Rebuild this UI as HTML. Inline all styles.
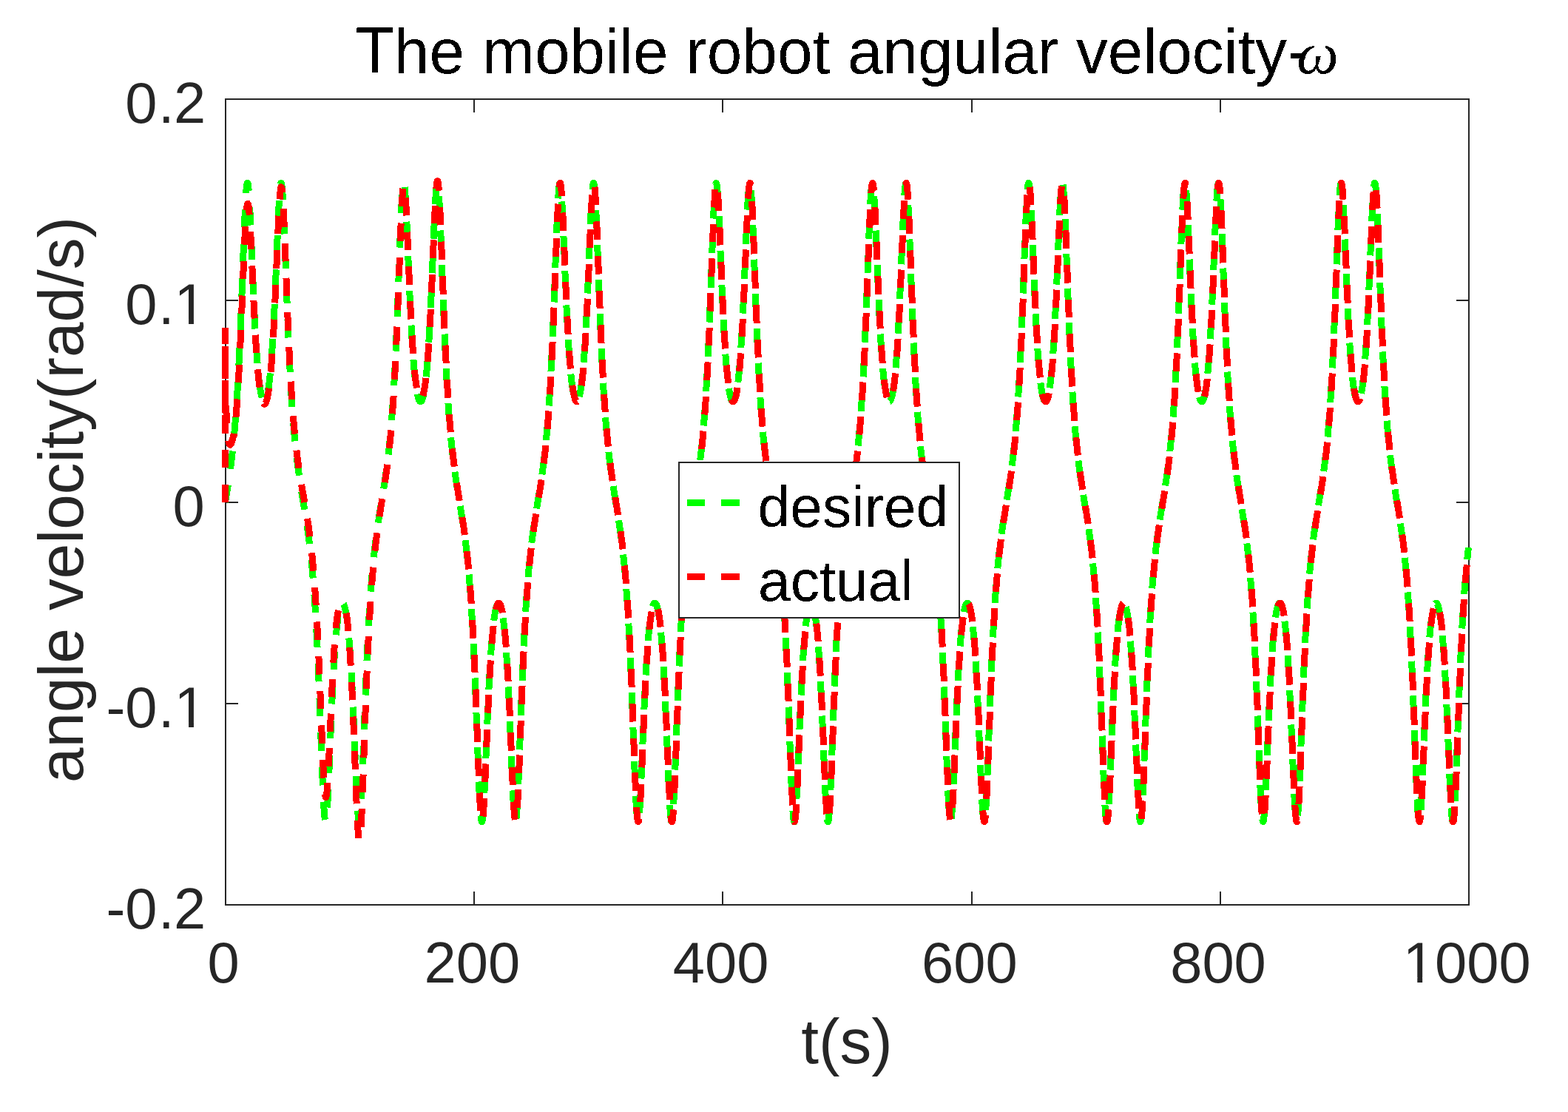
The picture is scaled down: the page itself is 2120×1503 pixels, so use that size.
<!DOCTYPE html>
<html lang="en"><head><meta charset="utf-8"><title>The mobile robot angular velocity</title>
<style>html,body{margin:0;padding:0;background:#fff;overflow:hidden}svg{display:block}text{font-family:'Liberation Sans', Arial, Helvetica, sans-serif}</style></head><body>
<svg width="2120" height="1503" viewBox="0 0 2120 1503">
<rect x="0" y="0" width="2120" height="1503" fill="#fff"/>
<g stroke="#262626" stroke-width="2" fill="none" shape-rendering="crispEdges">
<rect x="305" y="134" width="1681" height="1089"/>
<path d="M641,1223 v-18 M641,134 v18 M977,1223 v-18 M977,134 v18 M1314,1223 v-18 M1314,134 v18 M1650,1223 v-18 M1650,134 v18 M305,951 h17 M1986,951 h-17 M305,679 h17 M1986,679 h-17 M305,406 h17 M1986,406 h-17"/>
</g>
<g fill="#262626" font-size="77.7">
<text x="302.2" y="1328.3" text-anchor="middle">0</text>
<text x="638.4" y="1328.3" text-anchor="middle">200</text>
<text x="974.6" y="1328.3" text-anchor="middle">400</text>
<text x="1310.8" y="1328.3" text-anchor="middle">600</text>
<text x="1647.0" y="1328.3" text-anchor="middle">800</text>
<text x="1983.2" y="1328.3" text-anchor="middle">1000</text>
<text x="169.3 214 234.9" y="166.0">0.2</text>
<text x="169.3 214 235.6" y="438.2">0.1</text>
<text x="233.5" y="710.5">0</text>
<text x="143.5 169.3 214 235.6" y="982.8">-0.1</text>
<text x="143.5 169.3 214 234.9" y="1255.0">-0.2</text>
</g>
<g fill="#fff">
<rect x="239" y="431" width="16.07" height="8"/><rect x="261.96" y="431" width="15.04" height="8"/>
<rect x="239" y="976" width="16.07" height="8"/><rect x="261.96" y="976" width="15.04" height="8"/>
<rect x="1900" y="1321" width="16.28" height="8"/><rect x="1923.16" y="1321" width="14.84" height="8"/>
</g>
<text x="1145" y="1437" font-size="85.5" fill="#262626" text-anchor="middle">t(s)</text>
<text transform="translate(112,675.5) rotate(-90)" font-size="85.5" fill="#262626" text-anchor="middle">angle velocity(rad/s)</text>
<defs><filter id="bin" x="-5%" y="-20%" width="110%" height="140%" color-interpolation-filters="sRGB"><feComponentTransfer><feFuncA type="discrete" tableValues="0 1"/></feComponentTransfer></filter></defs>
<g font-size="85.5" fill="#000" filter="url(#bin)"><text transform="translate(480.6,99) scale(1,1.05)">T</text><text x="532.83" y="99">he mobile robot angular velocity<tspan dx="0.8" dy="-1.4">-</tspan><tspan x="1753.3" y="99.4" font-family="'Liberation Serif', 'DejaVu Serif', serif" font-style="italic" font-size="80">ω</tspan></text></g>
<g fill="none" stroke-width="9" stroke-linejoin="round" shape-rendering="crispEdges">
<path stroke="#00ff00" stroke-dasharray="24.500 22.210" stroke-dashoffset="1.000" d="M304.50,679.00 L304.84,676.96 L305.17,674.91 L305.51,672.87 L305.84,670.81 L306.18,668.75 L306.52,666.67 L306.85,664.59 L307.19,662.49 L307.53,660.37 L307.86,658.24 L308.20,656.08 L308.53,653.90 L308.87,651.70 L309.21,649.46 L309.54,647.20 L309.88,644.90 L310.22,642.57 L310.55,640.20 L310.89,637.78 L311.22,635.33 L311.56,632.83 L311.90,630.27 L312.23,627.67 L312.57,625.01 L312.90,622.29 L313.24,619.51 L313.58,616.66 L313.91,613.75 L314.25,610.76 L314.59,607.69 L314.92,604.54 L315.26,601.31 L315.59,597.99 L315.93,594.57 L316.27,591.05 L316.60,587.43 L316.94,583.71 L317.28,579.86 L317.61,575.90 L317.95,571.82 L318.28,567.61 L318.62,563.26 L318.96,558.77 L319.29,554.13 L319.63,549.34 L319.97,544.40 L320.30,539.29 L320.64,534.00 L320.97,528.55 L321.31,522.91 L321.65,517.08 L321.98,511.06 L322.32,504.84 L322.65,498.42 L322.99,491.80 L323.33,484.96 L323.66,477.92 L324.00,470.66 L324.34,463.20 L324.67,455.52 L325.01,447.63 L325.34,439.54 L325.68,431.26 L326.02,422.79 L326.35,414.15 L326.69,405.35 L327.03,396.42 L327.36,387.36 L327.70,378.22 L328.03,369.01 L328.37,359.78 L328.71,350.56 L329.04,341.40 L329.38,332.34 L329.71,323.43 L330.05,314.73 L330.39,306.30 L330.72,298.20 L331.06,290.48 L331.40,283.22 L331.73,276.47 L332.07,270.30 L332.40,264.77 L332.74,259.92 L333.08,255.81 L333.41,252.47 L333.75,249.95 L334.09,248.26 L334.42,247.42 L334.76,247.43 L335.09,248.30 L335.43,250.00 L335.77,252.50 L336.10,255.78 L336.44,259.79 L336.78,264.48 L337.11,269.80 L337.45,275.69 L337.78,282.09 L338.12,288.93 L338.46,296.15 L338.79,303.69 L339.13,311.49 L339.46,319.49 L339.80,327.63 L340.14,335.86 L340.47,344.14 L340.81,352.42 L341.15,360.66 L341.48,368.83 L341.82,376.90 L342.15,384.84 L342.49,392.63 L342.83,400.25 L343.16,407.69 L343.50,414.92 L343.84,421.94 L344.17,428.75 L344.51,435.34 L344.84,441.70 L345.18,447.83 L345.52,453.73 L345.85,459.40 L346.19,464.85 L346.52,470.07 L346.86,475.07 L347.20,479.86 L347.53,484.42 L347.87,488.78 L348.21,492.93 L348.54,496.88 L348.88,500.64 L349.21,504.21 L349.55,507.58 L349.89,510.78 L350.22,513.80 L350.56,516.65 L350.90,519.33 L351.23,521.85 L351.57,524.21 L351.90,526.41 L352.24,528.46 L352.58,530.36 L352.91,532.12 L353.25,533.74 L353.59,535.21 L353.92,536.55 L354.26,537.76 L354.59,538.84 L354.93,539.78 L355.27,540.60 L355.60,541.29 L355.94,541.85 L356.27,542.29 L356.61,542.61 L356.95,542.80 L357.28,542.87 L357.62,542.82 L357.96,542.65 L358.29,542.35 L358.63,541.93 L358.96,541.39 L359.30,540.72 L359.64,539.92 L359.97,539.00 L360.31,537.94 L360.65,536.76 L360.98,535.44 L361.32,533.98 L361.65,532.39 L361.99,530.65 L362.33,528.77 L362.66,526.75 L363.00,524.57 L363.33,522.23 L363.67,519.74 L364.01,517.09 L364.34,514.27 L364.68,511.27 L365.02,508.11 L365.35,504.76 L365.69,501.22 L366.02,497.50 L366.36,493.58 L366.70,489.46 L367.03,485.13 L367.37,480.60 L367.71,475.85 L368.04,470.88 L368.38,465.70 L368.71,460.29 L369.05,454.65 L369.39,448.78 L369.72,442.69 L370.06,436.37 L370.40,429.82 L370.73,423.04 L371.07,416.05 L371.40,408.85 L371.74,401.45 L372.08,393.86 L372.41,386.10 L372.75,378.18 L373.08,370.13 L373.42,361.97 L373.76,353.74 L374.09,345.46 L374.43,337.18 L374.77,328.94 L375.10,320.78 L375.44,312.75 L375.77,304.92 L376.11,297.33 L376.45,290.06 L376.78,283.15 L377.12,276.68 L377.46,270.71 L377.79,265.29 L378.13,260.49 L378.46,256.37 L378.80,252.97 L379.14,250.34 L379.47,248.51 L379.81,247.52 L380.14,247.36 L380.48,248.07 L380.82,249.62 L381.15,252.01 L381.49,255.22 L381.83,259.21 L382.16,263.95 L382.50,269.38 L382.83,275.45 L383.17,282.11 L383.51,289.29 L383.84,296.94 L384.18,304.99 L384.52,313.37 L384.85,322.03 L385.19,330.91 L385.52,339.95 L385.86,349.10 L386.20,358.31 L386.53,367.54 L386.87,376.75 L387.21,385.91 L387.54,394.98 L387.88,403.94 L388.21,412.76 L388.55,421.43 L388.89,429.92 L389.22,438.24 L389.56,446.36 L389.89,454.28 L390.23,461.99 L390.57,469.49 L390.90,476.78 L391.24,483.86 L391.58,490.72 L391.91,497.38 L392.25,503.83 L392.58,510.08 L392.92,516.13 L393.26,521.99 L393.59,527.66 L393.93,533.15 L394.27,538.46 L394.60,543.59 L394.94,548.57 L395.27,553.38 L395.61,558.04 L395.95,562.55 L396.28,566.92 L396.62,571.16 L396.95,575.26 L397.29,579.24 L397.63,583.10 L397.96,586.85 L398.30,590.48 L398.64,594.02 L398.97,597.45 L399.31,600.79 L399.64,604.03 L399.98,607.19 L400.32,610.27 L400.65,613.28 L400.99,616.20 L401.33,619.06 L401.66,621.85 L402.00,624.58 L402.33,627.25 L402.67,629.86 L403.01,632.42 L403.34,634.93 L403.68,637.40 L404.02,639.81 L404.35,642.19 L404.69,644.53 L405.02,646.83 L405.36,649.10 L405.70,651.34 L406.03,653.55 L406.37,655.74 L406.70,657.90 L407.04,660.03 L407.38,662.15 L407.71,664.26 L408.05,666.34 L408.39,668.42 L408.72,670.48 L409.06,672.54 L409.39,674.59 L409.73,676.63 L410.07,678.67 L410.40,680.72 L410.74,682.76 L411.08,684.81 L411.41,686.86 L411.75,688.92 L412.08,690.99 L412.42,693.08 L412.76,695.17 L413.09,697.29 L413.43,699.42 L413.76,701.57 L414.10,703.75 L414.44,705.95 L414.77,708.18 L415.11,710.44 L415.45,712.73 L415.78,715.06 L416.12,717.42 L416.45,719.83 L416.79,722.28 L417.13,724.77 L417.46,727.32 L417.80,729.91 L418.14,732.56 L418.47,735.27 L418.81,738.04 L419.14,740.88 L419.48,743.78 L419.82,746.76 L420.15,749.82 L420.49,752.95 L420.83,756.17 L421.16,759.48 L421.50,762.88 L421.83,766.38 L422.17,769.98 L422.51,773.69 L422.84,777.52 L423.18,781.46 L423.51,785.52 L423.85,789.71 L424.19,794.04 L424.52,798.51 L424.86,803.12 L425.20,807.88 L425.53,812.80 L425.87,817.89 L426.20,823.14 L426.54,828.57 L426.88,834.18 L427.21,839.98 L427.55,845.97 L427.89,852.16 L428.22,858.54 L428.56,865.13 L428.89,871.93 L429.23,878.94 L429.57,886.17 L429.90,893.60 L430.24,901.25 L430.57,909.10 L430.91,917.15 L431.25,925.41 L431.58,933.85 L431.92,942.46 L432.26,951.24 L432.59,960.15 L432.93,969.19 L433.26,978.32 L433.60,987.52 L433.94,996.75 L434.27,1005.97 L434.61,1015.15 L434.95,1024.23 L435.28,1033.16 L435.62,1041.90 L435.95,1050.38 L436.29,1058.54 L436.63,1066.32 L436.96,1073.66 L437.30,1080.49 L437.64,1086.76 L437.97,1092.40 L438.31,1097.36 L438.64,1101.59 L438.98,1105.05 L439.32,1107.71 L439.65,1109.53 L439.99,1110.50 L440.32,1110.62 L440.66,1109.89 L441.00,1108.33 L441.33,1105.95 L441.67,1102.79 L442.01,1098.89 L442.34,1094.31 L442.68,1089.08 L443.01,1083.28 L443.35,1076.96 L443.69,1070.19 L444.02,1063.02 L444.36,1055.53 L444.70,1047.76 L445.03,1039.80 L445.37,1031.67 L445.70,1023.45 L446.04,1015.18 L446.38,1006.90 L446.71,998.64 L447.05,990.46 L447.38,982.37 L447.72,974.41 L448.06,966.60 L448.39,958.95 L448.73,951.49 L449.07,944.22 L449.40,937.16 L449.74,930.32 L450.07,923.70 L450.41,917.30 L450.75,911.13 L451.08,905.19 L451.42,899.48 L451.76,894.00 L452.09,888.74 L452.43,883.71 L452.76,878.89 L453.10,874.29 L453.44,869.90 L453.77,865.71 L454.11,861.73 L454.45,857.94 L454.78,854.35 L455.12,850.94 L455.45,847.72 L455.79,844.67 L456.13,841.79 L456.46,839.08 L456.80,836.54 L457.13,834.16 L457.47,831.93 L457.81,829.86 L458.14,827.93 L458.48,826.15 L458.82,824.51 L459.15,823.01 L459.49,821.65 L459.82,820.42 L460.16,819.33 L460.50,818.36 L460.83,817.52 L461.17,816.81 L461.51,816.23 L461.84,815.77 L462.18,815.43 L462.51,815.22 L462.85,815.13 L463.19,815.16 L463.52,815.32 L463.86,815.59 L464.19,815.99 L464.53,816.52 L464.87,817.17 L465.20,817.94 L465.54,818.85 L465.88,819.88 L466.21,821.05 L466.55,822.34 L466.88,823.78 L467.22,825.35 L467.56,827.06 L467.89,828.92 L468.23,830.92 L468.57,833.08 L468.90,835.38 L469.24,837.85 L469.57,840.48 L469.91,843.27 L470.25,846.24 L470.58,849.38 L470.92,852.70 L471.26,856.20 L471.59,859.90 L471.93,863.79 L472.26,867.87 L472.60,872.17 L472.94,876.67 L473.27,881.38 L473.61,886.31 L473.94,891.46 L474.28,896.84 L474.62,902.44 L474.95,908.27 L475.29,914.32 L475.63,920.61 L475.96,927.13 L476.30,933.86 L476.63,940.82 L476.97,947.99 L477.31,955.36 L477.64,962.92 L477.98,970.66 L478.32,978.55 L478.65,986.58 L478.99,994.72 L479.32,1002.95 L479.66,1011.22 L480.00,1019.50 L480.33,1027.76 L480.67,1035.93 L481.00,1043.98 L481.34,1051.85 L481.68,1059.48 L482.01,1066.81 L482.35,1073.78 L482.69,1080.32 L483.02,1086.38 L483.36,1091.89 L483.69,1096.79 L484.03,1101.02 L484.37,1104.54 L484.70,1107.29 L485.04,1109.25 L485.38,1110.38 L485.71,1110.67 L486.05,1110.10 L486.38,1108.68 L486.72,1106.42 L487.06,1103.34 L487.39,1099.47 L487.73,1094.85 L488.07,1089.53 L488.40,1083.56 L488.74,1076.99 L489.07,1069.88 L489.41,1062.31 L489.75,1054.32 L490.08,1045.98 L490.42,1037.37 L490.75,1028.52 L491.09,1019.50 L491.43,1010.37 L491.76,1001.16 L492.10,991.93 L492.44,982.71 L492.77,973.54 L493.11,964.46 L493.44,955.48 L493.78,946.63 L494.12,937.94 L494.45,929.42 L494.79,921.07 L495.13,912.92 L495.46,904.97 L495.80,897.23 L496.13,889.69 L496.47,882.37 L496.81,875.26 L497.14,868.36 L497.48,861.67 L497.81,855.18 L498.15,848.90 L498.49,842.82 L498.82,836.93 L499.16,831.23 L499.50,825.72 L499.83,820.38 L500.17,815.21 L500.50,810.21 L500.84,805.38 L501.18,800.69 L501.51,796.16 L501.85,791.76 L502.19,787.51 L502.52,783.38 L502.86,779.38 L503.19,775.51 L503.53,771.74 L503.87,768.09 L504.20,764.54 L504.54,761.09 L504.88,757.74 L505.21,754.48 L505.55,751.30 L505.88,748.21 L506.22,745.20 L506.56,742.26 L506.89,739.39 L507.23,736.59 L507.56,733.85 L507.90,731.17 L508.24,728.55 L508.57,725.98 L508.91,723.46 L509.25,720.99 L509.58,718.57 L509.92,716.18 L510.25,713.84 L510.59,711.53 L510.93,709.26 L511.26,707.01 L511.60,704.80 L511.94,702.61 L512.27,700.45 L512.61,698.31 L512.94,696.18 L513.28,694.08 L513.62,691.99 L513.95,689.91 L514.29,687.85 L514.62,685.79 L514.96,683.74 L515.30,681.69 L515.63,679.65 L515.97,677.61 L516.31,675.57 L516.64,673.52 L516.98,671.47 L517.31,669.41 L517.65,667.34 L517.99,665.26 L518.32,663.16 L518.66,661.05 L519.00,658.92 L519.33,656.77 L519.67,654.60 L520.00,652.40 L520.34,650.18 L520.68,647.92 L521.01,645.64 L521.35,643.31 L521.69,640.96 L522.02,638.56 L522.36,636.12 L522.69,633.63 L523.03,631.09 L523.37,628.51 L523.70,625.86 L524.04,623.16 L524.37,620.40 L524.71,617.58 L525.05,614.68 L525.38,611.72 L525.72,608.68 L526.06,605.55 L526.39,602.35 L526.73,599.05 L527.06,595.67 L527.40,592.18 L527.74,588.60 L528.07,584.90 L528.41,581.10 L528.75,577.18 L529.08,573.13 L529.42,568.96 L529.75,564.66 L530.09,560.21 L530.43,555.63 L530.76,550.89 L531.10,545.99 L531.43,540.93 L531.77,535.70 L532.11,530.30 L532.44,524.72 L532.78,518.95 L533.12,513.00 L533.45,506.84 L533.79,500.49 L534.12,493.93 L534.46,487.16 L534.80,480.19 L535.13,473.00 L535.47,465.60 L535.81,457.99 L536.14,450.17 L536.48,442.14 L536.81,433.92 L537.15,425.51 L537.49,416.92 L537.82,408.17 L538.16,399.28 L538.50,390.26 L538.83,381.14 L539.17,371.95 L539.50,362.72 L539.84,353.49 L540.18,344.31 L540.51,335.21 L540.85,326.25 L541.18,317.48 L541.52,308.95 L541.86,300.74 L542.19,292.89 L542.53,285.48 L542.87,278.56 L543.20,272.20 L543.54,266.46 L543.87,261.38 L544.21,257.03 L544.55,253.45 L544.88,250.66 L545.22,248.70 L545.56,247.59 L545.89,247.34 L546.23,247.93 L546.56,249.37 L546.90,251.62 L547.24,254.65 L547.57,258.44 L547.91,262.92 L548.25,268.04 L548.58,273.76 L548.92,280.00 L549.25,286.71 L549.59,293.82 L549.93,301.26 L550.26,308.98 L550.60,316.92 L550.93,325.02 L551.27,333.23 L551.61,341.50 L551.94,349.79 L552.28,358.04 L552.62,366.24 L552.95,374.35 L553.29,382.33 L553.62,390.17 L553.96,397.85 L554.30,405.34 L554.63,412.64 L554.97,419.73 L555.31,426.61 L555.64,433.26 L555.98,439.70 L556.31,445.90 L556.65,451.88 L556.99,457.62 L557.32,463.14 L557.66,468.43 L557.99,473.50 L558.33,478.36 L558.67,482.99 L559.00,487.42 L559.34,491.63 L559.68,495.65 L560.01,499.47 L560.35,503.09 L560.68,506.53 L561.02,509.78 L561.36,512.86 L561.69,515.76 L562.03,518.49 L562.37,521.06 L562.70,523.47 L563.04,525.72 L563.37,527.82 L563.71,529.77 L564.05,531.58 L564.38,533.24 L564.72,534.76 L565.06,536.14 L565.39,537.39 L565.73,538.51 L566.06,539.49 L566.40,540.35 L566.74,541.08 L567.07,541.69 L567.41,542.17 L567.74,542.52 L568.08,542.76 L568.42,542.87 L568.75,542.85 L569.09,542.72 L569.43,542.46 L569.76,542.08 L570.10,541.57 L570.43,540.94 L570.77,540.19 L571.11,539.30 L571.44,538.29 L571.78,537.15 L572.12,535.87 L572.45,534.46 L572.79,532.91 L573.12,531.22 L573.46,529.39 L573.80,527.41 L574.13,525.28 L574.47,522.99 L574.80,520.55 L575.14,517.95 L575.48,515.18 L575.81,512.25 L576.15,509.13 L576.49,505.84 L576.82,502.37 L577.16,498.70 L577.49,494.85 L577.83,490.79 L578.17,486.53 L578.50,482.06 L578.84,477.39 L579.18,472.49 L579.51,467.37 L579.85,462.04 L580.18,456.47 L580.52,450.68 L580.86,444.66 L581.19,438.40 L581.53,431.93 L581.87,425.22 L582.20,418.30 L582.54,411.17 L582.87,403.83 L583.21,396.30 L583.55,388.59 L583.88,380.72 L584.22,372.70 L584.55,364.58 L584.89,356.37 L585.23,348.10 L585.56,339.82 L585.90,331.56 L586.24,323.36 L586.57,315.29 L586.91,307.39 L587.24,299.72 L587.58,292.34 L587.92,285.31 L588.25,278.69 L588.59,272.55 L588.93,266.95 L589.26,261.95 L589.60,257.61 L589.93,253.97 L590.27,251.09 L590.61,249.01 L590.94,247.74 L591.28,247.32 L591.61,247.75 L591.95,249.03 L592.29,251.16 L592.62,254.11 L592.96,257.86 L593.30,262.36 L593.63,267.58 L593.97,273.45 L594.30,279.93 L594.64,286.95 L594.98,294.46 L595.31,302.38 L595.65,310.67 L595.99,319.25 L596.32,328.06 L596.66,337.05 L596.99,346.17 L597.33,355.37 L597.67,364.60 L598.00,373.82 L598.34,383.00 L598.67,392.10 L599.01,401.10 L599.35,409.97 L599.68,418.68 L600.02,427.24 L600.36,435.61 L600.69,443.79 L601.03,451.78 L601.36,459.55 L601.70,467.12 L602.04,474.48 L602.37,481.62 L602.71,488.56 L603.05,495.28 L603.38,501.80 L603.72,508.11 L604.05,514.23 L604.39,520.14 L604.73,525.87 L605.06,531.42 L605.40,536.78 L605.74,541.98 L606.07,547.00 L606.41,551.86 L606.74,556.57 L607.08,561.13 L607.42,565.55 L607.75,569.82 L608.09,573.97 L608.42,577.99 L608.76,581.88 L609.10,585.67 L609.43,589.34 L609.77,592.90 L610.11,596.36 L610.44,599.73 L610.78,603.01 L611.11,606.20 L611.45,609.30 L611.79,612.33 L612.12,615.28 L612.46,618.16 L612.80,620.97 L613.13,623.72 L613.47,626.41 L613.80,629.04 L614.14,631.61 L614.48,634.14 L614.81,636.62 L615.15,639.05 L615.49,641.44 L615.82,643.79 L616.16,646.10 L616.49,648.38 L616.83,650.63 L617.17,652.85 L617.50,655.04 L617.84,657.21 L618.17,659.36 L618.51,661.48 L618.85,663.59 L619.18,665.68 L619.52,667.76 L619.86,669.83 L620.19,671.88 L620.53,673.94 L620.86,675.98 L621.20,678.02 L621.54,680.07 L621.87,682.11 L622.21,684.16 L622.55,686.21 L622.88,688.27 L623.22,690.33 L623.55,692.41 L623.89,694.51 L624.23,696.61 L624.56,698.74 L624.90,700.89 L625.23,703.05 L625.57,705.25 L625.91,707.47 L626.24,709.72 L626.58,712.00 L626.92,714.31 L627.25,716.67 L627.59,719.06 L627.92,721.49 L628.26,723.97 L628.60,726.50 L628.93,729.08 L629.27,731.71 L629.61,734.40 L629.94,737.15 L630.28,739.97 L630.61,742.85 L630.95,745.80 L631.29,748.83 L631.62,751.94 L631.96,755.14 L632.30,758.42 L632.63,761.79 L632.97,765.25 L633.30,768.82 L633.64,772.50 L633.98,776.29 L634.31,780.19 L634.65,784.21 L634.98,788.36 L635.32,792.65 L635.66,797.07 L635.99,801.63 L636.33,806.35 L636.67,811.22 L637.00,816.25 L637.34,821.45 L637.67,826.82 L638.01,832.38 L638.35,838.11 L638.68,844.04 L639.02,850.16 L639.36,856.49 L639.69,863.01 L640.03,869.74 L640.36,876.69 L640.70,883.84 L641.04,891.21 L641.37,898.79 L641.71,906.57 L642.04,914.57 L642.38,922.76 L642.72,931.14 L643.05,939.70 L643.39,948.42 L643.73,957.30 L644.06,966.30 L644.40,975.40 L644.73,984.58 L645.07,993.81 L645.41,1003.04 L645.74,1012.23 L646.08,1021.35 L646.42,1030.34 L646.75,1039.14 L647.09,1047.71 L647.42,1055.98 L647.76,1063.88 L648.10,1071.37 L648.43,1078.37 L648.77,1084.82 L649.11,1090.67 L649.44,1095.85 L649.78,1100.32 L650.11,1104.04 L650.45,1106.95 L650.79,1109.04 L651.12,1110.29 L651.46,1110.68 L651.79,1110.22 L652.13,1108.92 L652.47,1106.79 L652.80,1103.88 L653.14,1100.21 L653.48,1095.84 L653.81,1090.81 L654.15,1085.19 L654.48,1079.03 L654.82,1072.39 L655.16,1065.34 L655.49,1057.94 L655.83,1050.26 L656.17,1042.35 L656.50,1034.27 L656.84,1026.08 L657.17,1017.82 L657.51,1009.53 L657.85,1001.27 L658.18,993.06 L658.52,984.94 L658.85,976.93 L659.19,969.07 L659.53,961.37 L659.86,953.84 L660.20,946.51 L660.54,939.39 L660.87,932.47 L661.21,925.78 L661.54,919.31 L661.88,913.07 L662.22,907.06 L662.55,901.28 L662.89,895.72 L663.23,890.39 L663.56,885.29 L663.90,880.40 L664.23,875.73 L664.57,871.28 L664.91,867.03 L665.24,862.98 L665.58,859.13 L665.91,855.47 L666.25,852.01 L666.59,848.72 L666.92,845.62 L667.26,842.69 L667.60,839.93 L667.93,837.33 L668.27,834.90 L668.60,832.62 L668.94,830.50 L669.28,828.53 L669.61,826.70 L669.95,825.02 L670.29,823.47 L670.62,822.07 L670.96,820.80 L671.29,819.66 L671.63,818.65 L671.97,817.78 L672.30,817.03 L672.64,816.40 L672.98,815.90 L673.31,815.53 L673.65,815.27 L673.98,815.14 L674.32,815.14 L674.66,815.25 L674.99,815.49 L675.33,815.85 L675.66,816.34 L676.00,816.95 L676.34,817.68 L676.67,818.55 L677.01,819.54 L677.35,820.66 L677.68,821.92 L678.02,823.31 L678.35,824.83 L678.69,826.50 L679.03,828.31 L679.36,830.27 L679.70,832.37 L680.04,834.63 L680.37,837.05 L680.71,839.62 L681.04,842.36 L681.38,845.27 L681.72,848.36 L682.05,851.62 L682.39,855.07 L682.73,858.70 L683.06,862.53 L683.40,866.55 L683.73,870.78 L684.07,875.21 L684.41,879.86 L684.74,884.72 L685.08,889.80 L685.41,895.10 L685.75,900.63 L686.09,906.38 L686.42,912.37 L686.76,918.58 L687.10,925.03 L687.43,931.69 L687.77,938.58 L688.10,945.68 L688.44,952.99 L688.78,960.49 L689.11,968.17 L689.45,976.02 L689.79,984.01 L690.12,992.12 L690.46,1000.32 L690.79,1008.58 L691.13,1016.87 L691.47,1025.13 L691.80,1033.34 L692.14,1041.43 L692.47,1049.36 L692.81,1057.08 L693.15,1064.51 L693.48,1071.60 L693.82,1078.29 L694.16,1084.51 L694.49,1090.20 L694.83,1095.30 L695.16,1099.75 L695.50,1103.50 L695.84,1106.50 L696.17,1108.71 L696.51,1110.11 L696.85,1110.67 L697.18,1110.38 L697.52,1109.23 L697.85,1107.23 L698.19,1104.41 L698.53,1100.79 L698.86,1096.40 L699.20,1091.30 L699.54,1085.53 L699.87,1079.14 L700.21,1072.20 L700.54,1064.77 L700.88,1056.90 L701.22,1048.67 L701.55,1040.14 L701.89,1031.36 L702.22,1022.39 L702.56,1013.29 L702.90,1004.10 L703.23,994.87 L703.57,985.64 L703.91,976.46 L704.24,967.34 L704.58,958.33 L704.91,949.44 L705.25,940.69 L705.59,932.11 L705.92,923.71 L706.26,915.50 L706.60,907.48 L706.93,899.67 L707.27,892.07 L707.60,884.68 L707.94,877.50 L708.28,870.53 L708.61,863.77 L708.95,857.22 L709.28,850.88 L709.62,844.73 L709.96,838.79 L710.29,833.03 L710.63,827.45 L710.97,822.06 L711.30,816.84 L711.64,811.79 L711.97,806.90 L712.31,802.17 L712.65,797.59 L712.98,793.15 L713.32,788.85 L713.66,784.68 L713.99,780.64 L714.33,776.73 L714.66,772.93 L715.00,769.24 L715.34,765.66 L715.67,762.18 L716.01,758.80 L716.35,755.51 L716.68,752.31 L717.02,749.19 L717.35,746.15 L717.69,743.19 L718.03,740.30 L718.36,737.47 L718.70,734.71 L719.03,732.02 L719.37,729.38 L719.71,726.79 L720.04,724.26 L720.38,721.78 L720.72,719.34 L721.05,716.94 L721.39,714.58 L721.72,712.26 L722.06,709.98 L722.40,707.72 L722.73,705.50 L723.07,703.31 L723.41,701.13 L723.74,698.99 L724.08,696.86 L724.41,694.75 L724.75,692.65 L725.09,690.57 L725.42,688.50 L725.76,686.44 L726.09,684.39 L726.43,682.34 L726.77,680.30 L727.10,678.26 L727.44,676.22 L727.78,674.17 L728.11,672.12 L728.45,670.06 L728.78,668.00 L729.12,665.92 L729.46,663.83 L729.79,661.72 L730.13,659.60 L730.47,657.46 L730.80,655.29 L731.14,653.10 L731.47,650.89 L731.81,648.64 L732.15,646.37 L732.48,644.06 L732.82,641.71 L733.15,639.33 L733.49,636.90 L733.83,634.43 L734.16,631.91 L734.50,629.34 L734.84,626.71 L735.17,624.03 L735.51,621.29 L735.84,618.49 L736.18,615.61 L736.52,612.67 L736.85,609.65 L737.19,606.56 L737.53,603.38 L737.86,600.11 L738.20,596.76 L738.53,593.30 L738.87,589.75 L739.21,586.09 L739.54,582.32 L739.88,578.44 L740.22,574.44 L740.55,570.31 L740.89,566.04 L741.22,561.65 L741.56,557.10 L741.90,552.41 L742.23,547.57 L742.57,542.56 L742.90,537.39 L743.24,532.04 L743.58,526.52 L743.91,520.81 L744.25,514.92 L744.59,508.82 L744.92,502.53 L745.26,496.04 L745.59,489.34 L745.93,482.43 L746.27,475.31 L746.60,467.98 L746.94,460.43 L747.28,452.68 L747.61,444.72 L747.95,436.56 L748.28,428.21 L748.62,419.68 L748.96,410.98 L749.29,402.12 L749.63,393.14 L749.96,384.05 L750.30,374.88 L750.64,365.66 L750.97,356.43 L751.31,347.23 L751.65,338.10 L751.98,329.08 L752.32,320.25 L752.65,311.64 L752.99,303.32 L753.33,295.35 L753.66,287.79 L754.00,280.71 L754.34,274.16 L754.67,268.22 L755.01,262.92 L755.34,258.34 L755.68,254.50 L756.02,251.46 L756.35,249.24 L756.69,247.85 L757.03,247.33 L757.36,247.65 L757.70,248.82 L758.03,250.81 L758.37,253.60 L758.71,257.15 L759.04,261.42 L759.38,266.34 L759.71,271.88 L760.05,277.96 L760.39,284.52 L760.72,291.51 L761.06,298.86 L761.40,306.50 L761.73,314.37 L762.07,322.43 L762.40,330.61 L762.74,338.86 L763.08,347.15 L763.41,355.42 L763.75,363.64 L764.09,371.78 L764.42,379.80 L764.76,387.69 L765.09,395.42 L765.43,402.97 L765.77,410.33 L766.10,417.49 L766.44,424.44 L766.77,431.17 L767.11,437.67 L767.45,443.95 L767.78,450.00 L768.12,455.82 L768.46,461.41 L768.79,466.77 L769.13,471.91 L769.46,476.83 L769.80,481.54 L770.14,486.03 L770.47,490.31 L770.81,494.39 L771.15,498.27 L771.48,501.96 L771.82,505.45 L772.15,508.77 L772.49,511.90 L772.83,514.86 L773.16,517.64 L773.50,520.26 L773.84,522.72 L774.17,525.02 L774.51,527.17 L774.84,529.17 L775.18,531.02 L775.52,532.72 L775.85,534.29 L776.19,535.72 L776.52,537.01 L776.86,538.17 L777.20,539.19 L777.53,540.09 L777.87,540.86 L778.21,541.51 L778.54,542.03 L778.88,542.42 L779.21,542.69 L779.55,542.84 L779.89,542.87 L780.22,542.77 L780.56,542.56 L780.90,542.21 L781.23,541.75 L781.57,541.16 L781.90,540.44 L782.24,539.60 L782.58,538.63 L782.91,537.53 L783.25,536.29 L783.59,534.92 L783.92,533.42 L784.26,531.77 L784.59,529.99 L784.93,528.05 L785.27,525.97 L785.60,523.74 L785.94,521.35 L786.27,518.80 L786.61,516.08 L786.95,513.20 L787.28,510.14 L787.62,506.91 L787.96,503.49 L788.29,499.89 L788.63,496.10 L788.96,492.10 L789.30,487.91 L789.64,483.51 L789.97,478.90 L790.31,474.07 L790.65,469.03 L790.98,463.76 L791.32,458.27 L791.65,452.55 L791.99,446.60 L792.33,440.42 L792.66,434.01 L793.00,427.38 L793.33,420.53 L793.67,413.46 L794.01,406.19 L794.34,398.72 L794.68,391.06 L795.02,383.24 L795.35,375.27 L795.69,367.18 L796.02,358.99 L796.36,350.74 L796.70,342.45 L797.03,334.18 L797.37,325.96 L797.71,317.85 L798.04,309.89 L798.38,302.14 L798.71,294.65 L799.05,287.50 L799.39,280.75 L799.72,274.45 L800.06,268.67 L800.39,263.47 L800.73,258.92 L801.07,255.05 L801.40,251.93 L801.74,249.58 L802.08,248.05 L802.41,247.36 L802.75,247.52 L803.08,248.53 L803.42,250.39 L803.76,253.09 L804.09,256.58 L804.43,260.85 L804.77,265.84 L805.10,271.51 L805.44,277.80 L805.77,284.66 L806.11,292.02 L806.45,299.82 L806.78,307.99 L807.12,316.48 L807.46,325.23 L807.79,334.17 L808.13,343.26 L808.46,352.44 L808.80,361.66 L809.14,370.89 L809.47,380.09 L809.81,389.21 L810.14,398.25 L810.48,407.16 L810.82,415.93 L811.15,424.53 L811.49,432.96 L811.83,441.21 L812.16,449.25 L812.50,457.10 L812.83,464.73 L813.17,472.16 L813.51,479.37 L813.84,486.37 L814.18,493.16 L814.52,499.75 L814.85,506.12 L815.19,512.30 L815.52,518.28 L815.86,524.07 L816.20,529.67 L816.53,535.09 L816.87,540.34 L817.21,545.42 L817.54,550.33 L817.88,555.09 L818.21,559.69 L818.55,564.16 L818.89,568.48 L819.22,572.66 L819.56,576.72 L819.89,580.66 L820.23,584.47 L820.57,588.18 L820.90,591.78 L821.24,595.27 L821.58,598.67 L821.91,601.97 L822.25,605.19 L822.58,608.32 L822.92,611.37 L823.26,614.35 L823.59,617.25 L823.93,620.08 L824.27,622.85 L824.60,625.56 L824.94,628.21 L825.27,630.80 L825.61,633.34 L825.95,635.83 L826.28,638.28 L826.62,640.68 L826.95,643.05 L827.29,645.37 L827.63,647.66 L827.96,649.92 L828.30,652.15 L828.64,654.35 L828.97,656.52 L829.31,658.67 L829.64,660.81 L829.98,662.92 L830.32,665.02 L830.65,667.10 L830.99,669.17 L831.33,671.23 L831.66,673.28 L832.00,675.33 L832.33,677.37 L832.67,679.42 L833.01,681.46 L833.34,683.50 L833.68,685.55 L834.01,687.61 L834.35,689.67 L834.69,691.75 L835.02,693.84 L835.36,695.94 L835.70,698.06 L836.03,700.20 L836.37,702.36 L836.70,704.55 L837.04,706.76 L837.38,709.00 L837.71,711.27 L838.05,713.57 L838.39,715.91 L838.72,718.29 L839.06,720.71 L839.39,723.18 L839.73,725.69 L840.07,728.25 L840.40,730.87 L840.74,733.54 L841.08,736.27 L841.41,739.06 L841.75,741.92 L842.08,744.86 L842.42,747.86 L842.76,750.94 L843.09,754.11 L843.43,757.36 L843.76,760.70 L844.10,764.14 L844.44,767.68 L844.77,771.32 L845.11,775.07 L845.45,778.93 L845.78,782.92 L846.12,787.03 L846.45,791.27 L846.79,795.64 L847.13,800.16 L847.46,804.83 L847.80,809.65 L848.14,814.63 L848.47,819.78 L848.81,825.09 L849.14,830.59 L849.48,836.27 L849.82,842.13 L850.15,848.19 L850.49,854.45 L850.83,860.91 L851.16,867.58 L851.50,874.45 L851.83,881.54 L852.17,888.84 L852.51,896.35 L852.84,904.07 L853.18,912.00 L853.51,920.13 L853.85,928.45 L854.19,936.95 L854.52,945.63 L854.86,954.46 L855.20,963.42 L855.53,972.49 L855.87,981.65 L856.20,990.87 L856.54,1000.10 L856.88,1009.31 L857.21,1018.46 L857.55,1027.49 L857.89,1036.36 L858.22,1045.01 L858.56,1053.38 L858.89,1061.41 L859.23,1069.04 L859.57,1076.20 L859.90,1082.83 L860.24,1088.88 L860.57,1094.28 L860.91,1098.98 L861.25,1102.94 L861.58,1106.11 L861.92,1108.47 L862.26,1109.98 L862.59,1110.65 L862.93,1110.46 L863.26,1109.42 L863.60,1107.56 L863.94,1104.89 L864.27,1101.46 L864.61,1097.31 L864.95,1092.48 L865.28,1087.04 L865.62,1081.04 L865.95,1074.55 L866.29,1067.63 L866.63,1060.33 L866.96,1052.74 L867.30,1044.89 L867.63,1036.86 L867.97,1028.70 L868.31,1020.45 L868.64,1012.17 L868.98,1003.90 L869.32,995.66 L869.65,987.51 L869.99,979.47 L870.32,971.56 L870.66,963.80 L871.00,956.22 L871.33,948.82 L871.67,941.63 L872.01,934.65 L872.34,927.89 L872.68,921.35 L873.01,915.04 L873.35,908.95 L873.69,903.09 L874.02,897.47 L874.36,892.07 L874.70,886.89 L875.03,881.94 L875.37,877.20 L875.70,872.67 L876.04,868.36 L876.38,864.25 L876.71,860.33 L877.05,856.62 L877.38,853.09 L877.72,849.75 L878.06,846.59 L878.39,843.60 L878.73,840.79 L879.07,838.14 L879.40,835.66 L879.74,833.33 L880.07,831.16 L880.41,829.14 L880.75,827.27 L881.08,825.54 L881.42,823.95 L881.76,822.50 L882.09,821.19 L882.43,820.01 L882.76,818.96 L883.10,818.04 L883.44,817.25 L883.77,816.59 L884.11,816.05 L884.45,815.63 L884.78,815.34 L885.12,815.17 L885.45,815.13 L885.79,815.20 L886.13,815.40 L886.46,815.72 L886.80,816.17 L887.13,816.74 L887.47,817.44 L887.81,818.26 L888.14,819.21 L888.48,820.29 L888.82,821.50 L889.15,822.85 L889.49,824.33 L889.82,825.95 L890.16,827.72 L890.50,829.63 L890.83,831.69 L891.17,833.89 L891.51,836.26 L891.84,838.78 L892.18,841.47 L892.51,844.33 L892.85,847.36 L893.19,850.56 L893.52,853.95 L893.86,857.52 L894.19,861.29 L894.53,865.25 L894.87,869.41 L895.20,873.78 L895.54,878.35 L895.88,883.14 L896.21,888.15 L896.55,893.39 L896.88,898.84 L897.22,904.53 L897.56,910.44 L897.89,916.58 L898.23,922.95 L898.57,929.55 L898.90,936.36 L899.24,943.40 L899.57,950.64 L899.91,958.08 L900.25,965.71 L900.58,973.51 L900.92,981.45 L901.25,989.53 L901.59,997.70 L901.93,1005.95 L902.26,1014.23 L902.60,1022.50 L902.94,1030.73 L903.27,1038.87 L903.61,1046.86 L903.94,1054.65 L904.28,1062.17 L904.62,1069.38 L904.95,1076.20 L905.29,1082.58 L905.63,1088.45 L905.96,1093.74 L906.30,1098.40 L906.63,1102.38 L906.97,1105.63 L907.31,1108.10 L907.64,1109.76 L907.98,1110.58 L908.32,1110.56 L908.65,1109.68 L908.99,1107.96 L909.32,1105.40 L909.66,1102.03 L910.00,1097.88 L910.33,1093.00 L910.67,1087.44 L911.00,1081.24 L911.34,1074.47 L911.68,1067.18 L912.01,1059.45 L912.35,1051.33 L912.69,1042.89 L913.02,1034.18 L913.36,1025.26 L913.69,1016.20 L914.03,1007.03 L914.37,997.81 L914.70,988.58 L915.04,979.38 L915.38,970.23 L915.71,961.18 L916.05,952.25 L916.38,943.46 L916.72,934.83 L917.06,926.37 L917.39,918.09 L917.73,910.01 L918.07,902.14 L918.40,894.47 L918.74,887.01 L919.07,879.76 L919.41,872.73 L919.75,865.90 L920.08,859.29 L920.42,852.88 L920.75,846.67 L921.09,840.66 L921.43,834.84 L921.76,829.21 L922.10,823.76 L922.44,818.48 L922.77,813.38 L923.11,808.44 L923.44,803.66 L923.78,799.03 L924.12,794.55 L924.45,790.20 L924.79,786.00 L925.13,781.92 L925.46,777.96 L925.80,774.13 L926.13,770.40 L926.47,766.79 L926.81,763.28 L927.14,759.86 L927.48,756.55 L927.81,753.32 L928.15,750.17 L928.49,747.11 L928.82,744.12 L929.16,741.21 L929.50,738.36 L929.83,735.59 L930.17,732.87 L930.50,730.21 L930.84,727.61 L931.18,725.06 L931.51,722.56 L931.85,720.11 L932.19,717.70 L932.52,715.33 L932.86,713.00 L933.19,710.70 L933.53,708.44 L933.87,706.21 L934.20,704.00 L934.54,701.82 L934.88,699.67 L935.21,697.53 L935.55,695.42 L935.88,693.32 L936.22,691.23 L936.56,689.16 L936.89,687.10 L937.23,685.04 L937.56,683.00 L937.90,680.95 L938.24,678.91 L938.57,676.87 L938.91,674.82 L939.25,672.77 L939.58,670.72 L939.92,668.66 L940.25,666.58 L940.59,664.50 L940.93,662.40 L941.26,660.28 L941.60,658.14 L941.94,655.98 L942.27,653.80 L942.61,651.60 L942.94,649.36 L943.28,647.10 L943.62,644.80 L943.95,642.46 L944.29,640.09 L944.62,637.68 L944.96,635.22 L945.30,632.71 L945.63,630.16 L945.97,627.55 L946.31,624.89 L946.64,622.17 L946.98,619.39 L947.31,616.54 L947.65,613.62 L947.99,610.62 L948.32,607.55 L948.66,604.40 L949.00,601.16 L949.33,597.84 L949.67,594.41 L950.00,590.89 L950.34,587.27 L950.68,583.54 L951.01,579.69 L951.35,575.73 L951.68,571.64 L952.02,567.42 L952.36,563.06 L952.69,558.57 L953.03,553.92 L953.37,549.13 L953.70,544.17 L954.04,539.05 L954.37,533.76 L954.71,528.30 L955.05,522.65 L955.38,516.81 L955.72,510.79 L956.06,504.56 L956.39,498.13 L956.73,491.50 L957.06,484.66 L957.40,477.60 L957.74,470.34 L958.07,462.86 L958.41,455.17 L958.75,447.28 L959.08,439.18 L959.42,430.89 L959.75,422.41 L960.09,413.76 L960.43,404.96 L960.76,396.02 L961.10,386.96 L961.43,377.81 L961.77,368.60 L962.11,359.37 L962.44,350.15 L962.78,340.99 L963.12,331.94 L963.45,323.04 L963.79,314.35 L964.12,305.93 L964.46,297.85 L964.80,290.15 L965.13,282.91 L965.47,276.19 L965.81,270.04 L966.14,264.54 L966.48,259.72 L966.81,255.64 L967.15,252.34 L967.49,249.85 L967.82,248.20 L968.16,247.40 L968.50,247.46 L968.83,248.36 L969.17,250.09 L969.50,252.63 L969.84,255.94 L970.18,259.99 L970.51,264.71 L970.85,270.05 L971.18,275.97 L971.52,282.38 L971.86,289.24 L972.19,296.48 L972.53,304.04 L972.87,311.84 L973.20,319.85 L973.54,327.99 L973.87,336.23 L974.21,344.51 L974.55,352.79 L974.88,361.03 L975.22,369.20 L975.56,377.26 L975.89,385.19 L976.23,392.98 L976.56,400.59 L976.90,408.01 L977.24,415.24 L977.57,422.25 L977.91,429.05 L978.24,435.63 L978.58,441.97 L978.92,448.10 L979.25,453.99 L979.59,459.65 L979.93,465.09 L980.26,470.30 L980.60,475.29 L980.93,480.06 L981.27,484.62 L981.61,488.97 L981.94,493.11 L982.28,497.06 L982.62,500.80 L982.95,504.36 L983.29,507.73 L983.62,510.92 L983.96,513.93 L984.30,516.77 L984.63,519.45 L984.97,521.96 L985.30,524.31 L985.64,526.50 L985.98,528.55 L986.31,530.44 L986.65,532.20 L986.99,533.81 L987.32,535.28 L987.66,536.61 L987.99,537.81 L988.33,538.88 L988.67,539.82 L989.00,540.63 L989.34,541.32 L989.68,541.88 L990.01,542.31 L990.35,542.62 L990.68,542.81 L991.02,542.87 L991.36,542.82 L991.69,542.64 L992.03,542.34 L992.37,541.91 L992.70,541.36 L993.04,540.68 L993.37,539.88 L993.71,538.95 L994.05,537.89 L994.38,536.70 L994.72,535.37 L995.05,533.91 L995.39,532.31 L995.73,530.57 L996.06,528.69 L996.40,526.65 L996.74,524.47 L997.07,522.13 L997.41,519.63 L997.74,516.97 L998.08,514.14 L998.42,511.14 L998.75,507.96 L999.09,504.60 L999.43,501.06 L999.76,497.33 L1000.10,493.40 L1000.43,489.27 L1000.77,484.93 L1001.11,480.39 L1001.44,475.63 L1001.78,470.66 L1002.12,465.46 L1002.45,460.04 L1002.79,454.39 L1003.12,448.52 L1003.46,442.41 L1003.80,436.08 L1004.13,429.52 L1004.47,422.74 L1004.80,415.74 L1005.14,408.53 L1005.48,401.12 L1005.81,393.52 L1006.15,385.75 L1006.49,377.82 L1006.82,369.77 L1007.16,361.61 L1007.49,353.37 L1007.83,345.09 L1008.17,336.81 L1008.50,328.57 L1008.84,320.42 L1009.18,312.40 L1009.51,304.58 L1009.85,297.00 L1010.18,289.74 L1010.52,282.85 L1010.86,276.40 L1011.19,270.45 L1011.53,265.06 L1011.86,260.30 L1012.20,256.20 L1012.54,252.84 L1012.87,250.24 L1013.21,248.45 L1013.55,247.49 L1013.88,247.38 L1014.22,248.12 L1014.55,249.71 L1014.89,252.14 L1015.23,255.38 L1015.56,259.41 L1015.90,264.17 L1016.24,269.63 L1016.57,275.73 L1016.91,282.42 L1017.24,289.62 L1017.58,297.29 L1017.92,305.35 L1018.25,313.75 L1018.59,322.42 L1018.92,331.31 L1019.26,340.35 L1019.60,349.51 L1019.93,358.72 L1020.27,367.95 L1020.61,377.16 L1020.94,386.32 L1021.28,395.38 L1021.61,404.33 L1021.95,413.15 L1022.29,421.81 L1022.62,430.30 L1022.96,438.60 L1023.30,446.71 L1023.63,454.62 L1023.97,462.32 L1024.30,469.82 L1024.64,477.10 L1024.98,484.17 L1025.31,491.02 L1025.65,497.67 L1025.99,504.11 L1026.32,510.35 L1026.66,516.40 L1026.99,522.25 L1027.33,527.91 L1027.67,533.39 L1028.00,538.69 L1028.34,543.82 L1028.67,548.78 L1029.01,553.59 L1029.35,558.24 L1029.68,562.75 L1030.02,567.11 L1030.36,571.34 L1030.69,575.44 L1031.03,579.42 L1031.36,583.27 L1031.70,587.01 L1032.04,590.64 L1032.37,594.17 L1032.71,597.60 L1033.05,600.93 L1033.38,604.18 L1033.72,607.33 L1034.05,610.41 L1034.39,613.41 L1034.73,616.33 L1035.06,619.19 L1035.40,621.98 L1035.74,624.70 L1036.07,627.37 L1036.41,629.98 L1036.74,632.54 L1037.08,635.04 L1037.42,637.50 L1037.75,639.92 L1038.09,642.30 L1038.42,644.63 L1038.76,646.93 L1039.10,649.20 L1039.43,651.44 L1039.77,653.65 L1040.11,655.83 L1040.44,657.99 L1040.78,660.13 L1041.11,662.25 L1041.45,664.35 L1041.79,666.44 L1042.12,668.51 L1042.46,670.57 L1042.80,672.63 L1043.13,674.68 L1043.47,676.72 L1043.80,678.77 L1044.14,680.81 L1044.48,682.85 L1044.81,684.90 L1045.15,686.95 L1045.48,689.01 L1045.82,691.09 L1046.16,693.17 L1046.49,695.27 L1046.83,697.38 L1047.17,699.52 L1047.50,701.67 L1047.84,703.85 L1048.17,706.05 L1048.51,708.28 L1048.85,710.54 L1049.18,712.83 L1049.52,715.16 L1049.86,717.53 L1050.19,719.94 L1050.53,722.39 L1050.86,724.88 L1051.20,727.43 L1051.54,730.03 L1051.87,732.68 L1052.21,735.39 L1052.55,738.17 L1052.88,741.01 L1053.22,743.91 L1053.55,746.90 L1053.89,749.95 L1054.23,753.09 L1054.56,756.32 L1054.90,759.63 L1055.23,763.03 L1055.57,766.54 L1055.91,770.15 L1056.24,773.86 L1056.58,777.69 L1056.92,781.63 L1057.25,785.70 L1057.59,789.90 L1057.92,794.24 L1058.26,798.71 L1058.60,803.33 L1058.93,808.10 L1059.27,813.03 L1059.61,818.12 L1059.94,823.38 L1060.28,828.82 L1060.61,834.44 L1060.95,840.24 L1061.29,846.24 L1061.62,852.43 L1061.96,858.83 L1062.29,865.43 L1062.63,872.24 L1062.97,879.26 L1063.30,886.49 L1063.64,893.94 L1063.98,901.59 L1064.31,909.45 L1064.65,917.52 L1064.98,925.78 L1065.32,934.23 L1065.66,942.85 L1065.99,951.63 L1066.33,960.55 L1066.67,969.59 L1067.00,978.73 L1067.34,987.93 L1067.67,997.16 L1068.01,1006.38 L1068.35,1015.55 L1068.68,1024.63 L1069.02,1033.56 L1069.36,1042.28 L1069.69,1050.75 L1070.03,1058.89 L1070.36,1066.65 L1070.70,1073.97 L1071.04,1080.78 L1071.37,1087.02 L1071.71,1092.63 L1072.04,1097.56 L1072.38,1101.76 L1072.72,1105.19 L1073.05,1107.81 L1073.39,1109.59 L1073.73,1110.53 L1074.06,1110.61 L1074.40,1109.84 L1074.73,1108.24 L1075.07,1105.83 L1075.41,1102.63 L1075.74,1098.71 L1076.08,1094.09 L1076.42,1088.84 L1076.75,1083.01 L1077.09,1076.67 L1077.42,1069.88 L1077.76,1062.69 L1078.10,1055.19 L1078.43,1047.41 L1078.77,1039.44 L1079.10,1031.31 L1079.44,1023.09 L1079.78,1014.81 L1080.11,1006.53 L1080.45,998.28 L1080.79,990.10 L1081.12,982.02 L1081.46,974.06 L1081.79,966.25 L1082.13,958.61 L1082.47,951.16 L1082.80,943.90 L1083.14,936.85 L1083.48,930.02 L1083.81,923.41 L1084.15,917.02 L1084.48,910.86 L1084.82,904.94 L1085.16,899.24 L1085.49,893.76 L1085.83,888.52 L1086.16,883.49 L1086.50,878.68 L1086.84,874.09 L1087.17,869.71 L1087.51,865.53 L1087.85,861.56 L1088.18,857.78 L1088.52,854.19 L1088.85,850.79 L1089.19,847.58 L1089.53,844.54 L1089.86,841.67 L1090.20,838.97 L1090.54,836.43 L1090.87,834.06 L1091.21,831.84 L1091.54,829.77 L1091.88,827.85 L1092.22,826.07 L1092.55,824.44 L1092.89,822.95 L1093.23,821.59 L1093.56,820.37 L1093.90,819.28 L1094.23,818.32 L1094.57,817.49 L1094.91,816.78 L1095.24,816.21 L1095.58,815.75 L1095.91,815.42 L1096.25,815.21 L1096.59,815.13 L1096.92,815.16 L1097.26,815.32 L1097.60,815.61 L1097.93,816.01 L1098.27,816.54 L1098.60,817.20 L1098.94,817.98 L1099.28,818.89 L1099.61,819.93 L1099.95,821.10 L1100.29,822.41 L1100.62,823.84 L1100.96,825.42 L1101.29,827.14 L1101.63,829.00 L1101.97,831.01 L1102.30,833.17 L1102.64,835.49 L1102.97,837.96 L1103.31,840.60 L1103.65,843.40 L1103.98,846.37 L1104.32,849.52 L1104.66,852.85 L1104.99,856.36 L1105.33,860.07 L1105.66,863.96 L1106.00,868.06 L1106.34,872.36 L1106.67,876.87 L1107.01,881.59 L1107.35,886.53 L1107.68,891.69 L1108.02,897.08 L1108.35,902.69 L1108.69,908.53 L1109.03,914.60 L1109.36,920.90 L1109.70,927.42 L1110.04,934.17 L1110.37,941.13 L1110.71,948.31 L1111.04,955.69 L1111.38,963.26 L1111.72,971.00 L1112.05,978.91 L1112.39,986.94 L1112.72,995.09 L1113.06,1003.31 L1113.40,1011.59 L1113.73,1019.87 L1114.07,1028.12 L1114.41,1036.29 L1114.74,1044.33 L1115.08,1052.19 L1115.41,1059.81 L1115.75,1067.12 L1116.09,1074.08 L1116.42,1080.60 L1116.76,1086.64 L1117.10,1092.12 L1117.43,1096.99 L1117.77,1101.19 L1118.10,1104.67 L1118.44,1107.40 L1118.78,1109.32 L1119.11,1110.41 L1119.45,1110.66 L1119.78,1110.06 L1120.12,1108.60 L1120.46,1106.30 L1120.79,1103.19 L1121.13,1099.28 L1121.47,1094.63 L1121.80,1089.28 L1122.14,1083.28 L1122.47,1076.68 L1122.81,1069.56 L1123.15,1061.96 L1123.48,1053.96 L1123.82,1045.61 L1124.16,1036.98 L1124.49,1028.12 L1124.83,1019.10 L1125.16,1009.96 L1125.50,1000.75 L1125.84,991.52 L1126.17,982.30 L1126.51,973.14 L1126.85,964.06 L1127.18,955.08 L1127.52,946.25 L1127.85,937.56 L1128.19,929.04 L1128.53,920.71 L1128.86,912.57 L1129.20,904.62 L1129.53,896.89 L1129.87,889.36 L1130.21,882.05 L1130.54,874.95 L1130.88,868.05 L1131.22,861.37 L1131.55,854.90 L1131.89,848.63 L1132.22,842.55 L1132.56,836.67 L1132.90,830.98 L1133.23,825.48 L1133.57,820.15 L1133.91,814.99 L1134.24,810.00 L1134.58,805.16 L1134.91,800.49 L1135.25,795.96 L1135.59,791.57 L1135.92,787.32 L1136.26,783.20 L1136.60,779.21 L1136.93,775.34 L1137.27,771.58 L1137.60,767.93 L1137.94,764.39 L1138.28,760.94 L1138.61,757.59 L1138.95,754.34 L1139.28,751.16 L1139.62,748.08 L1139.96,745.07 L1140.29,742.13 L1140.63,739.26 L1140.97,736.46 L1141.30,733.73 L1141.64,731.05 L1141.97,728.43 L1142.31,725.87 L1142.65,723.35 L1142.98,720.88 L1143.32,718.46 L1143.66,716.08 L1143.99,713.74 L1144.33,711.43 L1144.66,709.16 L1145.00,706.91 L1145.34,704.70 L1145.67,702.51 L1146.01,700.35 L1146.34,698.21 L1146.68,696.09 L1147.02,693.98 L1147.35,691.90 L1147.69,689.82 L1148.03,687.75 L1148.36,685.70 L1148.70,683.65 L1149.03,681.60 L1149.37,679.56 L1149.71,677.52 L1150.04,675.47 L1150.38,673.43 L1150.72,671.37 L1151.05,669.31 L1151.39,667.24 L1151.72,665.16 L1152.06,663.07 L1152.40,660.96 L1152.73,658.82 L1153.07,656.67 L1153.40,654.50 L1153.74,652.30 L1154.08,650.08 L1154.41,647.82 L1154.75,645.53 L1155.09,643.21 L1155.42,640.85 L1155.76,638.45 L1156.09,636.01 L1156.43,633.52 L1156.77,630.98 L1157.10,628.39 L1157.44,625.75 L1157.78,623.04 L1158.11,620.28 L1158.45,617.45 L1158.78,614.55 L1159.12,611.58 L1159.46,608.54 L1159.79,605.41 L1160.13,602.20 L1160.47,598.91 L1160.80,595.51 L1161.14,592.03 L1161.47,588.44 L1161.81,584.74 L1162.15,580.93 L1162.48,577.00 L1162.82,572.95 L1163.15,568.78 L1163.49,564.46 L1163.83,560.01 L1164.16,555.42 L1164.50,550.67 L1164.84,545.77 L1165.17,540.70 L1165.51,535.47 L1165.84,530.06 L1166.18,524.47 L1166.52,518.69 L1166.85,512.73 L1167.19,506.57 L1167.53,500.20 L1167.86,493.63 L1168.20,486.86 L1168.53,479.87 L1168.87,472.67 L1169.21,465.26 L1169.54,457.64 L1169.88,449.81 L1170.22,441.78 L1170.55,433.55 L1170.89,425.13 L1171.22,416.54 L1171.56,407.78 L1171.90,398.88 L1172.23,389.85 L1172.57,380.73 L1172.90,371.54 L1173.24,362.31 L1173.58,353.09 L1173.91,343.90 L1174.25,334.81 L1174.59,325.85 L1174.92,317.09 L1175.26,308.58 L1175.59,300.38 L1175.93,292.56 L1176.27,285.16 L1176.60,278.27 L1176.94,271.93 L1177.28,266.22 L1177.61,261.18 L1177.95,256.86 L1178.28,253.31 L1178.62,250.56 L1178.96,248.64 L1179.29,247.56 L1179.63,247.35 L1179.96,247.98 L1180.30,249.45 L1180.64,251.74 L1180.97,254.81 L1181.31,258.62 L1181.65,263.13 L1181.98,268.29 L1182.32,274.03 L1182.65,280.29 L1182.99,287.02 L1183.33,294.14 L1183.66,301.60 L1184.00,309.33 L1184.34,317.28 L1184.67,325.39 L1185.01,333.60 L1185.34,341.87 L1185.68,350.15 L1186.02,358.41 L1186.35,366.60 L1186.69,374.70 L1187.03,382.68 L1187.36,390.51 L1187.70,398.18 L1188.03,405.67 L1188.37,412.96 L1188.71,420.04 L1189.04,426.91 L1189.38,433.56 L1189.71,439.98 L1190.05,446.17 L1190.39,452.14 L1190.72,457.87 L1191.06,463.38 L1191.40,468.66 L1191.73,473.72 L1192.07,478.57 L1192.40,483.19 L1192.74,487.61 L1193.08,491.81 L1193.41,495.82 L1193.75,499.63 L1194.09,503.25 L1194.42,506.68 L1194.76,509.92 L1195.09,512.99 L1195.43,515.89 L1195.77,518.61 L1196.10,521.17 L1196.44,523.58 L1196.77,525.82 L1197.11,527.91 L1197.45,529.86 L1197.78,531.65 L1198.12,533.31 L1198.46,534.82 L1198.79,536.20 L1199.13,537.44 L1199.46,538.55 L1199.80,539.54 L1200.14,540.39 L1200.47,541.11 L1200.81,541.71 L1201.15,542.18 L1201.48,542.54 L1201.82,542.76 L1202.15,542.87 L1202.49,542.85 L1202.83,542.71 L1203.16,542.45 L1203.50,542.06 L1203.84,541.55 L1204.17,540.91 L1204.51,540.15 L1204.84,539.26 L1205.18,538.24 L1205.52,537.09 L1205.85,535.81 L1206.19,534.39 L1206.52,532.84 L1206.86,531.14 L1207.20,529.30 L1207.53,527.32 L1207.87,525.18 L1208.21,522.89 L1208.54,520.44 L1208.88,517.83 L1209.21,515.06 L1209.55,512.11 L1209.89,508.99 L1210.22,505.69 L1210.56,502.21 L1210.90,498.54 L1211.23,494.67 L1211.57,490.61 L1211.90,486.34 L1212.24,481.86 L1212.58,477.17 L1212.91,472.27 L1213.25,467.14 L1213.58,461.79 L1213.92,456.22 L1214.26,450.41 L1214.59,444.38 L1214.93,438.12 L1215.27,431.63 L1215.60,424.92 L1215.94,417.99 L1216.27,410.85 L1216.61,403.50 L1216.95,395.96 L1217.28,388.24 L1217.62,380.36 L1217.96,372.35 L1218.29,364.22 L1218.63,356.00 L1218.96,347.73 L1219.30,339.45 L1219.64,331.19 L1219.97,323.00 L1220.31,314.94 L1220.64,307.05 L1220.98,299.39 L1221.32,292.02 L1221.65,285.00 L1221.99,278.41 L1222.33,272.29 L1222.66,266.72 L1223.00,261.74 L1223.33,257.43 L1223.67,253.83 L1224.01,250.98 L1224.34,248.93 L1224.68,247.71 L1225.02,247.32 L1225.35,247.79 L1225.69,249.11 L1226.02,251.28 L1226.36,254.26 L1226.70,258.04 L1227.03,262.58 L1227.37,267.82 L1227.71,273.73 L1228.04,280.23 L1228.38,287.28 L1228.71,294.80 L1229.05,302.75 L1229.39,311.04 L1229.72,319.63 L1230.06,328.46 L1230.39,337.46 L1230.73,346.58 L1231.07,355.78 L1231.40,365.01 L1231.74,374.23 L1232.08,383.41 L1232.41,392.50 L1232.75,401.50 L1233.08,410.36 L1233.42,419.07 L1233.76,427.61 L1234.09,435.98 L1234.43,444.15 L1234.77,452.13 L1235.10,459.89 L1235.44,467.45 L1235.77,474.80 L1236.11,481.94 L1236.45,488.86 L1236.78,495.58 L1237.12,502.08 L1237.45,508.39 L1237.79,514.49 L1238.13,520.40 L1238.46,526.12 L1238.80,531.66 L1239.14,537.02 L1239.47,542.20 L1239.81,547.22 L1240.14,552.08 L1240.48,556.78 L1240.82,561.33 L1241.15,565.74 L1241.49,570.01 L1241.83,574.15 L1242.16,578.16 L1242.50,582.05 L1242.83,585.83 L1243.17,589.50 L1243.51,593.06 L1243.84,596.52 L1244.18,599.88 L1244.52,603.15 L1244.85,606.34 L1245.19,609.44 L1245.52,612.46 L1245.86,615.41 L1246.20,618.29 L1246.53,621.09 L1246.87,623.84 L1247.20,626.52 L1247.54,629.15 L1247.88,631.73 L1248.21,634.25 L1248.55,636.73 L1248.89,639.16 L1249.22,641.54 L1249.56,643.89 L1249.89,646.21 L1250.23,648.48 L1250.57,650.73 L1250.90,652.95 L1251.24,655.14 L1251.58,657.31 L1251.91,659.45 L1252.25,661.57 L1252.58,663.68 L1252.92,665.77 L1253.26,667.85 L1253.59,669.92 L1253.93,671.98 L1254.26,674.03 L1254.60,676.07 L1254.94,678.12 L1255.27,680.16 L1255.61,682.20 L1255.95,684.25 L1256.28,686.30 L1256.62,688.36 L1256.95,690.43 L1257.29,692.50 L1257.63,694.60 L1257.96,696.71 L1258.30,698.83 L1258.64,700.98 L1258.97,703.15 L1259.31,705.35 L1259.64,707.57 L1259.98,709.82 L1260.32,712.10 L1260.65,714.42 L1260.99,716.77 L1261.33,719.17 L1261.66,721.60 L1262.00,724.08 L1262.33,726.61 L1262.67,729.19 L1263.01,731.83 L1263.34,734.52 L1263.68,737.28 L1264.01,740.09 L1264.35,742.98 L1264.69,745.94 L1265.02,748.97 L1265.36,752.08 L1265.70,755.28 L1266.03,758.56 L1266.37,761.94 L1266.70,765.41 L1267.04,768.99 L1267.38,772.67 L1267.71,776.46 L1268.05,780.36 L1268.39,784.39 L1268.72,788.55 L1269.06,792.84 L1269.39,797.27 L1269.73,801.84 L1270.07,806.56 L1270.40,811.44 L1270.74,816.48 L1271.08,821.69 L1271.41,827.07 L1271.75,832.63 L1272.08,838.37 L1272.42,844.31 L1272.76,850.44 L1273.09,856.77 L1273.43,863.31 L1273.76,870.05 L1274.10,877.00 L1274.44,884.17 L1274.77,891.54 L1275.11,899.13 L1275.45,906.93 L1275.78,914.93 L1276.12,923.13 L1276.45,931.52 L1276.79,940.08 L1277.13,948.82 L1277.46,957.70 L1277.80,966.70 L1278.14,975.81 L1278.47,984.99 L1278.81,994.22 L1279.14,1003.45 L1279.48,1012.64 L1279.82,1021.75 L1280.15,1030.73 L1280.49,1039.53 L1280.82,1048.08 L1281.16,1056.33 L1281.50,1064.23 L1281.83,1071.69 L1282.17,1078.67 L1282.51,1085.10 L1282.84,1090.92 L1283.18,1096.07 L1283.51,1100.51 L1283.85,1104.18 L1284.19,1107.06 L1284.52,1109.11 L1284.86,1110.32 L1285.20,1110.68 L1285.53,1110.18 L1285.87,1108.84 L1286.20,1106.68 L1286.54,1103.73 L1286.88,1100.03 L1287.21,1095.63 L1287.55,1090.58 L1287.88,1084.93 L1288.22,1078.74 L1288.56,1072.08 L1288.89,1065.02 L1289.23,1057.61 L1289.57,1049.92 L1289.90,1042.00 L1290.24,1033.91 L1290.57,1025.71 L1290.91,1017.45 L1291.25,1009.16 L1291.58,1000.90 L1291.92,992.70 L1292.26,984.58 L1292.59,976.58 L1292.93,968.72 L1293.26,961.03 L1293.60,953.51 L1293.94,946.19 L1294.27,939.07 L1294.61,932.17 L1294.95,925.49 L1295.28,919.03 L1295.62,912.80 L1295.95,906.80 L1296.29,901.03 L1296.63,895.48 L1296.96,890.16 L1297.30,885.07 L1297.63,880.19 L1297.97,875.53 L1298.31,871.08 L1298.64,866.84 L1298.98,862.80 L1299.32,858.96 L1299.65,855.32 L1299.99,851.86 L1300.32,848.58 L1300.66,845.49 L1301.00,842.56 L1301.33,839.81 L1301.67,837.22 L1302.01,834.80 L1302.34,832.53 L1302.68,830.41 L1303.01,828.44 L1303.35,826.62 L1303.69,824.95 L1304.02,823.41 L1304.36,822.01 L1304.70,820.75 L1305.03,819.61 L1305.37,818.61 L1305.70,817.74 L1306.04,817.00 L1306.38,816.38 L1306.71,815.88 L1307.05,815.51 L1307.38,815.27 L1307.72,815.14 L1308.06,815.14 L1308.39,815.26 L1308.73,815.50 L1309.07,815.87 L1309.40,816.36 L1309.74,816.98 L1310.07,817.72 L1310.41,818.59 L1310.75,819.59 L1311.08,820.71 L1311.42,821.98 L1311.76,823.37 L1312.09,824.90 L1312.43,826.58 L1312.76,828.39 L1313.10,830.36 L1313.44,832.47 L1313.77,834.74 L1314.11,837.16 L1314.44,839.74 L1314.78,842.49 L1315.12,845.41 L1315.45,848.50 L1315.79,851.77 L1316.13,855.22 L1316.46,858.87 L1316.80,862.70 L1317.13,866.73 L1317.47,870.97 L1317.81,875.41 L1318.14,880.07 L1318.48,884.94 L1318.82,890.03 L1319.15,895.34 L1319.49,900.88 L1319.82,906.65 L1320.16,912.64 L1320.50,918.87 L1320.83,925.32 L1321.17,931.99 L1321.51,938.89 L1321.84,946.00 L1322.18,953.32 L1322.51,960.83 L1322.85,968.52 L1323.19,976.37 L1323.52,984.37 L1323.86,992.48 L1324.19,1000.69 L1324.53,1008.95 L1324.87,1017.23 L1325.20,1025.50 L1325.54,1033.70 L1325.88,1041.79 L1326.21,1049.71 L1326.55,1057.41 L1326.88,1064.83 L1327.22,1071.91 L1327.56,1078.57 L1327.89,1084.77 L1328.23,1090.44 L1328.57,1095.51 L1328.90,1099.93 L1329.24,1103.65 L1329.57,1106.61 L1329.91,1108.79 L1330.25,1110.15 L1330.58,1110.67 L1330.92,1110.34 L1331.25,1109.16 L1331.59,1107.12 L1331.93,1104.27 L1332.26,1100.61 L1332.60,1096.19 L1332.94,1091.06 L1333.27,1085.26 L1333.61,1078.84 L1333.94,1071.88 L1334.28,1064.43 L1334.62,1056.55 L1334.95,1048.30 L1335.29,1039.75 L1335.63,1030.96 L1335.96,1021.99 L1336.30,1012.88 L1336.63,1003.69 L1336.97,994.46 L1337.31,985.23 L1337.64,976.05 L1337.98,966.94 L1338.32,957.93 L1338.65,949.04 L1338.99,940.31 L1339.32,931.74 L1339.66,923.34 L1340.00,915.14 L1340.33,907.13 L1340.67,899.33 L1341.00,891.74 L1341.34,884.35 L1341.68,877.18 L1342.01,870.23 L1342.35,863.48 L1342.69,856.94 L1343.02,850.60 L1343.36,844.47 L1343.69,838.53 L1344.03,832.77 L1344.37,827.21 L1344.70,821.82 L1345.04,816.61 L1345.38,811.57 L1345.71,806.69 L1346.05,801.96 L1346.38,797.39 L1346.72,792.95 L1347.06,788.66 L1347.39,784.50 L1347.73,780.47 L1348.06,776.56 L1348.40,772.76 L1348.74,769.08 L1349.07,765.50 L1349.41,762.03 L1349.75,758.65 L1350.08,755.36 L1350.42,752.17 L1350.75,749.05 L1351.09,746.02 L1351.43,743.06 L1351.76,740.17 L1352.10,737.35 L1352.44,734.59 L1352.77,731.90 L1353.11,729.26 L1353.44,726.68 L1353.78,724.15 L1354.12,721.67 L1354.45,719.23 L1354.79,716.83 L1355.12,714.48 L1355.46,712.16 L1355.80,709.88 L1356.13,707.63 L1356.47,705.40 L1356.81,703.21 L1357.14,701.04 L1357.48,698.89 L1357.81,696.76 L1358.15,694.65 L1358.49,692.56 L1358.82,690.48 L1359.16,688.41 L1359.50,686.35 L1359.83,684.30 L1360.17,682.25 L1360.50,680.21 L1360.84,678.17 L1361.18,676.13 L1361.51,674.08 L1361.85,672.03 L1362.19,669.97 L1362.52,667.90 L1362.86,665.83 L1363.19,663.74 L1363.53,661.63 L1363.87,659.51 L1364.20,657.36 L1364.54,655.20 L1364.87,653.01 L1365.21,650.79 L1365.55,648.54 L1365.88,646.27 L1366.22,643.95 L1366.56,641.61 L1366.89,639.22 L1367.23,636.79 L1367.56,634.32 L1367.90,631.79 L1368.24,629.22 L1368.57,626.59 L1368.91,623.91 L1369.25,621.17 L1369.58,618.36 L1369.92,615.48 L1370.25,612.54 L1370.59,609.52 L1370.93,606.42 L1371.26,603.24 L1371.60,599.97 L1371.93,596.61 L1372.27,593.15 L1372.61,589.59 L1372.94,585.93 L1373.28,582.15 L1373.62,578.27 L1373.95,574.26 L1374.29,570.12 L1374.62,565.85 L1374.96,561.45 L1375.30,556.90 L1375.63,552.20 L1375.97,547.35 L1376.31,542.33 L1376.64,537.15 L1376.98,531.80 L1377.31,526.27 L1377.65,520.55 L1377.99,514.65 L1378.32,508.55 L1378.66,502.25 L1379.00,495.75 L1379.33,489.04 L1379.67,482.12 L1380.00,474.99 L1380.34,467.65 L1380.68,460.09 L1381.01,452.33 L1381.35,444.36 L1381.68,436.19 L1382.02,427.83 L1382.36,419.29 L1382.69,410.59 L1383.03,401.73 L1383.37,392.74 L1383.70,383.65 L1384.04,374.47 L1384.37,365.25 L1384.71,356.02 L1385.05,346.82 L1385.38,337.69 L1385.72,328.69 L1386.06,319.86 L1386.39,311.26 L1386.73,302.96 L1387.06,295.00 L1387.40,287.47 L1387.74,280.41 L1388.07,273.89 L1388.41,267.97 L1388.74,262.71 L1389.08,258.15 L1389.42,254.35 L1389.75,251.34 L1390.09,249.16 L1390.43,247.81 L1390.76,247.32 L1391.10,247.69 L1391.43,248.89 L1391.77,250.92 L1392.11,253.75 L1392.44,257.33 L1392.78,261.62 L1393.12,266.58 L1393.45,272.14 L1393.79,278.24 L1394.12,284.83 L1394.46,291.83 L1394.80,299.19 L1395.13,306.84 L1395.47,314.73 L1395.81,322.79 L1396.14,330.98 L1396.48,339.23 L1396.81,347.52 L1397.15,355.79 L1397.49,364.00 L1397.82,372.14 L1398.16,380.16 L1398.49,388.04 L1398.83,395.76 L1399.17,403.30 L1399.50,410.66 L1399.84,417.81 L1400.18,424.74 L1400.51,431.46 L1400.85,437.96 L1401.18,444.22 L1401.52,450.26 L1401.86,456.07 L1402.19,461.65 L1402.53,467.01 L1402.87,472.14 L1403.20,477.05 L1403.54,481.74 L1403.87,486.22 L1404.21,490.50 L1404.55,494.57 L1404.88,498.44 L1405.22,502.12 L1405.56,505.60 L1405.89,508.91 L1406.23,512.03 L1406.56,514.98 L1406.90,517.76 L1407.24,520.38 L1407.57,522.83 L1407.91,525.12 L1408.24,527.26 L1408.58,529.25 L1408.92,531.10 L1409.25,532.80 L1409.59,534.36 L1409.93,535.78 L1410.26,537.06 L1410.60,538.21 L1410.93,539.24 L1411.27,540.13 L1411.61,540.89 L1411.94,541.53 L1412.28,542.05 L1412.62,542.44 L1412.95,542.70 L1413.29,542.85 L1413.62,542.87 L1413.96,542.77 L1414.30,542.54 L1414.63,542.20 L1414.97,541.72 L1415.30,541.13 L1415.64,540.41 L1415.98,539.56 L1416.31,538.58 L1416.65,537.47 L1416.99,536.23 L1417.32,534.86 L1417.66,533.35 L1417.99,531.70 L1418.33,529.90 L1418.67,527.97 L1419.00,525.88 L1419.34,523.64 L1419.68,521.24 L1420.01,518.68 L1420.35,515.96 L1420.68,513.07 L1421.02,510.00 L1421.36,506.76 L1421.69,503.34 L1422.03,499.73 L1422.37,495.92 L1422.70,491.92 L1423.04,487.72 L1423.37,483.31 L1423.71,478.69 L1424.05,473.85 L1424.38,468.80 L1424.72,463.52 L1425.05,458.02 L1425.39,452.29 L1425.73,446.33 L1426.06,440.14 L1426.40,433.73 L1426.74,427.08 L1427.07,420.22 L1427.41,413.14 L1427.74,405.86 L1428.08,398.38 L1428.42,390.72 L1428.75,382.89 L1429.09,374.91 L1429.43,366.82 L1429.76,358.62 L1430.10,350.37 L1430.43,342.09 L1430.77,333.81 L1431.11,325.60 L1431.44,317.49 L1431.78,309.54 L1432.11,301.80 L1432.45,294.33 L1432.79,287.20 L1433.12,280.46 L1433.46,274.18 L1433.80,268.43 L1434.13,263.26 L1434.47,258.73 L1434.80,254.90 L1435.14,251.81 L1435.48,249.50 L1435.81,248.01 L1436.15,247.35 L1436.49,247.55 L1436.82,248.60 L1437.16,250.50 L1437.49,253.22 L1437.83,256.75 L1438.17,261.05 L1438.50,266.08 L1438.84,271.78 L1439.17,278.10 L1439.51,284.98 L1439.85,292.36 L1440.18,300.17 L1440.52,308.36 L1440.86,316.87 L1441.19,325.62 L1441.53,334.57 L1441.86,343.66 L1442.20,352.85 L1442.54,362.07 L1442.87,371.30 L1443.21,380.49 L1443.55,389.62 L1443.88,398.64 L1444.22,407.55 L1444.55,416.31 L1444.89,424.91 L1445.23,433.33 L1445.56,441.57 L1445.90,449.61 L1446.24,457.44 L1446.57,465.07 L1446.91,472.48 L1447.24,479.69 L1447.58,486.68 L1447.92,493.46 L1448.25,500.03 L1448.59,506.40 L1448.92,512.57 L1449.26,518.54 L1449.60,524.32 L1449.93,529.92 L1450.27,535.33 L1450.61,540.57 L1450.94,545.64 L1451.28,550.55 L1451.61,555.30 L1451.95,559.90 L1452.29,564.35 L1452.62,568.66 L1452.96,572.85 L1453.30,576.90 L1453.63,580.83 L1453.97,584.64 L1454.30,588.34 L1454.64,591.93 L1454.98,595.43 L1455.31,598.82 L1455.65,602.12 L1455.98,605.33 L1456.32,608.46 L1456.66,611.51 L1456.99,614.48 L1457.33,617.38 L1457.67,620.21 L1458.00,622.97 L1458.34,625.68 L1458.67,628.32 L1459.01,630.91 L1459.35,633.45 L1459.68,635.94 L1460.02,638.39 L1460.36,640.79 L1460.69,643.15 L1461.03,645.47 L1461.36,647.76 L1461.70,650.02 L1462.04,652.24 L1462.37,654.44 L1462.71,656.62 L1463.05,658.77 L1463.38,660.90 L1463.72,663.01 L1464.05,665.11 L1464.39,667.19 L1464.73,669.26 L1465.06,671.32 L1465.40,673.37 L1465.73,675.42 L1466.07,677.46 L1466.41,679.51 L1466.74,681.55 L1467.08,683.59 L1467.42,685.64 L1467.75,687.70 L1468.09,689.77 L1468.42,691.84 L1468.76,693.93 L1469.10,696.03 L1469.43,698.15 L1469.77,700.30 L1470.11,702.46 L1470.44,704.64 L1470.78,706.86 L1471.11,709.10 L1471.45,711.37 L1471.79,713.68 L1472.12,716.02 L1472.46,718.40 L1472.80,720.82 L1473.13,723.29 L1473.47,725.80 L1473.80,728.37 L1474.14,730.98 L1474.48,733.66 L1474.81,736.39 L1475.15,739.19 L1475.48,742.05 L1475.82,744.99 L1476.16,748.00 L1476.49,751.08 L1476.83,754.25 L1477.17,757.51 L1477.50,760.85 L1477.84,764.29 L1478.17,767.84 L1478.51,771.48 L1478.85,775.24 L1479.18,779.11 L1479.52,783.10 L1479.86,787.21 L1480.19,791.46 L1480.53,795.84 L1480.86,800.37 L1481.20,805.04 L1481.54,809.87 L1481.87,814.86 L1482.21,820.01 L1482.54,825.33 L1482.88,830.84 L1483.22,836.52 L1483.55,842.40 L1483.89,848.47 L1484.23,854.73 L1484.56,861.20 L1484.90,867.88 L1485.23,874.76 L1485.57,881.86 L1485.91,889.17 L1486.24,896.69 L1486.58,904.42 L1486.92,912.36 L1487.25,920.49 L1487.59,928.82 L1487.92,937.34 L1488.26,946.02 L1488.60,954.85 L1488.93,963.82 L1489.27,972.90 L1489.61,982.06 L1489.94,991.28 L1490.28,1000.51 L1490.61,1009.72 L1490.95,1018.86 L1491.29,1027.89 L1491.62,1036.75 L1491.96,1045.39 L1492.29,1053.74 L1492.63,1061.76 L1492.97,1069.36 L1493.30,1076.50 L1493.64,1083.11 L1493.98,1089.13 L1494.31,1094.50 L1494.65,1099.17 L1494.98,1103.10 L1495.32,1106.23 L1495.66,1108.55 L1495.99,1110.03 L1496.33,1110.66 L1496.67,1110.43 L1497.00,1109.36 L1497.34,1107.46 L1497.67,1104.76 L1498.01,1101.29 L1498.35,1097.11 L1498.68,1092.25 L1499.02,1086.79 L1499.35,1080.76 L1499.69,1074.25 L1500.03,1067.31 L1500.36,1060.00 L1500.70,1052.39 L1501.04,1044.54 L1501.37,1036.50 L1501.71,1028.33 L1502.04,1020.09 L1502.38,1011.80 L1502.72,1003.53 L1503.05,995.30 L1503.39,987.15 L1503.73,979.11 L1504.06,971.21 L1504.40,963.46 L1504.73,955.89 L1505.07,948.50 L1505.41,941.32 L1505.74,934.35 L1506.08,927.59 L1506.41,921.06 L1506.75,914.76 L1507.09,908.69 L1507.42,902.84 L1507.76,897.22 L1508.10,891.83 L1508.43,886.67 L1508.77,881.72 L1509.10,876.99 L1509.44,872.48 L1509.78,868.17 L1510.11,864.07 L1510.45,860.17 L1510.79,856.46 L1511.12,852.94 L1511.46,849.61 L1511.79,846.45 L1512.13,843.48 L1512.47,840.67 L1512.80,838.03 L1513.14,835.55 L1513.48,833.23 L1513.81,831.07 L1514.15,829.05 L1514.48,827.19 L1514.82,825.47 L1515.16,823.88 L1515.49,822.44 L1515.83,821.13 L1516.16,819.96 L1516.50,818.92 L1516.84,818.00 L1517.17,817.22 L1517.51,816.56 L1517.85,816.03 L1518.18,815.62 L1518.52,815.33 L1518.85,815.17 L1519.19,815.13 L1519.53,815.21 L1519.86,815.41 L1520.20,815.74 L1520.54,816.19 L1520.87,816.77 L1521.21,817.47 L1521.54,818.30 L1521.88,819.25 L1522.22,820.34 L1522.55,821.56 L1522.89,822.91 L1523.22,824.40 L1523.56,826.03 L1523.90,827.80 L1524.23,829.72 L1524.57,831.78 L1524.91,834.00 L1525.24,836.37 L1525.58,838.90 L1525.91,841.60 L1526.25,844.46 L1526.59,847.50 L1526.92,850.71 L1527.26,854.10 L1527.60,857.69 L1527.93,861.46 L1528.27,865.43 L1528.60,869.60 L1528.94,873.97 L1529.28,878.56 L1529.61,883.36 L1529.95,888.38 L1530.29,893.62 L1530.62,899.09 L1530.96,904.78 L1531.29,910.71 L1531.63,916.86 L1531.97,923.24 L1532.30,929.84 L1532.64,936.67 L1532.97,943.71 L1533.31,950.97 L1533.65,958.42 L1533.98,966.05 L1534.32,973.86 L1534.66,981.81 L1534.99,989.89 L1535.33,998.07 L1535.66,1006.31 L1536.00,1014.59 L1536.34,1022.87 L1536.67,1031.10 L1537.01,1039.23 L1537.35,1047.21 L1537.68,1054.99 L1538.02,1062.50 L1538.35,1069.69 L1538.69,1076.50 L1539.03,1082.85 L1539.36,1088.69 L1539.70,1093.96 L1540.04,1098.59 L1540.37,1102.54 L1540.71,1105.75 L1541.04,1108.19 L1541.38,1109.81 L1541.72,1110.60 L1542.05,1110.54 L1542.39,1109.63 L1542.72,1107.86 L1543.06,1105.27 L1543.40,1101.86 L1543.73,1097.68 L1544.07,1092.77 L1544.41,1087.17 L1544.74,1080.95 L1545.08,1074.15 L1545.41,1066.85 L1545.75,1059.10 L1546.09,1050.96 L1546.42,1042.50 L1546.76,1033.79 L1547.10,1024.86 L1547.43,1015.79 L1547.77,1006.62 L1548.10,997.40 L1548.44,988.17 L1548.78,978.97 L1549.11,969.83 L1549.45,960.79 L1549.78,951.86 L1550.12,943.07 L1550.46,934.45 L1550.79,926.00 L1551.13,917.73 L1551.47,909.66 L1551.80,901.79 L1552.14,894.13 L1552.47,886.68 L1552.81,879.45 L1553.15,872.42 L1553.48,865.61 L1553.82,859.00 L1554.16,852.60 L1554.49,846.40 L1554.83,840.40 L1555.16,834.59 L1555.50,828.96 L1555.84,823.52 L1556.17,818.25 L1556.51,813.16 L1556.85,808.22 L1557.18,803.45 L1557.52,798.83 L1557.85,794.35 L1558.19,790.01 L1558.53,785.81 L1558.86,781.74 L1559.20,777.79 L1559.53,773.96 L1559.87,770.24 L1560.21,766.63 L1560.54,763.12 L1560.88,759.72 L1561.22,756.40 L1561.55,753.17 L1561.89,750.03 L1562.22,746.97 L1562.56,743.99 L1562.90,741.08 L1563.23,738.24 L1563.57,735.46 L1563.91,732.75 L1564.24,730.10 L1564.58,727.50 L1564.91,724.95 L1565.25,722.45 L1565.59,720.00 L1565.92,717.59 L1566.26,715.22 L1566.59,712.89 L1566.93,710.60 L1567.27,708.34 L1567.60,706.11 L1567.94,703.90 L1568.28,701.73 L1568.61,699.57 L1568.95,697.44 L1569.28,695.32 L1569.62,693.22 L1569.96,691.14 L1570.29,689.07 L1570.63,687.01 L1570.97,684.95 L1571.30,682.90 L1571.64,680.86 L1571.97,678.82 L1572.31,676.78 L1572.65,674.73 L1572.98,672.68 L1573.32,670.63 L1573.65,668.56 L1573.99,666.49 L1574.33,664.40 L1574.66,662.30 L1575.00,660.18 L1575.34,658.05 L1575.67,655.89 L1576.01,653.71 L1576.34,651.50 L1576.68,649.26 L1577.02,646.99 L1577.35,644.69 L1577.69,642.36 L1578.03,639.98 L1578.36,637.57 L1578.70,635.11 L1579.03,632.60 L1579.37,630.05 L1579.71,627.44 L1580.04,624.77 L1580.38,622.05 L1580.72,619.26 L1581.05,616.41 L1581.39,613.48 L1581.72,610.49 L1582.06,607.41 L1582.40,604.26 L1582.73,601.02 L1583.07,597.69 L1583.40,594.26 L1583.74,590.74 L1584.08,587.11 L1584.41,583.37 L1584.75,579.52 L1585.09,575.55 L1585.42,571.45 L1585.76,567.23 L1586.09,562.87 L1586.43,558.36 L1586.77,553.71 L1587.10,548.91 L1587.44,543.95 L1587.78,538.82 L1588.11,533.53 L1588.45,528.05 L1588.78,522.40 L1589.12,516.55 L1589.46,510.51 L1589.79,504.28 L1590.13,497.84 L1590.46,491.20 L1590.80,484.35 L1591.14,477.28 L1591.47,470.01 L1591.81,462.52 L1592.15,454.83 L1592.48,446.92 L1592.82,438.82 L1593.15,430.52 L1593.49,422.03 L1593.83,413.38 L1594.16,404.56 L1594.50,395.62 L1594.84,386.55 L1595.17,377.40 L1595.51,368.19 L1595.84,358.96 L1596.18,349.74 L1596.52,340.59 L1596.85,331.54 L1597.19,322.65 L1597.53,313.97 L1597.86,305.57 L1598.20,297.50 L1598.53,289.82 L1598.87,282.60 L1599.21,275.90 L1599.54,269.78 L1599.88,264.31 L1600.21,259.52 L1600.55,255.48 L1600.89,252.21 L1601.22,249.76 L1601.56,248.15 L1601.90,247.39 L1602.23,247.48 L1602.57,248.42 L1602.90,250.19 L1603.24,252.76 L1603.58,256.11 L1603.91,260.18 L1604.25,264.93 L1604.59,270.30 L1604.92,276.24 L1605.26,282.68 L1605.59,289.56 L1605.93,296.81 L1606.27,304.38 L1606.60,312.20 L1606.94,320.21 L1607.28,328.36 L1607.61,336.60 L1607.95,344.88 L1608.28,353.16 L1608.62,361.39 L1608.96,369.56 L1609.29,377.61 L1609.63,385.54 L1609.96,393.32 L1610.30,400.92 L1610.64,408.34 L1610.97,415.55 L1611.31,422.56 L1611.65,429.35 L1611.98,435.91 L1612.32,442.25 L1612.65,448.36 L1612.99,454.24 L1613.33,459.90 L1613.66,465.32 L1614.00,470.53 L1614.34,475.51 L1614.67,480.27 L1615.01,484.82 L1615.34,489.16 L1615.68,493.29 L1616.02,497.23 L1616.35,500.96 L1616.69,504.51 L1617.02,507.88 L1617.36,511.06 L1617.70,514.06 L1618.03,516.90 L1618.37,519.56 L1618.71,522.06 L1619.04,524.41 L1619.38,526.60 L1619.71,528.64 L1620.05,530.52 L1620.39,532.27 L1620.72,533.87 L1621.06,535.34 L1621.40,536.67 L1621.73,537.86 L1622.07,538.93 L1622.40,539.86 L1622.74,540.66 L1623.08,541.34 L1623.41,541.90 L1623.75,542.33 L1624.09,542.63 L1624.42,542.81 L1624.76,542.87 L1625.09,542.81 L1625.43,542.63 L1625.77,542.32 L1626.10,541.89 L1626.44,541.33 L1626.77,540.65 L1627.11,539.84 L1627.45,538.91 L1627.78,537.84 L1628.12,536.64 L1628.46,535.31 L1628.79,533.85 L1629.13,532.24 L1629.46,530.49 L1629.80,528.60 L1630.14,526.56 L1630.47,524.37 L1630.81,522.02 L1631.15,519.51 L1631.48,516.84 L1631.82,514.01 L1632.15,511.00 L1632.49,507.82 L1632.83,504.45 L1633.16,500.90 L1633.50,497.16 L1633.83,493.22 L1634.17,489.08 L1634.51,484.74 L1634.84,480.18 L1635.18,475.42 L1635.52,470.43 L1635.85,465.23 L1636.19,459.80 L1636.52,454.14 L1636.86,448.25 L1637.20,442.14 L1637.53,435.79 L1637.87,429.22 L1638.21,422.43 L1638.54,415.42 L1638.88,408.20 L1639.21,400.78 L1639.55,393.18 L1639.89,385.40 L1640.22,377.47 L1640.56,369.41 L1640.89,361.24 L1641.23,353.00 L1641.57,344.72 L1641.90,336.45 L1642.24,328.21 L1642.58,320.06 L1642.91,312.05 L1643.25,304.24 L1643.58,296.68 L1643.92,289.43 L1644.26,282.56 L1644.59,276.13 L1644.93,270.20 L1645.27,264.84 L1645.60,260.10 L1645.94,256.04 L1646.27,252.71 L1646.61,250.15 L1646.95,248.39 L1647.28,247.47 L1647.62,247.39 L1647.96,248.17 L1648.29,249.80 L1648.63,252.27 L1648.96,255.54 L1649.30,259.60 L1649.64,264.40 L1649.97,269.89 L1650.31,276.02 L1650.64,282.73 L1650.98,289.96 L1651.32,297.64 L1651.65,305.72 L1651.99,314.13 L1652.33,322.81 L1652.66,331.70 L1653.00,340.76 L1653.33,349.91 L1653.67,359.13 L1654.01,368.36 L1654.34,377.57 L1654.68,386.72 L1655.02,395.78 L1655.35,404.73 L1655.69,413.54 L1656.02,422.19 L1656.36,430.67 L1656.70,438.97 L1657.03,447.07 L1657.37,454.97 L1657.70,462.66 L1658.04,470.14 L1658.38,477.42 L1658.71,484.47 L1659.05,491.32 L1659.39,497.96 L1659.72,504.40 L1660.06,510.63 L1660.39,516.66 L1660.73,522.50 L1661.07,528.15 L1661.40,533.62 L1661.74,538.92 L1662.08,544.04 L1662.41,549.00 L1662.75,553.80 L1663.08,558.45 L1663.42,562.95 L1663.76,567.30 L1664.09,571.53 L1664.43,575.62 L1664.77,579.59 L1665.10,583.44 L1665.44,587.17 L1665.77,590.80 L1666.11,594.32 L1666.45,597.75 L1666.78,601.08 L1667.12,604.32 L1667.45,607.47 L1667.79,610.54 L1668.13,613.54 L1668.46,616.46 L1668.80,619.31 L1669.14,622.10 L1669.47,624.82 L1669.81,627.49 L1670.14,630.09 L1670.48,632.65 L1670.82,635.15 L1671.15,637.61 L1671.49,640.03 L1671.83,642.40 L1672.16,644.74 L1672.50,647.04 L1672.83,649.30 L1673.17,651.54 L1673.51,653.75 L1673.84,655.93 L1674.18,658.09 L1674.52,660.22 L1674.85,662.34 L1675.19,664.44 L1675.52,666.53 L1675.86,668.60 L1676.20,670.67 L1676.53,672.72 L1676.87,674.77 L1677.20,676.81 L1677.54,678.86 L1677.88,680.90 L1678.21,682.94 L1678.55,684.99 L1678.89,687.04 L1679.22,689.11 L1679.56,691.18 L1679.89,693.26 L1680.23,695.36 L1680.57,697.48 L1680.90,699.61 L1681.24,701.77 L1681.58,703.94 L1681.91,706.15 L1682.25,708.38 L1682.58,710.64 L1682.92,712.94 L1683.26,715.27 L1683.59,717.64 L1683.93,720.04 L1684.26,722.50 L1684.60,725.00 L1684.94,727.54 L1685.27,730.14 L1685.61,732.80 L1685.95,735.51 L1686.28,738.29 L1686.62,741.13 L1686.95,744.05 L1687.29,747.03 L1687.63,750.09 L1687.96,753.23 L1688.30,756.46 L1688.64,759.78 L1688.97,763.19 L1689.31,766.70 L1689.64,770.31 L1689.98,774.03 L1690.32,777.86 L1690.65,781.81 L1690.99,785.89 L1691.33,790.09 L1691.66,794.43 L1692.00,798.91 L1692.33,803.54 L1692.67,808.31 L1693.01,813.25 L1693.34,818.35 L1693.68,823.62 L1694.01,829.06 L1694.35,834.69 L1694.69,840.51 L1695.02,846.51 L1695.36,852.71 L1695.70,859.12 L1696.03,865.73 L1696.37,872.55 L1696.70,879.58 L1697.04,886.82 L1697.38,894.27 L1697.71,901.93 L1698.05,909.81 L1698.39,917.88 L1698.72,926.15 L1699.06,934.60 L1699.39,943.23 L1699.73,952.02 L1700.07,960.95 L1700.40,970.00 L1700.74,979.14 L1701.07,988.34 L1701.41,997.57 L1701.75,1006.79 L1702.08,1015.96 L1702.42,1025.03 L1702.76,1033.95 L1703.09,1042.66 L1703.43,1051.11 L1703.76,1059.24 L1704.10,1066.99 L1704.44,1074.28 L1704.77,1081.07 L1705.11,1087.28 L1705.45,1092.87 L1705.78,1097.76 L1706.12,1101.93 L1706.45,1105.32 L1706.79,1107.90 L1707.13,1109.65 L1707.46,1110.55 L1707.80,1110.59 L1708.13,1109.79 L1708.47,1108.15 L1708.81,1105.70 L1709.14,1102.47 L1709.48,1098.51 L1709.82,1093.87 L1710.15,1088.59 L1710.49,1082.74 L1710.82,1076.38 L1711.16,1069.56 L1711.50,1062.37 L1711.83,1054.85 L1712.17,1047.06 L1712.51,1039.08 L1712.84,1030.95 L1713.18,1022.72 L1713.51,1014.44 L1713.85,1006.16 L1714.19,997.91 L1714.52,989.74 L1714.86,981.66 L1715.20,973.71 L1715.53,965.91 L1715.87,958.28 L1716.20,950.83 L1716.54,943.58 L1716.88,936.54 L1717.21,929.72 L1717.55,923.12 L1717.88,916.74 L1718.22,910.60 L1718.56,904.68 L1718.89,898.99 L1719.23,893.52 L1719.57,888.29 L1719.90,883.27 L1720.24,878.47 L1720.57,873.89 L1720.91,869.52 L1721.25,865.35 L1721.58,861.39 L1721.92,857.62 L1722.26,854.04 L1722.59,850.65 L1722.93,847.44 L1723.26,844.41 L1723.60,841.54 L1723.94,838.85 L1724.27,836.32 L1724.61,833.95 L1724.94,831.74 L1725.28,829.68 L1725.62,827.77 L1725.95,826.00 L1726.29,824.37 L1726.63,822.89 L1726.96,821.54 L1727.30,820.32 L1727.63,819.24 L1727.97,818.28 L1728.31,817.46 L1728.64,816.76 L1728.98,816.18 L1729.32,815.73 L1729.65,815.41 L1729.99,815.21 L1730.32,815.13 L1730.66,815.17 L1731.00,815.33 L1731.33,815.62 L1731.67,816.03 L1732.01,816.57 L1732.34,817.23 L1732.68,818.02 L1733.01,818.94 L1733.35,819.98 L1733.69,821.16 L1734.02,822.47 L1734.36,823.91 L1734.69,825.50 L1735.03,827.22 L1735.37,829.09 L1735.70,831.11 L1736.04,833.27 L1736.38,835.60 L1736.71,838.08 L1737.05,840.72 L1737.38,843.53 L1737.72,846.51 L1738.06,849.67 L1738.39,853.00 L1738.73,856.52 L1739.07,860.24 L1739.40,864.14 L1739.74,868.25 L1740.07,872.56 L1740.41,877.08 L1740.75,881.81 L1741.08,886.76 L1741.42,891.93 L1741.76,897.32 L1742.09,902.95 L1742.43,908.80 L1742.76,914.87 L1743.10,921.18 L1743.44,927.72 L1743.77,934.47 L1744.11,941.45 L1744.44,948.64 L1744.78,956.02 L1745.12,963.60 L1745.45,971.35 L1745.79,979.26 L1746.13,987.30 L1746.46,995.45 L1746.80,1003.68 L1747.13,1011.96 L1747.47,1020.24 L1747.81,1028.49 L1748.14,1036.65 L1748.48,1044.69 L1748.82,1052.54 L1749.15,1060.14 L1749.49,1067.44 L1749.82,1074.38 L1750.16,1080.88 L1750.50,1086.89 L1750.83,1092.35 L1751.17,1097.19 L1751.50,1101.36 L1751.84,1104.81 L1752.18,1107.50 L1752.51,1109.38 L1752.85,1110.44 L1753.19,1110.65 L1753.52,1110.01 L1753.86,1108.52 L1754.19,1106.18 L1754.53,1103.03 L1754.87,1099.09 L1755.20,1094.41 L1755.54,1089.03 L1755.88,1083.00 L1756.21,1076.38 L1756.55,1069.23 L1756.88,1061.61 L1757.22,1053.59 L1757.56,1045.23 L1757.89,1036.59 L1758.23,1027.72 L1758.57,1018.69 L1758.90,1009.55 L1759.24,1000.34 L1759.57,991.11 L1759.91,981.89 L1760.25,972.73 L1760.58,963.65 L1760.92,954.69 L1761.25,945.86 L1761.59,937.18 L1761.93,928.67 L1762.26,920.34 L1762.60,912.21 L1762.94,904.28 L1763.27,896.55 L1763.61,889.03 L1763.94,881.73 L1764.28,874.64 L1764.62,867.75 L1764.95,861.08 L1765.29,854.62 L1765.63,848.35 L1765.96,842.29 L1766.30,836.42 L1766.63,830.73 L1766.97,825.23 L1767.31,819.91 L1767.64,814.76 L1767.98,809.78 L1768.31,804.95 L1768.65,800.28 L1768.99,795.76 L1769.32,791.38 L1769.66,787.14 L1770.00,783.02 L1770.33,779.03 L1770.67,775.17 L1771.00,771.41 L1771.34,767.77 L1771.68,764.23 L1772.01,760.79 L1772.35,757.45 L1772.69,754.19 L1773.02,751.03 L1773.36,747.94 L1773.69,744.93 L1774.03,742.00 L1774.37,739.14 L1774.70,736.34 L1775.04,733.61 L1775.38,730.94 L1775.71,728.32 L1776.05,725.76 L1776.38,723.24 L1776.72,720.78 L1777.06,718.35 L1777.39,715.97 L1777.73,713.63 L1778.06,711.33 L1778.40,709.06 L1778.74,706.82 L1779.07,704.60 L1779.41,702.42 L1779.75,700.26 L1780.08,698.12 L1780.42,696.00 L1780.75,693.89 L1781.09,691.80 L1781.43,689.73 L1781.76,687.66 L1782.10,685.61 L1782.44,683.56 L1782.77,681.51 L1783.11,679.47 L1783.44,677.43 L1783.78,675.38 L1784.12,673.34 L1784.45,671.28 L1784.79,669.22 L1785.12,667.15 L1785.46,665.07 L1785.80,662.97 L1786.13,660.86 L1786.47,658.73 L1786.81,656.58 L1787.14,654.40 L1787.48,652.20 L1787.81,649.98 L1788.15,647.72 L1788.49,645.43 L1788.82,643.11 L1789.16,640.74 L1789.50,638.34 L1789.83,635.90 L1790.17,633.41 L1790.50,630.87 L1790.84,628.27 L1791.18,625.63 L1791.51,622.92 L1791.85,620.16 L1792.18,617.32 L1792.52,614.42 L1792.86,611.45 L1793.19,608.40 L1793.53,605.27 L1793.87,602.06 L1794.20,598.76 L1794.54,595.36 L1794.87,591.87 L1795.21,588.27 L1795.55,584.57 L1795.88,580.76 L1796.22,576.82 L1796.56,572.77 L1796.89,568.59 L1797.23,564.27 L1797.56,559.81 L1797.90,555.21 L1798.24,550.46 L1798.57,545.55 L1798.91,540.47 L1799.25,535.23 L1799.58,529.81 L1799.92,524.22 L1800.25,518.43 L1800.59,512.46 L1800.93,506.29 L1801.26,499.91 L1801.60,493.34 L1801.93,486.55 L1802.27,479.56 L1802.61,472.35 L1802.94,464.93 L1803.28,457.30 L1803.62,449.46 L1803.95,441.42 L1804.29,433.18 L1804.62,424.75 L1804.96,416.15 L1805.30,407.39 L1805.63,398.48 L1805.97,389.45 L1806.31,380.32 L1806.64,371.13 L1806.98,361.90 L1807.31,352.68 L1807.65,343.50 L1807.99,334.41 L1808.32,325.46 L1808.66,316.71 L1808.99,308.21 L1809.33,300.03 L1809.67,292.22 L1810.00,284.85 L1810.34,277.97 L1810.68,271.67 L1811.01,265.98 L1811.35,260.97 L1811.68,256.68 L1812.02,253.17 L1812.36,250.45 L1812.69,248.57 L1813.03,247.54 L1813.37,247.36 L1813.70,248.03 L1814.04,249.53 L1814.37,251.86 L1814.71,254.96 L1815.05,258.81 L1815.38,263.35 L1815.72,268.53 L1816.06,274.29 L1816.39,280.58 L1816.73,287.32 L1817.06,294.46 L1817.40,301.94 L1817.74,309.68 L1818.07,317.64 L1818.41,325.75 L1818.74,333.97 L1819.08,342.24 L1819.42,350.52 L1819.75,358.78 L1820.09,366.97 L1820.43,375.06 L1820.76,383.03 L1821.10,390.86 L1821.43,398.52 L1821.77,405.99 L1822.11,413.28 L1822.44,420.35 L1822.78,427.21 L1823.12,433.85 L1823.45,440.26 L1823.79,446.44 L1824.12,452.40 L1824.46,458.12 L1824.80,463.62 L1825.13,468.89 L1825.47,473.94 L1825.81,478.78 L1826.14,483.39 L1826.48,487.80 L1826.81,492.00 L1827.15,495.99 L1827.49,499.79 L1827.82,503.40 L1828.16,506.82 L1828.49,510.06 L1828.83,513.12 L1829.17,516.01 L1829.50,518.73 L1829.84,521.28 L1830.18,523.68 L1830.51,525.92 L1830.85,528.00 L1831.18,529.94 L1831.52,531.73 L1831.86,533.38 L1832.19,534.89 L1832.53,536.26 L1832.87,537.50 L1833.20,538.60 L1833.54,539.58 L1833.87,540.42 L1834.21,541.14 L1834.55,541.73 L1834.88,542.20 L1835.22,542.55 L1835.55,542.77 L1835.89,542.87 L1836.23,542.85 L1836.56,542.70 L1836.90,542.43 L1837.24,542.04 L1837.57,541.52 L1837.91,540.88 L1838.24,540.11 L1838.58,539.22 L1838.92,538.20 L1839.25,537.04 L1839.59,535.75 L1839.93,534.33 L1840.26,532.77 L1840.60,531.06 L1840.93,529.22 L1841.27,527.22 L1841.61,525.08 L1841.94,522.78 L1842.28,520.33 L1842.62,517.71 L1842.95,514.93 L1843.29,511.98 L1843.62,508.85 L1843.96,505.54 L1844.30,502.05 L1844.63,498.37 L1844.97,494.49 L1845.30,490.42 L1845.64,486.14 L1845.98,481.66 L1846.31,476.96 L1846.65,472.04 L1846.99,466.91 L1847.32,461.55 L1847.66,455.97 L1847.99,450.15 L1848.33,444.11 L1848.67,437.84 L1849.00,431.34 L1849.34,424.62 L1849.68,417.68 L1850.01,410.52 L1850.35,403.17 L1850.68,395.62 L1851.02,387.89 L1851.36,380.01 L1851.69,371.99 L1852.03,363.85 L1852.36,355.63 L1852.70,347.36 L1853.04,339.08 L1853.37,330.82 L1853.71,322.64 L1854.05,314.58 L1854.38,306.70 L1854.72,299.05 L1855.05,291.70 L1855.39,284.70 L1855.73,278.12 L1856.06,272.03 L1856.40,266.48 L1856.74,261.54 L1857.07,257.26 L1857.41,253.69 L1857.74,250.88 L1858.08,248.86 L1858.42,247.67 L1858.75,247.32 L1859.09,247.83 L1859.42,249.19 L1859.76,251.39 L1860.10,254.41 L1860.43,258.23 L1860.77,262.80 L1861.11,268.07 L1861.44,274.00 L1861.78,280.53 L1862.11,287.60 L1862.45,295.15 L1862.79,303.11 L1863.12,311.42 L1863.46,320.02 L1863.80,328.85 L1864.13,337.86 L1864.47,346.99 L1864.80,356.19 L1865.14,365.42 L1865.48,374.64 L1865.81,383.81 L1866.15,392.91 L1866.49,401.89 L1866.82,410.75 L1867.16,419.45 L1867.49,427.99 L1867.83,436.34 L1868.17,444.51 L1868.50,452.47 L1868.84,460.23 L1869.17,467.78 L1869.51,475.12 L1869.85,482.25 L1870.18,489.16 L1870.52,495.87 L1870.86,502.37 L1871.19,508.66 L1871.53,514.76 L1871.86,520.66 L1872.20,526.37 L1872.54,531.90 L1872.87,537.25 L1873.21,542.43 L1873.55,547.44 L1873.88,552.29 L1874.22,556.98 L1874.55,561.53 L1874.89,565.93 L1875.23,570.20 L1875.56,574.33 L1875.90,578.34 L1876.23,582.23 L1876.57,586.00 L1876.91,589.66 L1877.24,593.21 L1877.58,596.67 L1877.92,600.03 L1878.25,603.29 L1878.59,606.48 L1878.92,609.57 L1879.26,612.59 L1879.60,615.54 L1879.93,618.41 L1880.27,621.22 L1880.61,623.96 L1880.94,626.64 L1881.28,629.27 L1881.61,631.84 L1881.95,634.36 L1882.29,636.83 L1882.62,639.26 L1882.96,641.65 L1883.30,644.00 L1883.63,646.31 L1883.97,648.58 L1884.30,650.83 L1884.64,653.05 L1884.98,655.24 L1885.31,657.40 L1885.65,659.54 L1885.98,661.67 L1886.32,663.77 L1886.66,665.87 L1886.99,667.94 L1887.33,670.01 L1887.67,672.07 L1888.00,674.12 L1888.34,676.16 L1888.67,678.21 L1889.01,680.25 L1889.35,682.29 L1889.68,684.34 L1890.02,686.39 L1890.36,688.45 L1890.69,690.52 L1891.03,692.60 L1891.36,694.69 L1891.70,696.80 L1892.04,698.93 L1892.37,701.08 L1892.71,703.25 L1893.05,705.44 L1893.38,707.67 L1893.72,709.92 L1894.05,712.20 L1894.39,714.52 L1894.73,716.88 L1895.06,719.27 L1895.40,721.71 L1895.73,724.19 L1896.07,726.73 L1896.41,729.31 L1896.74,731.95 L1897.08,734.64 L1897.42,737.40 L1897.75,740.22 L1898.09,743.11 L1898.42,746.07 L1898.76,749.11 L1899.10,752.22 L1899.43,755.42 L1899.77,758.71 L1900.11,762.09 L1900.44,765.57 L1900.78,769.15 L1901.11,772.83 L1901.45,776.63 L1901.79,780.54 L1902.12,784.58 L1902.46,788.74 L1902.79,793.03 L1903.13,797.47 L1903.47,802.05 L1903.80,806.77 L1904.14,811.66 L1904.48,816.71 L1904.81,821.92 L1905.15,827.31 L1905.48,832.88 L1905.82,838.63 L1906.16,844.58 L1906.49,850.72 L1906.83,857.06 L1907.17,863.60 L1907.50,870.35 L1907.84,877.31 L1908.17,884.49 L1908.51,891.87 L1908.85,899.47 L1909.18,907.28 L1909.52,915.29 L1909.86,923.49 L1910.19,931.89 L1910.53,940.47 L1910.86,949.21 L1911.20,958.09 L1911.54,967.10 L1911.87,976.22 L1912.21,985.40 L1912.54,994.63 L1912.88,1003.86 L1913.22,1013.05 L1913.55,1022.15 L1913.89,1031.13 L1914.23,1039.91 L1914.56,1048.45 L1914.90,1056.69 L1915.23,1064.57 L1915.57,1072.01 L1915.91,1078.97 L1916.24,1085.37 L1916.58,1091.16 L1916.92,1096.28 L1917.25,1100.68 L1917.59,1104.33 L1917.92,1107.17 L1918.26,1109.19 L1918.60,1110.36 L1918.93,1110.67 L1919.27,1110.14 L1919.60,1108.76 L1919.94,1106.57 L1920.28,1103.58 L1920.61,1099.85 L1920.95,1095.42 L1921.29,1090.34 L1921.62,1084.66 L1921.96,1078.45 L1922.29,1071.78 L1922.63,1064.70 L1922.97,1057.27 L1923.30,1049.57 L1923.64,1041.64 L1923.98,1033.55 L1924.31,1025.35 L1924.65,1017.08 L1924.98,1008.80 L1925.32,1000.54 L1925.66,992.33 L1925.99,984.22 L1926.33,976.23 L1926.66,968.38 L1927.00,960.69 L1927.34,953.18 L1927.67,945.87 L1928.01,938.76 L1928.35,931.87 L1928.68,925.20 L1929.02,918.75 L1929.35,912.53 L1929.69,906.54 L1930.03,900.78 L1930.36,895.24 L1930.70,889.93 L1931.04,884.85 L1931.37,879.98 L1931.71,875.33 L1932.04,870.89 L1932.38,866.66 L1932.72,862.63 L1933.05,858.80 L1933.39,855.16 L1933.73,851.71 L1934.06,848.44 L1934.40,845.35 L1934.73,842.44 L1935.07,839.69 L1935.41,837.11 L1935.74,834.69 L1936.08,832.43 L1936.41,830.32 L1936.75,828.36 L1937.09,826.55 L1937.42,824.88 L1937.76,823.34 L1938.10,821.95 L1938.43,820.69 L1938.77,819.57 L1939.10,818.57 L1939.44,817.70 L1939.78,816.97 L1940.11,816.35 L1940.45,815.86 L1940.79,815.50 L1941.12,815.26 L1941.46,815.14 L1941.79,815.14 L1942.13,815.27 L1942.47,815.52 L1942.80,815.89 L1943.14,816.39 L1943.47,817.01 L1943.81,817.76 L1944.15,818.63 L1944.48,819.63 L1944.82,820.77 L1945.16,822.03 L1945.49,823.44 L1945.83,824.98 L1946.16,826.66 L1946.50,828.48 L1946.84,830.45 L1947.17,832.57 L1947.51,834.84 L1947.85,837.27 L1948.18,839.86 L1948.52,842.62 L1948.85,845.54 L1949.19,848.64 L1949.53,851.92 L1949.86,855.38 L1950.20,859.03 L1950.54,862.88 L1950.87,866.92 L1951.21,871.16 L1951.54,875.61 L1951.88,880.28 L1952.22,885.16 L1952.55,890.26 L1952.89,895.58 L1953.22,901.13 L1953.56,906.91 L1953.90,912.91 L1954.23,919.15 L1954.57,925.61 L1954.91,932.30 L1955.24,939.20 L1955.58,946.32 L1955.91,953.65 L1956.25,961.17 L1956.59,968.87 L1956.92,976.73 L1957.26,984.73 L1957.60,992.85 L1957.93,1001.05 L1958.27,1009.32 L1958.60,1017.60 L1958.94,1025.86 L1959.28,1034.06 L1959.61,1042.14 L1959.95,1050.06 L1960.29,1057.75 L1960.62,1065.15 L1960.96,1072.21 L1961.29,1078.86 L1961.63,1085.03 L1961.97,1090.67 L1962.30,1095.72 L1962.64,1100.11 L1962.97,1103.79 L1963.31,1106.73 L1963.65,1108.87 L1963.98,1110.20 L1964.32,1110.68 L1964.66,1110.31 L1964.99,1109.08 L1965.33,1107.02 L1965.66,1104.12 L1966.00,1100.43 L1966.34,1095.98 L1966.67,1090.81 L1967.01,1084.98 L1967.35,1078.55 L1967.68,1071.56 L1968.02,1064.08 L1968.35,1056.19 L1968.69,1047.93 L1969.03,1039.37 L1969.36,1030.57 L1969.70,1021.59 L1970.03,1012.47 L1970.37,1003.28 L1970.71,994.05 L1971.04,984.82 L1971.38,975.64 L1971.72,966.54 L1972.05,957.53 L1972.39,948.65 L1972.72,939.92 L1973.06,931.36 L1973.40,922.97 L1973.73,914.78 L1974.07,906.78 L1974.41,898.99 L1974.74,891.40 L1975.08,884.03 L1975.41,876.87 L1975.75,869.92 L1976.09,863.18 L1976.42,856.65 L1976.76,850.33 L1977.10,844.20 L1977.43,838.27 L1977.77,832.52 L1978.10,826.97 L1978.44,821.59 L1978.78,816.38 L1979.11,811.35 L1979.45,806.47 L1979.78,801.75 L1980.12,797.19 L1980.46,792.76 L1980.79,788.47 L1981.13,784.32 L1981.47,780.29 L1981.80,776.39 L1982.14,772.60 L1982.47,768.92 L1982.81,765.35 L1983.15,761.88 L1983.48,758.50 L1983.82,755.22 L1984.16,752.03 L1984.49,748.91 L1984.83,745.88 L1985.16,742.93 L1985.50,740.04"/>
<path stroke="#ff0000" stroke-linejoin="bevel" stroke-dasharray="24.500 22.210" d="M304.50,679.00 L304.50,443.00 L304.80,558.70"/>
<path stroke="#ff0000" d="M305.6,547.8 L306.1,561 L306.6,571.8"/>
<path stroke="#ff0000" stroke-linejoin="round" d="M308.9,595.6 L309.5,599.3 L310.3,600.8 L311.3,601.2 L312.4,600.2 L313.6,596.6 L315.0,591.5 L316.4,586"/>
<path stroke="#ff0000" stroke-dasharray="24.500 22.210" stroke-dashoffset="21.200" d="M316.44,589.26 L316.60,587.79 L316.94,584.77 L317.28,581.63 L317.61,578.36 L317.95,574.96 L318.28,571.42 L318.62,567.74 L318.96,563.90 L319.29,559.91 L319.63,555.76 L319.97,551.43 L320.30,546.93 L320.64,542.25 L320.97,537.38 L321.31,532.32 L321.65,527.04 L321.98,521.56 L322.32,515.86 L322.65,509.94 L322.99,503.82 L323.33,497.48 L323.66,490.93 L324.00,484.17 L324.34,477.21 L324.67,470.05 L325.01,462.71 L325.34,455.18 L325.68,447.47 L326.02,439.61 L326.35,431.61 L326.69,423.50 L327.03,415.32 L327.36,407.09 L327.70,398.81 L328.03,390.50 L328.37,382.19 L328.71,373.91 L329.04,365.68 L329.38,357.53 L329.71,349.51 L330.05,341.65 L330.39,334.01 L330.72,326.62 L331.06,319.55 L331.40,312.83 L331.73,306.53 L332.07,300.69 L332.40,295.36 L332.74,290.59 L333.08,286.42 L333.41,282.86 L333.75,279.95 L334.09,277.74 L334.42,276.26 L334.76,275.45 L335.09,275.34 L335.43,275.92 L335.77,277.19 L336.10,279.15 L336.44,281.77 L336.78,285.02 L337.11,288.88 L337.45,293.29 L337.78,298.22 L338.12,303.61 L338.46,309.43 L338.79,315.62 L339.13,322.14 L339.46,328.94 L339.80,335.98 L340.14,343.23 L340.47,350.64 L340.81,358.19 L341.15,365.85 L341.48,373.60 L341.82,381.35 L342.15,389.01 L342.49,396.54 L342.83,403.92 L343.16,411.15 L343.50,418.19 L343.84,425.05 L344.17,431.72 L344.51,438.17 L344.84,444.42 L345.18,450.45 L345.52,456.27 L345.85,461.88 L346.19,467.27 L346.52,472.45 L346.86,477.42 L347.20,482.18 L347.53,486.75 L347.87,491.11 L348.21,495.28 L348.54,499.26 L348.88,503.04 L349.21,506.63 L349.55,510.03 L349.89,513.25 L350.22,516.30 L350.56,519.17 L350.90,521.87 L351.23,524.41 L351.57,526.80 L351.90,529.02 L352.24,531.10 L352.58,533.03 L352.91,534.81 L353.25,536.46 L353.59,537.97 L353.92,539.34 L354.26,540.58 L354.59,541.69 L354.93,542.67 L355.27,543.53 L355.60,544.26 L355.94,544.87 L356.27,545.36 L356.61,545.73 L356.95,545.98 L357.28,546.11 L357.62,546.13 L357.96,546.02 L358.29,545.78 L358.63,545.43 L358.96,544.95 L359.30,544.35 L359.64,543.62 L359.97,542.77 L360.31,541.79 L360.65,540.68 L360.98,539.44 L361.32,538.06 L361.65,536.55 L361.99,534.90 L362.33,533.11 L362.66,531.17 L363.00,529.09 L363.33,526.86 L363.67,524.47 L364.01,521.92 L364.34,519.21 L364.68,516.33 L365.02,513.28 L365.35,510.06 L365.69,506.65 L366.02,503.06 L366.36,499.28 L366.70,495.30 L367.03,491.13 L367.37,486.75 L367.71,482.16 L368.04,477.35 L368.38,472.33 L368.71,467.10 L369.05,461.65 L369.39,455.99 L369.72,450.11 L370.06,444.01 L370.40,437.70 L370.73,431.16 L371.07,424.42 L371.40,417.47 L371.74,410.31 L372.08,402.96 L372.41,395.43 L372.75,387.74 L373.08,379.90 L373.42,371.94 L373.76,363.88 L374.09,355.75 L374.43,347.59 L374.77,339.44 L375.10,331.33 L375.44,323.31 L375.77,315.44 L376.11,307.77 L376.45,300.36 L376.78,293.27 L377.12,286.55 L377.46,280.28 L377.79,274.52 L378.13,269.32 L378.46,264.74 L378.80,260.84 L379.14,257.66 L379.47,255.25 L379.81,253.63 L380.14,252.84 L380.48,252.88 L380.82,253.76 L381.15,255.49 L381.49,258.03 L381.83,261.37 L382.16,265.48 L382.50,270.30 L382.83,275.80 L383.17,281.92 L383.51,288.60 L383.84,295.78 L384.18,303.40 L384.52,311.40 L384.85,319.71 L385.19,328.27 L385.52,337.04 L385.86,345.94 L386.20,354.94 L386.53,363.98 L386.87,373.03 L387.21,382.04 L387.54,390.98 L387.88,399.83 L388.21,408.56 L388.55,417.14 L388.89,425.56 L389.22,433.80 L389.56,441.86 L389.89,449.71 L390.23,457.37 L390.57,464.81 L390.90,472.05 L391.24,479.07 L391.58,485.88 L391.91,492.48 L392.25,498.88 L392.58,505.07 L392.92,511.06 L393.26,516.86 L393.59,522.47 L393.93,527.89 L394.27,533.14 L394.60,538.22 L394.94,543.13 L395.27,547.88 L395.61,552.48 L395.95,556.93 L396.28,561.24 L396.62,565.42 L396.95,569.47 L397.29,573.40 L397.63,577.21 L397.96,580.89 L398.30,584.47 L398.64,587.94 L398.97,591.31 L399.31,594.58 L399.64,597.76 L399.98,600.86 L400.32,603.86 L400.65,606.79 L400.99,609.64 L401.33,612.42 L401.66,615.14 L402.00,617.78 L402.33,620.37 L402.67,622.89 L403.01,625.36 L403.34,627.78 L403.68,630.15 L404.02,632.47 L404.35,634.75 L404.69,636.99 L405.02,639.19 L405.36,641.35 L405.70,643.48 L406.03,645.58 L406.37,647.65 L406.70,649.69 L407.04,651.71 L407.38,653.71 L407.71,655.69 L408.05,657.64 L408.39,659.59 L408.72,661.52 L409.06,663.43 L409.39,665.34 L409.73,667.24 L410.07,669.13 L410.40,671.02 L410.74,672.91 L411.08,674.80 L411.41,676.69 L411.75,678.59 L412.08,680.50 L412.42,682.43 L412.76,684.36 L413.09,686.31 L413.43,688.28 L413.76,690.26 L414.10,692.27 L414.44,694.29 L414.77,696.35 L415.11,698.43 L415.45,700.54 L415.78,702.68 L416.12,704.86 L416.45,707.07 L416.79,709.33 L417.13,711.62 L417.46,713.96 L417.80,716.35 L418.14,718.79 L418.47,721.28 L418.81,723.83 L419.14,726.44 L419.48,729.12 L419.82,731.86 L420.15,734.67 L420.49,737.55 L420.83,740.52 L421.16,743.56 L421.50,746.70 L421.83,749.92 L422.17,753.24 L422.51,756.66 L422.84,760.18 L423.18,763.81 L423.51,767.56 L423.85,771.43 L424.19,775.42 L424.52,779.55 L424.86,783.81 L425.20,788.21 L425.53,792.76 L425.87,797.45 L426.20,802.27 L426.54,807.23 L426.88,812.34 L427.21,817.59 L427.55,823.01 L427.89,828.60 L428.22,834.37 L428.56,840.32 L428.89,846.46 L429.23,852.79 L429.57,859.31 L429.90,866.04 L430.24,872.97 L430.57,880.11 L430.91,887.45 L431.25,894.98 L431.58,902.71 L431.92,910.63 L432.26,918.72 L432.59,926.97 L432.93,935.37 L433.26,943.89 L433.60,952.51 L433.94,961.20 L434.27,969.94 L434.61,978.67 L434.95,987.37 L435.28,995.98 L435.62,1004.46 L435.95,1012.75 L436.29,1020.79 L436.63,1028.54 L436.96,1035.92 L437.30,1042.88 L437.64,1049.36 L437.97,1055.30 L438.31,1060.64 L438.64,1065.33 L438.98,1069.32 L439.32,1072.58 L439.65,1075.08 L439.99,1076.78 L440.32,1077.68 L440.66,1077.76 L441.00,1077.04 L441.33,1075.52 L441.67,1073.22 L442.01,1070.19 L442.34,1066.46 L442.68,1062.08 L443.01,1057.11 L443.35,1051.59 L443.69,1045.59 L444.02,1039.17 L444.36,1032.39 L444.70,1025.31 L445.03,1017.98 L445.37,1010.48 L445.70,1002.84 L446.04,995.12 L446.38,987.36 L446.71,979.60 L447.05,971.88 L447.38,964.23 L447.72,956.68 L448.06,949.25 L448.39,941.96 L448.73,934.83 L449.07,927.87 L449.40,921.10 L449.74,914.55 L450.07,908.22 L450.41,902.12 L450.75,896.26 L451.08,890.62 L451.42,885.22 L451.76,880.06 L452.09,875.13 L452.43,870.43 L452.76,865.95 L453.10,861.71 L453.44,857.68 L453.77,853.87 L454.11,850.27 L454.45,846.88 L454.78,843.69 L455.12,840.70 L455.45,837.91 L455.79,835.30 L456.13,832.88 L456.46,830.64 L456.80,828.57 L457.13,826.67 L457.47,825.00 L457.81,823.57 L458.14,822.36 L458.48,821.37 L458.82,820.56 L459.15,819.92 L459.49,819.43 L459.82,819.07 L460.16,818.81 L460.50,818.64 L460.83,818.55 L461.17,818.51 L461.51,818.50 L461.84,818.51 L462.18,818.51 L462.51,818.50 L462.85,818.45 L463.19,818.37 L463.52,818.34 L463.86,818.36 L464.19,818.45 L464.53,818.63 L464.87,818.89 L465.20,819.26 L465.54,819.75 L465.88,820.37 L466.21,821.13 L466.55,822.04 L466.88,823.13 L467.22,824.39 L467.56,825.85 L467.89,827.52 L468.23,829.41 L468.57,831.53 L468.90,833.87 L469.24,836.42 L469.57,839.20 L469.91,842.20 L470.25,845.41 L470.58,848.84 L470.92,852.49 L471.26,856.36 L471.59,860.44 L471.93,864.74 L472.26,869.26 L472.60,874.00 L472.94,878.95 L473.27,884.12 L473.61,889.50 L473.94,895.10 L474.28,900.92 L474.62,906.94 L474.95,913.18 L475.29,919.62 L475.63,926.27 L475.96,933.11 L476.30,940.18 L476.63,947.50 L476.97,955.07 L477.31,962.87 L477.64,970.90 L477.98,979.13 L478.32,987.55 L478.65,996.13 L478.99,1004.85 L479.32,1013.68 L479.66,1022.59 L480.00,1031.53 L480.33,1040.46 L480.67,1049.34 L481.00,1058.12 L481.34,1066.75 L481.68,1075.15 L482.01,1083.28 L482.35,1091.07 L482.69,1098.45 L483.02,1105.35 L483.36,1111.72 L483.69,1117.47 L484.03,1122.56 L484.37,1126.92 L484.70,1130.49 L485.04,1133.24 L485.38,1135.13 L485.71,1136.12 L486.05,1136.19 L486.38,1135.36 L486.72,1133.63 L487.06,1131.02 L487.39,1127.55 L487.73,1123.26 L488.07,1118.19 L488.40,1112.39 L488.74,1105.92 L489.07,1098.83 L489.41,1091.20 L489.75,1083.08 L490.08,1074.54 L490.42,1065.65 L490.75,1056.46 L491.09,1047.05 L491.43,1037.46 L491.76,1027.75 L492.10,1017.96 L492.44,1008.16 L492.77,998.36 L493.11,988.62 L493.44,978.97 L493.78,969.43 L494.12,960.03 L494.45,950.79 L494.79,941.73 L495.13,932.86 L495.46,924.20 L495.80,915.75 L496.13,907.52 L496.47,899.52 L496.81,891.75 L497.14,884.21 L497.48,876.91 L497.81,869.85 L498.15,863.02 L498.49,856.42 L498.82,850.05 L499.16,843.92 L499.50,838.00 L499.83,832.29 L500.17,826.76 L500.50,821.39 L500.84,816.19 L501.18,811.16 L501.51,806.27 L501.85,801.53 L502.19,796.94 L502.52,792.48 L502.86,788.15 L503.19,783.95 L503.53,779.87 L503.87,775.90 L504.20,772.05 L504.54,768.30 L504.88,764.66 L505.21,761.11 L505.55,757.66 L505.88,754.29 L506.22,751.01 L506.56,747.81 L506.89,744.69 L507.23,741.64 L507.56,738.66 L507.90,735.75 L508.24,732.91 L508.57,730.12 L508.91,727.39 L509.25,724.72 L509.58,722.10 L509.92,719.53 L510.25,717.01 L510.59,714.53 L510.93,712.10 L511.26,709.70 L511.60,707.34 L511.94,705.02 L512.27,702.73 L512.61,700.47 L512.94,698.24 L513.28,696.03 L513.62,693.86 L513.95,691.70 L514.29,689.57 L514.62,687.45 L514.96,685.35 L515.30,683.27 L515.63,681.20 L515.97,679.14 L516.31,677.10 L516.64,675.06 L516.98,673.01 L517.31,670.96 L517.65,668.91 L517.99,666.85 L518.32,664.78 L518.66,662.69 L519.00,660.60 L519.33,658.48 L519.67,656.35 L520.00,654.19 L520.34,652.01 L520.68,649.81 L521.01,647.57 L521.35,645.31 L521.69,643.01 L522.02,640.67 L522.36,638.30 L522.69,635.88 L523.03,633.41 L523.37,630.90 L523.70,628.34 L524.04,625.72 L524.37,623.04 L524.71,620.31 L525.05,617.50 L525.38,614.63 L525.72,611.69 L526.06,608.66 L526.39,605.56 L526.73,602.38 L527.06,599.10 L527.40,595.73 L527.74,592.26 L528.07,588.69 L528.41,585.01 L528.75,581.21 L529.08,577.30 L529.42,573.26 L529.75,569.09 L530.09,564.79 L530.43,560.34 L530.76,555.75 L531.10,551.01 L531.43,546.10 L531.77,541.03 L532.11,535.80 L532.44,530.39 L532.78,524.79 L533.12,519.02 L533.45,513.05 L533.79,506.88 L534.12,500.52 L534.46,493.95 L534.80,487.17 L535.13,480.18 L535.47,472.98 L535.81,465.57 L536.14,457.95 L536.48,450.12 L536.81,442.09 L537.15,433.86 L537.49,425.44 L537.82,416.86 L538.16,408.11 L538.50,399.22 L538.83,390.21 L539.17,381.11 L539.50,371.95 L539.84,362.76 L540.18,353.57 L540.51,344.44 L540.85,335.40 L541.18,326.51 L541.52,317.83 L541.86,309.41 L542.19,301.31 L542.53,293.59 L542.87,286.32 L543.20,279.55 L543.54,273.36 L543.87,267.80 L544.21,262.91 L544.55,258.76 L544.88,255.38 L545.22,252.81 L545.56,251.07 L545.89,250.17 L546.23,250.12 L546.56,250.92 L546.90,252.53 L547.24,254.95 L547.57,258.13 L547.91,262.05 L548.25,266.64 L548.58,271.85 L548.92,277.63 L549.25,283.92 L549.59,290.65 L549.93,297.76 L550.26,305.19 L550.60,312.87 L550.93,320.75 L551.27,328.78 L551.61,336.90 L551.94,345.07 L552.28,353.24 L552.62,361.38 L552.95,369.44 L553.29,377.40 L553.62,385.24 L553.96,392.93 L554.30,400.45 L554.63,407.78 L554.97,414.92 L555.31,421.86 L555.64,428.58 L555.98,435.08 L556.31,441.36 L556.65,447.42 L556.99,453.24 L557.32,458.84 L557.66,464.20 L557.99,469.33 L558.33,474.24 L558.67,478.92 L559.00,483.39 L559.34,487.64 L559.68,491.69 L560.01,495.53 L560.35,499.18 L560.68,502.63 L561.02,505.90 L561.36,508.99 L561.69,511.90 L562.03,514.64 L562.37,517.21 L562.70,519.63 L563.04,521.88 L563.37,523.98 L563.71,525.94 L564.05,527.75 L564.38,529.42 L564.72,530.95 L565.06,532.35 L565.39,533.61 L565.73,534.75 L566.06,535.77 L566.40,536.66 L566.74,537.43 L567.07,538.08 L567.41,538.61 L567.74,539.03 L568.08,539.34 L568.42,539.53 L568.75,539.61 L569.09,539.57 L569.43,539.41 L569.76,539.12 L570.10,538.72 L570.43,538.20 L570.77,537.55 L571.11,536.78 L571.44,535.88 L571.78,534.85 L572.12,533.69 L572.45,532.41 L572.79,530.98 L573.12,529.42 L573.46,527.72 L573.80,525.87 L574.13,523.88 L574.47,521.73 L574.80,519.43 L575.14,516.98 L575.48,514.36 L575.81,511.57 L576.15,508.61 L576.49,505.47 L576.82,502.16 L577.16,498.65 L577.49,494.96 L577.83,491.07 L578.17,486.98 L578.50,482.68 L578.84,478.17 L579.18,473.45 L579.51,468.50 L579.85,463.34 L580.18,457.94 L580.52,452.32 L580.86,446.47 L581.19,440.39 L581.53,434.08 L581.87,427.55 L582.20,420.79 L582.54,413.82 L582.87,406.63 L583.21,399.24 L583.55,391.66 L583.88,383.91 L584.22,376.00 L584.55,367.96 L584.89,359.81 L585.23,351.58 L585.56,343.31 L585.90,335.02 L586.24,326.78 L586.57,318.61 L586.91,310.58 L587.24,302.73 L587.58,295.12 L587.92,287.82 L588.25,280.89 L588.59,274.39 L588.93,268.37 L589.26,262.92 L589.60,258.08 L589.93,253.91 L590.27,250.46 L590.61,247.77 L590.94,245.89 L591.28,244.83 L591.61,244.63 L591.95,245.28 L592.29,246.78 L592.62,249.13 L592.96,252.30 L593.30,256.26 L593.63,260.97 L593.97,266.38 L594.30,272.44 L594.64,279.09 L594.98,286.27 L595.31,293.92 L595.65,301.98 L595.99,310.38 L596.32,319.07 L596.66,327.98 L596.99,337.05 L597.33,346.24 L597.67,355.50 L598.00,364.77 L598.34,374.04 L598.67,383.25 L599.01,392.37 L599.35,401.39 L599.68,410.27 L600.02,419.00 L600.36,427.55 L600.69,435.93 L601.03,444.11 L601.36,452.09 L601.70,459.86 L602.04,467.42 L602.37,474.77 L602.71,481.90 L603.05,488.82 L603.38,495.53 L603.72,502.04 L604.05,508.33 L604.39,514.44 L604.73,520.35 L605.06,526.07 L605.40,531.61 L605.74,536.97 L606.07,542.16 L606.41,547.19 L606.74,552.06 L607.08,556.78 L607.42,561.34 L607.75,565.77 L608.09,570.06 L608.42,574.22 L608.76,578.25 L609.10,582.16 L609.43,585.96 L609.77,589.65 L610.11,593.23 L610.44,596.71 L610.78,600.10 L611.11,603.39 L611.45,606.60 L611.79,609.72 L612.12,612.77 L612.46,615.73 L612.80,618.63 L613.13,621.46 L613.47,624.22 L613.80,626.92 L614.14,629.57 L614.48,632.15 L614.81,634.69 L615.15,637.17 L615.49,639.61 L615.82,642.00 L616.16,644.36 L616.49,646.67 L616.83,648.95 L617.17,651.19 L617.50,653.40 L617.84,655.59 L618.17,657.75 L618.51,659.89 L618.85,662.01 L619.18,664.11 L619.52,666.20 L619.86,668.28 L620.19,670.34 L620.53,672.40 L620.86,674.45 L621.20,676.49 L621.54,678.53 L621.87,680.58 L622.21,682.62 L622.55,684.67 L622.88,686.72 L623.22,688.78 L623.55,690.85 L623.89,692.93 L624.23,695.03 L624.56,697.14 L624.90,699.27 L625.23,701.43 L625.57,703.60 L625.91,705.80 L626.24,708.03 L626.58,710.28 L626.92,712.57 L627.25,714.90 L627.59,717.26 L627.92,719.66 L628.26,722.11 L628.60,724.60 L628.93,727.14 L629.27,729.73 L629.61,732.38 L629.94,735.08 L630.28,737.85 L630.61,740.68 L630.95,743.58 L631.29,746.56 L631.62,749.60 L631.96,752.73 L632.30,755.95 L632.63,759.25 L632.97,762.64 L633.30,766.14 L633.64,769.73 L633.98,773.44 L634.31,777.25 L634.65,781.18 L634.98,785.24 L635.32,789.42 L635.66,793.74 L635.99,798.20 L636.33,802.80 L636.67,807.55 L637.00,812.46 L637.34,817.54 L637.67,822.78 L638.01,828.20 L638.35,833.79 L638.68,839.58 L639.02,845.55 L639.36,851.73 L639.69,858.10 L640.03,864.68 L640.36,871.46 L640.70,878.46 L641.04,885.66 L641.37,893.08 L641.71,900.71 L642.04,908.55 L642.38,916.60 L642.72,924.84 L643.05,933.26 L643.39,941.87 L643.73,950.63 L644.06,959.54 L644.40,968.57 L644.73,977.69 L645.07,986.89 L645.41,996.12 L645.74,1005.34 L646.08,1014.52 L646.42,1023.61 L646.75,1032.56 L647.09,1041.31 L647.42,1049.80 L647.76,1057.99 L648.10,1065.80 L648.43,1073.17 L648.77,1080.04 L649.11,1086.35 L649.44,1092.03 L649.78,1097.04 L650.11,1101.32 L650.45,1104.84 L650.79,1107.55 L651.12,1109.43 L651.46,1110.46 L651.79,1110.64 L652.13,1109.97 L652.47,1108.46 L652.80,1106.14 L653.14,1103.03 L653.48,1099.18 L653.81,1094.64 L654.15,1089.46 L654.48,1083.70 L654.82,1077.41 L655.16,1070.66 L655.49,1063.52 L655.83,1056.05 L656.17,1048.30 L656.50,1040.35 L656.84,1032.23 L657.17,1024.02 L657.51,1015.75 L657.85,1007.46 L658.18,999.21 L658.52,991.02 L658.85,982.92 L659.19,974.95 L659.53,967.13 L659.86,959.47 L660.20,951.99 L660.54,944.71 L660.87,937.64 L661.21,930.78 L661.54,924.14 L661.88,917.73 L662.22,911.55 L662.55,905.59 L662.89,899.87 L663.23,894.37 L663.56,889.10 L663.90,884.05 L664.23,879.22 L664.57,874.60 L664.91,870.19 L665.24,866.00 L665.58,862.00 L665.91,858.20 L666.25,854.59 L666.59,851.17 L666.92,847.93 L667.26,844.87 L667.60,841.98 L667.93,839.27 L668.27,836.71 L668.60,834.32 L668.94,832.08 L669.28,829.99 L669.61,828.06 L669.95,826.27 L670.29,824.62 L670.62,823.11 L670.96,821.74 L671.29,820.50 L671.63,819.40 L671.97,818.42 L672.30,817.58 L672.64,816.86 L672.98,816.26 L673.31,815.80 L673.65,815.45 L673.98,815.23 L674.32,815.13 L674.66,815.15 L674.99,815.30 L675.33,815.57 L675.66,815.96 L676.00,816.48 L676.34,817.12 L676.67,817.89 L677.01,818.78 L677.35,819.81 L677.68,820.96 L678.02,822.25 L678.35,823.68 L678.69,825.24 L679.03,826.94 L679.36,828.79 L679.70,830.78 L680.04,832.92 L680.37,835.22 L680.71,837.68 L681.04,840.29 L681.38,843.08 L681.72,846.03 L682.05,849.16 L682.39,852.47 L682.73,855.96 L683.06,859.64 L683.40,863.51 L683.73,867.59 L684.07,871.87 L684.41,876.35 L684.74,881.05 L685.08,885.97 L685.41,891.10 L685.75,896.46 L686.09,902.05 L686.42,907.86 L686.76,913.90 L687.10,920.17 L687.43,926.67 L687.77,933.39 L688.10,940.34 L688.44,947.49 L688.78,954.85 L689.11,962.40 L689.45,970.12 L689.79,978.01 L690.12,986.03 L690.46,994.16 L690.79,1002.38 L691.13,1010.65 L691.47,1018.94 L691.80,1027.19 L692.14,1035.37 L692.47,1043.43 L692.81,1051.31 L693.15,1058.96 L693.48,1066.32 L693.82,1073.31 L694.16,1079.89 L694.49,1085.98 L694.83,1091.53 L695.16,1096.47 L695.50,1100.75 L695.84,1104.32 L696.17,1107.13 L696.51,1109.14 L696.85,1110.33 L697.18,1110.68 L697.52,1110.17 L697.85,1108.81 L698.19,1106.60 L698.53,1103.58 L698.86,1099.76 L699.20,1095.19 L699.54,1089.92 L699.87,1083.99 L700.21,1077.46 L700.54,1070.39 L700.88,1062.84 L701.22,1054.88 L701.55,1046.57 L701.89,1037.96 L702.22,1029.13 L702.56,1020.12 L702.90,1010.99 L703.23,1001.79 L703.57,992.56 L703.91,983.34 L704.24,974.17 L704.58,965.08 L704.91,956.09 L705.25,947.24 L705.59,938.53 L705.92,930.00 L706.26,921.64 L706.60,913.47 L706.93,905.51 L707.27,897.75 L707.60,890.20 L707.94,882.86 L708.28,875.74 L708.61,868.82 L708.95,862.12 L709.28,855.62 L709.62,849.32 L709.96,843.23 L710.29,837.33 L710.63,831.62 L710.97,826.09 L711.30,820.74 L711.64,815.56 L711.97,810.55 L712.31,805.70 L712.65,801.01 L712.98,796.46 L713.32,792.06 L713.66,787.79 L713.99,783.66 L714.33,779.65 L714.66,775.77 L715.00,772.00 L715.34,768.34 L715.67,764.78 L716.01,761.33 L716.35,757.97 L716.68,754.70 L717.02,751.52 L717.35,748.42 L717.69,745.40 L718.03,742.46 L718.36,739.58 L718.70,736.78 L719.03,734.03 L719.37,731.35 L719.71,728.73 L720.04,726.16 L720.38,723.63 L720.72,721.16 L721.05,718.73 L721.39,716.35 L721.72,714.00 L722.06,711.69 L722.40,709.41 L722.73,707.17 L723.07,704.95 L723.41,702.76 L723.74,700.59 L724.08,698.45 L724.41,696.33 L724.75,694.22 L725.09,692.13 L725.42,690.05 L725.76,687.99 L726.09,685.93 L726.43,683.88 L726.77,681.83 L727.10,679.79 L727.44,677.75 L727.78,675.71 L728.11,673.66 L728.45,671.61 L728.78,669.55 L729.12,667.48 L729.46,665.40 L729.79,663.30 L730.13,661.19 L730.47,659.07 L730.80,656.92 L731.14,654.75 L731.47,652.55 L731.81,650.33 L732.15,648.08 L732.48,645.79 L732.82,643.47 L733.15,641.12 L733.49,638.72 L733.83,636.28 L734.16,633.80 L734.50,631.27 L734.84,628.69 L735.17,626.05 L735.51,623.35 L735.84,620.59 L736.18,617.77 L736.52,614.88 L736.85,611.92 L737.19,608.89 L737.53,605.77 L737.86,602.57 L738.20,599.28 L738.53,595.90 L738.87,592.43 L739.21,588.85 L739.54,585.16 L739.88,581.36 L740.22,577.45 L740.55,573.42 L740.89,569.25 L741.22,564.96 L741.56,560.52 L741.90,555.94 L742.23,551.22 L742.57,546.33 L742.90,541.28 L743.24,536.07 L743.58,530.68 L743.91,525.11 L744.25,519.36 L744.59,513.41 L744.92,507.27 L745.26,500.93 L745.59,494.39 L745.93,487.63 L746.27,480.67 L746.60,473.50 L746.94,466.11 L747.28,458.51 L747.61,450.71 L747.95,442.70 L748.28,434.49 L748.62,426.09 L748.96,417.52 L749.29,408.78 L749.63,399.89 L749.96,390.88 L750.30,381.77 L750.64,372.58 L750.97,363.35 L751.31,354.13 L751.65,344.94 L751.98,335.83 L752.32,326.86 L752.65,318.07 L752.99,309.53 L753.33,301.29 L753.66,293.42 L754.00,285.97 L754.34,279.02 L754.67,272.62 L755.01,266.83 L755.34,261.71 L755.68,257.31 L756.02,253.67 L756.35,250.83 L756.69,248.81 L757.03,247.64 L757.36,247.33 L757.70,247.86 L758.03,249.24 L758.37,251.44 L758.71,254.42 L759.04,258.15 L759.38,262.59 L759.71,267.67 L760.05,273.35 L760.39,279.56 L760.72,286.23 L761.06,293.32 L761.40,300.74 L761.73,308.45 L762.07,316.37 L762.40,324.47 L762.74,332.67 L763.08,340.93 L763.41,349.22 L763.75,357.48 L764.09,365.68 L764.42,373.79 L764.76,381.79 L765.09,389.64 L765.43,397.32 L765.77,404.83 L766.10,412.14 L766.44,419.25 L766.77,426.14 L767.11,432.82 L767.45,439.26 L767.78,445.48 L768.12,451.47 L768.46,457.24 L768.79,462.77 L769.13,468.08 L769.46,473.16 L769.80,478.03 L770.14,482.68 L770.47,487.12 L770.81,491.35 L771.15,495.38 L771.48,499.21 L771.82,502.85 L772.15,506.30 L772.49,509.56 L772.83,512.65 L773.16,515.57 L773.50,518.31 L773.84,520.89 L774.17,523.31 L774.51,525.57 L774.84,527.68 L775.18,529.64 L775.52,531.46 L775.85,533.13 L776.19,534.66 L776.52,536.05 L776.86,537.31 L777.20,538.44 L777.53,539.43 L777.87,540.30 L778.21,541.04 L778.54,541.65 L778.88,542.14 L779.21,542.50 L779.55,542.74 L779.89,542.86 L780.22,542.86 L780.56,542.73 L780.90,542.48 L781.23,542.11 L781.57,541.61 L781.90,540.99 L782.24,540.24 L782.58,539.37 L782.91,538.36 L783.25,537.23 L783.59,535.96 L783.92,534.56 L784.26,533.02 L784.59,531.34 L784.93,529.52 L785.27,527.55 L785.60,525.43 L785.94,523.16 L786.27,520.73 L786.61,518.14 L786.95,515.38 L787.28,512.45 L787.62,509.35 L787.96,506.07 L788.29,502.61 L788.63,498.96 L788.96,495.12 L789.30,491.07 L789.64,486.83 L789.97,482.38 L790.31,477.71 L790.65,472.83 L790.98,467.73 L791.32,462.41 L791.65,456.86 L791.99,451.08 L792.33,445.08 L792.66,438.84 L793.00,432.38 L793.33,425.69 L793.67,418.78 L794.01,411.66 L794.34,404.34 L794.68,396.82 L795.02,389.12 L795.35,381.26 L795.69,373.26 L796.02,365.14 L796.36,356.93 L796.70,348.67 L797.03,340.38 L797.37,332.12 L797.71,323.92 L798.04,315.84 L798.38,307.93 L798.71,300.24 L799.05,292.83 L799.39,285.78 L799.72,279.13 L800.06,272.95 L800.39,267.32 L800.73,262.27 L801.07,257.88 L801.40,254.20 L801.74,251.27 L802.08,249.12 L802.41,247.80 L802.75,247.32 L803.08,247.69 L803.42,248.92 L803.76,250.99 L804.09,253.89 L804.43,257.58 L804.77,262.03 L805.10,267.20 L805.44,273.03 L805.77,279.47 L806.11,286.46 L806.45,293.93 L806.78,301.83 L807.12,310.09 L807.46,318.65 L807.79,327.45 L808.13,336.43 L808.46,345.55 L808.80,354.74 L809.14,363.97 L809.47,373.19 L809.81,382.37 L810.14,391.48 L810.48,400.49 L810.82,409.36 L811.15,418.09 L811.49,426.66 L811.83,435.04 L812.16,443.24 L812.50,451.23 L812.83,459.03 L813.17,466.61 L813.51,473.98 L813.84,481.14 L814.18,488.09 L814.52,494.83 L814.85,501.36 L815.19,507.69 L815.52,513.81 L815.86,519.75 L816.20,525.49 L816.53,531.04 L816.87,536.42 L817.21,541.62 L817.54,546.66 L817.88,551.54 L818.21,556.25 L818.55,560.82 L818.89,565.25 L819.22,569.53 L819.56,573.69 L819.89,577.72 L820.23,581.62 L820.57,585.41 L820.90,589.09 L821.24,592.66 L821.58,596.13 L821.91,599.50 L822.25,602.79 L822.58,605.98 L822.92,609.09 L823.26,612.12 L823.59,615.08 L823.93,617.96 L824.27,620.78 L824.60,623.53 L824.94,626.22 L825.27,628.86 L825.61,631.44 L825.95,633.97 L826.28,636.45 L826.62,638.88 L826.95,641.28 L827.29,643.63 L827.63,645.95 L827.96,648.23 L828.30,650.48 L828.64,652.70 L828.97,654.89 L829.31,657.06 L829.64,659.21 L829.98,661.34 L830.32,663.44 L830.65,665.54 L830.99,667.62 L831.33,669.68 L831.66,671.74 L832.00,673.80 L832.33,675.84 L832.67,677.88 L833.01,679.93 L833.34,681.97 L833.68,684.02 L834.01,686.07 L834.35,688.12 L834.69,690.19 L835.02,692.27 L835.36,694.36 L835.70,696.47 L836.03,698.59 L836.37,700.74 L836.70,702.91 L837.04,705.10 L837.38,707.31 L837.71,709.56 L838.05,711.84 L838.39,714.15 L838.72,716.50 L839.06,718.89 L839.39,721.32 L839.73,723.80 L840.07,726.32 L840.40,728.90 L840.74,731.53 L841.08,734.22 L841.41,736.96 L841.75,739.77 L842.08,742.65 L842.42,745.60 L842.76,748.62 L843.09,751.73 L843.43,754.91 L843.76,758.19 L844.10,761.55 L844.44,765.01 L844.77,768.58 L845.11,772.24 L845.45,776.02 L845.78,779.92 L846.12,783.93 L846.45,788.07 L846.79,792.35 L847.13,796.76 L847.46,801.32 L847.80,806.02 L848.14,810.88 L848.47,815.90 L848.81,821.09 L849.14,826.45 L849.48,831.99 L849.82,837.71 L850.15,843.63 L850.49,849.74 L850.83,856.05 L851.16,862.56 L851.50,869.28 L851.83,876.21 L852.17,883.35 L852.51,890.70 L852.84,898.26 L853.18,906.03 L853.51,914.01 L853.85,922.19 L854.19,930.56 L854.52,939.11 L854.86,947.82 L855.20,956.69 L855.53,965.68 L855.87,974.78 L856.20,983.95 L856.54,993.18 L856.88,1002.41 L857.21,1011.61 L857.55,1020.73 L857.89,1029.73 L858.22,1038.54 L858.56,1047.13 L858.89,1055.42 L859.23,1063.35 L859.57,1070.87 L859.90,1077.91 L860.24,1084.40 L860.57,1090.29 L860.91,1095.52 L861.25,1100.04 L861.58,1103.81 L861.92,1106.78 L862.26,1108.92 L862.59,1110.23 L862.93,1110.68 L863.26,1110.28 L863.60,1109.03 L863.94,1106.97 L864.27,1104.10 L864.61,1100.49 L864.95,1096.16 L865.28,1091.18 L865.62,1085.59 L865.95,1079.46 L866.29,1072.86 L866.63,1065.84 L866.96,1058.46 L867.30,1050.80 L867.63,1042.90 L867.97,1034.83 L868.31,1026.64 L868.64,1018.38 L868.98,1010.10 L869.32,1001.83 L869.65,993.62 L869.99,985.49 L870.32,977.48 L870.66,969.60 L871.00,961.89 L871.33,954.35 L871.67,947.01 L872.01,939.87 L872.34,932.94 L872.68,926.23 L873.01,919.75 L873.35,913.49 L873.69,907.47 L874.02,901.67 L874.36,896.10 L874.70,890.75 L875.03,885.63 L875.37,880.73 L875.70,876.05 L876.04,871.57 L876.38,867.31 L876.71,863.25 L877.05,859.39 L877.38,855.72 L877.72,852.24 L878.06,848.94 L878.39,845.83 L878.73,842.88 L879.07,840.11 L879.40,837.51 L879.74,835.06 L880.07,832.78 L880.41,830.64 L880.75,828.66 L881.08,826.82 L881.42,825.13 L881.76,823.58 L882.09,822.16 L882.43,820.88 L882.76,819.73 L883.10,818.72 L883.44,817.83 L883.77,817.07 L884.11,816.44 L884.45,815.93 L884.78,815.55 L885.12,815.29 L885.45,815.15 L885.79,815.13 L886.13,815.24 L886.46,815.47 L886.80,815.82 L887.13,816.30 L887.47,816.90 L887.81,817.63 L888.14,818.48 L888.48,819.47 L888.82,820.58 L889.15,821.83 L889.49,823.21 L889.82,824.72 L890.16,826.38 L890.50,828.18 L890.83,830.13 L891.17,832.22 L891.51,834.47 L891.84,836.88 L892.18,839.44 L892.51,842.17 L892.85,845.07 L893.19,848.14 L893.52,851.39 L893.86,854.82 L894.19,858.45 L894.53,862.26 L894.87,866.27 L895.20,870.48 L895.54,874.90 L895.88,879.53 L896.21,884.38 L896.55,889.44 L896.88,894.73 L897.22,900.24 L897.56,905.98 L897.89,911.95 L898.23,918.15 L898.57,924.58 L898.90,931.23 L899.24,938.10 L899.57,945.19 L899.91,952.48 L900.25,959.97 L900.58,967.64 L900.92,975.48 L901.25,983.46 L901.59,991.56 L901.93,999.76 L902.26,1008.01 L902.60,1016.30 L902.94,1024.57 L903.27,1032.78 L903.61,1040.88 L903.94,1048.83 L904.28,1056.56 L904.62,1064.01 L904.95,1071.13 L905.29,1077.84 L905.63,1084.10 L905.96,1089.82 L906.30,1094.97 L906.63,1099.46 L906.97,1103.26 L907.31,1106.32 L907.64,1108.59 L907.98,1110.04 L908.32,1110.66 L908.65,1110.42 L908.99,1109.33 L909.32,1107.40 L909.66,1104.63 L910.00,1101.06 L910.33,1096.73 L910.67,1091.67 L911.00,1085.94 L911.34,1079.60 L911.68,1072.69 L912.01,1065.29 L912.35,1057.45 L912.69,1049.25 L913.02,1040.73 L913.36,1031.97 L913.69,1023.01 L914.03,1013.91 L914.37,1004.73 L914.70,995.50 L915.04,986.27 L915.38,977.08 L915.71,967.96 L916.05,958.94 L916.38,950.04 L916.72,941.29 L917.06,932.70 L917.39,924.28 L917.73,916.05 L918.07,908.03 L918.40,900.20 L918.74,892.58 L919.07,885.18 L919.41,877.98 L919.75,871.00 L920.08,864.23 L920.42,857.67 L920.75,851.31 L921.09,845.15 L921.43,839.19 L921.76,833.42 L922.10,827.83 L922.44,822.42 L922.77,817.19 L923.11,812.13 L923.44,807.23 L923.78,802.49 L924.12,797.89 L924.45,793.45 L924.79,789.14 L925.13,784.96 L925.46,780.92 L925.80,776.99 L926.13,773.19 L926.47,769.49 L926.81,765.90 L927.14,762.42 L927.48,759.03 L927.81,755.73 L928.15,752.52 L928.49,749.40 L928.82,746.35 L929.16,743.39 L929.50,740.49 L929.83,737.66 L930.17,734.90 L930.50,732.20 L930.84,729.56 L931.18,726.97 L931.51,724.43 L931.85,721.94 L932.19,719.50 L932.52,717.10 L932.86,714.74 L933.19,712.42 L933.53,710.13 L933.87,707.88 L934.20,705.65 L934.54,703.45 L934.88,701.28 L935.21,699.13 L935.55,697.00 L935.88,694.89 L936.22,692.80 L936.56,690.71 L936.89,688.64 L937.23,686.58 L937.56,684.53 L937.90,682.48 L938.24,680.44 L938.57,678.40 L938.91,676.36 L939.25,674.31 L939.58,672.26 L939.92,670.20 L940.25,668.14 L940.59,666.06 L940.93,663.97 L941.26,661.87 L941.60,659.75 L941.94,657.60 L942.27,655.44 L942.61,653.25 L942.94,651.04 L943.28,648.80 L943.62,646.52 L943.95,644.22 L944.29,641.87 L944.62,639.49 L944.96,637.07 L945.30,634.60 L945.63,632.08 L945.97,629.51 L946.31,626.89 L946.64,624.22 L946.98,621.48 L947.31,618.68 L947.65,615.81 L947.99,612.87 L948.32,609.86 L948.66,606.77 L949.00,603.60 L949.33,600.34 L949.67,596.99 L950.00,593.54 L950.34,590.00 L950.68,586.35 L951.01,582.59 L951.35,578.71 L951.68,574.72 L952.02,570.59 L952.36,566.34 L952.69,561.95 L953.03,557.42 L953.37,552.74 L953.70,547.90 L954.04,542.91 L954.37,537.75 L954.71,532.41 L955.05,526.90 L955.38,521.21 L955.72,515.33 L956.06,509.25 L956.39,502.97 L956.73,496.49 L957.06,489.81 L957.40,482.91 L957.74,475.81 L958.07,468.49 L958.41,460.96 L958.75,453.22 L959.08,445.27 L959.42,437.13 L959.75,428.79 L960.09,420.27 L960.43,411.58 L960.76,402.74 L961.10,393.76 L961.43,384.68 L961.77,375.51 L962.11,366.29 L962.44,357.06 L962.78,347.86 L963.12,338.72 L963.45,329.70 L963.79,320.85 L964.12,312.22 L964.46,303.88 L964.80,295.88 L965.13,288.29 L965.47,281.18 L965.81,274.59 L966.14,268.60 L966.48,263.27 L966.81,258.63 L967.15,254.74 L967.49,251.64 L967.82,249.36 L968.16,247.92 L968.50,247.34 L968.83,247.60 L969.17,248.71 L969.50,250.65 L969.84,253.39 L970.18,256.89 L970.51,261.10 L970.85,265.99 L971.18,271.48 L971.52,277.53 L971.86,284.06 L972.19,291.02 L972.53,298.34 L972.87,305.97 L973.20,313.83 L973.54,321.87 L973.87,330.05 L974.21,338.30 L974.55,346.58 L974.88,354.85 L975.22,363.08 L975.56,371.22 L975.89,379.26 L976.23,387.15 L976.56,394.89 L976.90,402.46 L977.24,409.84 L977.57,417.01 L977.91,423.97 L978.24,430.71 L978.58,437.23 L978.92,443.53 L979.25,449.59 L979.59,455.43 L979.93,461.03 L980.26,466.41 L980.60,471.57 L980.93,476.50 L981.27,481.22 L981.61,485.73 L981.94,490.02 L982.28,494.12 L982.62,498.01 L982.95,501.71 L983.29,505.22 L983.62,508.54 L983.96,511.69 L984.30,514.66 L984.63,517.46 L984.97,520.09 L985.30,522.56 L985.64,524.87 L985.98,527.03 L986.31,529.04 L986.65,530.90 L986.99,532.61 L987.32,534.19 L987.66,535.62 L987.99,536.92 L988.33,538.09 L988.67,539.13 L989.00,540.03 L989.34,540.81 L989.68,541.47 L990.01,542.00 L990.35,542.40 L990.68,542.68 L991.02,542.84 L991.36,542.87 L991.69,542.78 L992.03,542.57 L992.37,542.24 L992.70,541.78 L993.04,541.20 L993.37,540.50 L993.71,539.66 L994.05,538.70 L994.38,537.61 L994.72,536.38 L995.05,535.02 L995.39,533.53 L995.73,531.89 L996.06,530.11 L996.40,528.19 L996.74,526.12 L997.07,523.90 L997.41,521.52 L997.74,518.98 L998.08,516.28 L998.42,513.40 L998.75,510.36 L999.09,507.14 L999.43,503.73 L999.76,500.14 L1000.10,496.36 L1000.43,492.38 L1000.77,488.20 L1001.11,483.82 L1001.44,479.22 L1001.78,474.41 L1002.12,469.38 L1002.45,464.13 L1002.79,458.65 L1003.12,452.95 L1003.46,447.01 L1003.80,440.85 L1004.13,434.46 L1004.47,427.85 L1004.80,421.01 L1005.14,413.95 L1005.48,406.69 L1005.81,399.23 L1006.15,391.59 L1006.49,383.78 L1006.82,375.82 L1007.16,367.74 L1007.49,359.55 L1007.83,351.30 L1008.17,343.02 L1008.50,334.75 L1008.84,326.52 L1009.18,318.40 L1009.51,310.43 L1009.85,302.66 L1010.18,295.16 L1010.52,287.98 L1010.86,281.20 L1011.19,274.87 L1011.53,269.05 L1011.86,263.81 L1012.20,259.21 L1012.54,255.29 L1012.87,252.12 L1013.21,249.72 L1013.55,248.13 L1013.88,247.38 L1014.22,247.48 L1014.55,248.44 L1014.89,250.24 L1015.23,252.87 L1015.56,256.32 L1015.90,260.53 L1016.24,265.48 L1016.57,271.10 L1016.91,277.35 L1017.24,284.17 L1017.58,291.50 L1017.92,299.27 L1018.25,307.42 L1018.59,315.89 L1018.92,324.62 L1019.26,333.55 L1019.60,342.63 L1019.93,351.81 L1020.27,361.03 L1020.61,370.26 L1020.94,379.46 L1021.28,388.59 L1021.61,397.63 L1021.95,406.55 L1022.29,415.33 L1022.62,423.95 L1022.96,432.39 L1023.30,440.65 L1023.63,448.71 L1023.97,456.57 L1024.30,464.22 L1024.64,471.66 L1024.98,478.88 L1025.31,485.90 L1025.65,492.70 L1025.99,499.30 L1026.32,505.69 L1026.66,511.88 L1026.99,517.88 L1027.33,523.68 L1027.67,529.29 L1028.00,534.73 L1028.34,539.99 L1028.67,545.07 L1029.01,550.00 L1029.35,554.77 L1029.68,559.38 L1030.02,563.85 L1030.36,568.18 L1030.69,572.38 L1031.03,576.45 L1031.36,580.39 L1031.70,584.22 L1032.04,587.93 L1032.37,591.53 L1032.71,595.04 L1033.05,598.44 L1033.38,601.75 L1033.72,604.97 L1034.05,608.11 L1034.39,611.17 L1034.73,614.15 L1035.06,617.05 L1035.40,619.89 L1035.74,622.66 L1036.07,625.37 L1036.41,628.03 L1036.74,630.62 L1037.08,633.17 L1037.42,635.66 L1037.75,638.11 L1038.09,640.52 L1038.42,642.88 L1038.76,645.21 L1039.10,647.50 L1039.43,649.76 L1039.77,651.99 L1040.11,654.20 L1040.44,656.37 L1040.78,658.53 L1041.11,660.66 L1041.45,662.77 L1041.79,664.87 L1042.12,666.96 L1042.46,669.03 L1042.80,671.09 L1043.13,673.14 L1043.47,675.19 L1043.80,677.23 L1044.14,679.28 L1044.48,681.32 L1044.81,683.36 L1045.15,685.41 L1045.48,687.47 L1045.82,689.53 L1046.16,691.61 L1046.49,693.69 L1046.83,695.80 L1047.17,697.91 L1047.50,700.05 L1047.84,702.21 L1048.17,704.40 L1048.51,706.61 L1048.85,708.84 L1049.18,711.11 L1049.52,713.41 L1049.86,715.75 L1050.19,718.13 L1050.53,720.55 L1050.86,723.01 L1051.20,725.52 L1051.54,728.07 L1051.87,730.69 L1052.21,733.35 L1052.55,736.08 L1052.88,738.87 L1053.22,741.73 L1053.55,744.65 L1053.89,747.65 L1054.23,750.73 L1054.56,753.89 L1054.90,757.13 L1055.23,760.47 L1055.57,763.90 L1055.91,767.43 L1056.24,771.06 L1056.58,774.81 L1056.92,778.66 L1057.25,782.64 L1057.59,786.74 L1057.92,790.97 L1058.26,795.34 L1058.60,799.85 L1058.93,804.51 L1059.27,809.32 L1059.61,814.28 L1059.94,819.42 L1060.28,824.72 L1060.61,830.21 L1060.95,835.87 L1061.29,841.72 L1061.62,847.77 L1061.96,854.01 L1062.29,860.46 L1062.63,867.11 L1062.97,873.98 L1063.30,881.05 L1063.64,888.33 L1063.98,895.83 L1064.31,903.54 L1064.65,911.45 L1064.98,919.56 L1065.32,927.87 L1065.66,936.37 L1065.99,945.03 L1066.33,953.85 L1066.67,962.80 L1067.00,971.87 L1067.34,981.02 L1067.67,990.24 L1068.01,999.47 L1068.35,1008.68 L1068.68,1017.83 L1069.02,1026.88 L1069.36,1035.76 L1069.69,1044.42 L1070.03,1052.81 L1070.36,1060.87 L1070.70,1068.53 L1071.04,1075.72 L1071.37,1082.40 L1071.71,1088.48 L1072.04,1093.93 L1072.38,1098.68 L1072.72,1102.69 L1073.05,1105.92 L1073.39,1108.33 L1073.73,1109.91 L1074.06,1110.63 L1074.40,1110.50 L1074.73,1109.52 L1075.07,1107.71 L1075.41,1105.10 L1075.74,1101.72 L1076.08,1097.61 L1076.42,1092.83 L1076.75,1087.43 L1077.09,1081.47 L1077.42,1075.01 L1077.76,1068.11 L1078.10,1060.84 L1078.43,1053.27 L1078.77,1045.44 L1079.10,1037.42 L1079.44,1029.26 L1079.78,1021.02 L1080.11,1012.74 L1080.45,1004.46 L1080.79,996.23 L1081.12,988.07 L1081.46,980.01 L1081.79,972.09 L1082.13,964.33 L1082.47,956.73 L1082.80,949.33 L1083.14,942.12 L1083.48,935.12 L1083.81,928.34 L1084.15,921.79 L1084.48,915.46 L1084.82,909.36 L1085.16,903.49 L1085.49,897.85 L1085.83,892.43 L1086.16,887.24 L1086.50,882.27 L1086.84,877.52 L1087.17,872.98 L1087.51,868.65 L1087.85,864.52 L1088.18,860.60 L1088.52,856.87 L1088.85,853.33 L1089.19,849.97 L1089.53,846.80 L1089.86,843.80 L1090.20,840.98 L1090.54,838.32 L1090.87,835.82 L1091.21,833.49 L1091.54,831.30 L1091.88,829.27 L1092.22,827.39 L1092.55,825.65 L1092.89,824.06 L1093.23,822.60 L1093.56,821.27 L1093.90,820.09 L1094.23,819.03 L1094.57,818.10 L1094.91,817.30 L1095.24,816.63 L1095.58,816.08 L1095.91,815.66 L1096.25,815.36 L1096.59,815.18 L1096.92,815.13 L1097.26,815.19 L1097.60,815.38 L1097.93,815.70 L1098.27,816.14 L1098.60,816.70 L1098.94,817.38 L1099.28,818.20 L1099.61,819.14 L1099.95,820.21 L1100.29,821.41 L1100.62,822.75 L1100.96,824.23 L1101.29,825.84 L1101.63,827.59 L1101.97,829.49 L1102.30,831.54 L1102.64,833.74 L1102.97,836.09 L1103.31,838.61 L1103.65,841.28 L1103.98,844.13 L1104.32,847.14 L1104.66,850.34 L1104.99,853.71 L1105.33,857.27 L1105.66,861.02 L1106.00,864.97 L1106.34,869.12 L1106.67,873.47 L1107.01,878.03 L1107.35,882.81 L1107.68,887.80 L1108.02,893.02 L1108.35,898.46 L1108.69,904.13 L1109.03,910.03 L1109.36,916.15 L1109.70,922.51 L1110.04,929.09 L1110.37,935.89 L1110.71,942.91 L1111.04,950.14 L1111.38,957.57 L1111.72,965.18 L1112.05,972.97 L1112.39,980.90 L1112.72,988.97 L1113.06,997.14 L1113.40,1005.38 L1113.73,1013.66 L1114.07,1021.94 L1114.41,1030.17 L1114.74,1038.32 L1115.08,1046.32 L1115.41,1054.12 L1115.75,1061.67 L1116.09,1068.90 L1116.42,1075.75 L1116.76,1082.16 L1117.10,1088.06 L1117.43,1093.40 L1117.77,1098.10 L1118.10,1102.13 L1118.44,1105.43 L1118.78,1107.95 L1119.11,1109.67 L1119.45,1110.55 L1119.78,1110.59 L1120.12,1109.77 L1120.46,1108.10 L1120.79,1105.60 L1121.13,1102.28 L1121.47,1098.19 L1121.80,1093.36 L1122.14,1087.84 L1122.47,1081.68 L1122.81,1074.95 L1123.15,1067.70 L1123.48,1059.99 L1123.82,1051.90 L1124.16,1043.47 L1124.49,1034.78 L1124.83,1025.88 L1125.16,1016.82 L1125.50,1007.66 L1125.84,998.44 L1126.17,989.21 L1126.51,980.00 L1126.85,970.86 L1127.18,961.80 L1127.52,952.86 L1127.85,944.06 L1128.19,935.41 L1128.53,926.94 L1128.86,918.65 L1129.20,910.56 L1129.53,902.67 L1129.87,894.99 L1130.21,887.51 L1130.54,880.25 L1130.88,873.20 L1131.22,866.36 L1131.55,859.74 L1131.89,853.31 L1132.22,847.09 L1132.56,841.06 L1132.90,835.23 L1133.23,829.59 L1133.57,824.13 L1133.91,818.84 L1134.24,813.72 L1134.58,808.77 L1134.91,803.98 L1135.25,799.34 L1135.59,794.85 L1135.92,790.50 L1136.26,786.28 L1136.60,782.19 L1136.93,778.23 L1137.27,774.39 L1137.60,770.66 L1137.94,767.03 L1138.28,763.52 L1138.61,760.10 L1138.95,756.77 L1139.28,753.53 L1139.62,750.38 L1139.96,747.32 L1140.29,744.32 L1140.63,741.41 L1140.97,738.56 L1141.30,735.77 L1141.64,733.05 L1141.97,730.39 L1142.31,727.79 L1142.65,725.23 L1142.98,722.73 L1143.32,720.27 L1143.66,717.86 L1143.99,715.49 L1144.33,713.16 L1144.66,710.86 L1145.00,708.59 L1145.34,706.36 L1145.67,704.15 L1146.01,701.97 L1146.34,699.81 L1146.68,697.68 L1147.02,695.56 L1147.35,693.46 L1147.69,691.38 L1148.03,689.30 L1148.36,687.24 L1148.70,685.18 L1149.03,683.14 L1149.37,681.09 L1149.71,679.05 L1150.04,677.01 L1150.38,674.96 L1150.72,672.91 L1151.05,670.86 L1151.39,668.80 L1151.72,666.73 L1152.06,664.64 L1152.40,662.54 L1152.73,660.42 L1153.07,658.29 L1153.40,656.13 L1153.74,653.95 L1154.08,651.75 L1154.41,649.52 L1154.75,647.25 L1155.09,644.96 L1155.42,642.62 L1155.76,640.25 L1156.09,637.84 L1156.43,635.39 L1156.77,632.89 L1157.10,630.34 L1157.44,627.73 L1157.78,625.08 L1158.11,622.36 L1158.45,619.58 L1158.78,616.73 L1159.12,613.82 L1159.46,610.83 L1159.79,607.77 L1160.13,604.62 L1160.47,601.39 L1160.80,598.07 L1161.14,594.65 L1161.47,591.14 L1161.81,587.52 L1162.15,583.80 L1162.48,579.96 L1162.82,576.00 L1163.15,571.92 L1163.49,567.71 L1163.83,563.36 L1164.16,558.88 L1164.50,554.25 L1164.84,549.46 L1165.17,544.52 L1165.51,539.41 L1165.84,534.13 L1166.18,528.68 L1166.52,523.04 L1166.85,517.22 L1167.19,511.21 L1167.53,504.99 L1167.86,498.58 L1168.20,491.96 L1168.53,485.13 L1168.87,478.09 L1169.21,470.84 L1169.54,463.38 L1169.88,455.71 L1170.22,447.82 L1170.55,439.74 L1170.89,431.46 L1171.22,423.00 L1171.56,414.36 L1171.90,405.57 L1172.23,396.63 L1172.57,387.58 L1172.90,378.44 L1173.24,369.23 L1173.58,360.00 L1173.91,350.78 L1174.25,341.62 L1174.59,332.55 L1174.92,323.64 L1175.26,314.94 L1175.59,306.50 L1175.93,298.39 L1176.27,290.66 L1176.60,283.39 L1176.94,276.63 L1177.28,270.44 L1177.61,264.89 L1177.95,260.03 L1178.28,255.90 L1178.62,252.54 L1178.96,250.00 L1179.29,248.29 L1179.63,247.43 L1179.96,247.42 L1180.30,248.27 L1180.64,249.95 L1180.97,252.43 L1181.31,255.69 L1181.65,259.69 L1181.98,264.36 L1182.32,269.67 L1182.65,275.54 L1182.99,281.93 L1183.33,288.76 L1183.66,295.98 L1184.00,303.51 L1184.34,311.30 L1184.67,319.29 L1185.01,327.43 L1185.34,335.66 L1185.68,343.94 L1186.02,352.22 L1186.35,360.47 L1186.69,368.64 L1187.03,376.71 L1187.36,384.65 L1187.70,392.45 L1188.03,400.07 L1188.37,407.51 L1188.71,414.75 L1189.04,421.78 L1189.38,428.59 L1189.71,435.18 L1190.05,441.55 L1190.39,447.68 L1190.72,453.59 L1191.06,459.27 L1191.40,464.72 L1191.73,469.95 L1192.07,474.96 L1192.40,479.74 L1192.74,484.32 L1193.08,488.68 L1193.41,492.84 L1193.75,496.79 L1194.09,500.55 L1194.42,504.12 L1194.76,507.50 L1195.09,510.71 L1195.43,513.73 L1195.77,516.58 L1196.10,519.27 L1196.44,521.79 L1196.77,524.15 L1197.11,526.36 L1197.45,528.41 L1197.78,530.32 L1198.12,532.08 L1198.46,533.70 L1198.79,535.18 L1199.13,536.52 L1199.46,537.73 L1199.80,538.81 L1200.14,539.76 L1200.47,540.58 L1200.81,541.27 L1201.15,541.84 L1201.48,542.28 L1201.82,542.60 L1202.15,542.80 L1202.49,542.87 L1202.83,542.83 L1203.16,542.65 L1203.50,542.36 L1203.84,541.94 L1204.17,541.40 L1204.51,540.73 L1204.84,539.94 L1205.18,539.02 L1205.52,537.97 L1205.85,536.79 L1206.19,535.47 L1206.52,534.02 L1206.86,532.43 L1207.20,530.70 L1207.53,528.82 L1207.87,526.80 L1208.21,524.62 L1208.54,522.29 L1208.88,519.80 L1209.21,517.15 L1209.55,514.34 L1209.89,511.35 L1210.22,508.18 L1210.56,504.84 L1210.90,501.31 L1211.23,497.59 L1211.57,493.67 L1211.90,489.56 L1212.24,485.24 L1212.58,480.71 L1212.91,475.97 L1213.25,471.01 L1213.58,465.83 L1213.92,460.42 L1214.26,454.79 L1214.59,448.93 L1214.93,442.84 L1215.27,436.52 L1215.60,429.98 L1215.94,423.21 L1216.27,416.22 L1216.61,409.03 L1216.95,401.63 L1217.28,394.04 L1217.62,386.28 L1217.96,378.37 L1218.29,370.32 L1218.63,362.17 L1218.96,353.94 L1219.30,345.66 L1219.64,337.38 L1219.97,329.13 L1220.31,320.97 L1220.64,312.95 L1220.98,305.11 L1221.32,297.51 L1221.65,290.23 L1221.99,283.31 L1222.33,276.83 L1222.66,270.84 L1223.00,265.41 L1223.33,260.60 L1223.67,256.46 L1224.01,253.05 L1224.34,250.40 L1224.68,248.55 L1225.02,247.53 L1225.35,247.36 L1225.69,248.04 L1226.02,249.57 L1226.36,251.95 L1226.70,255.13 L1227.03,259.11 L1227.37,263.82 L1227.71,269.24 L1228.04,275.30 L1228.38,281.94 L1228.71,289.12 L1229.05,296.75 L1229.39,304.79 L1229.72,313.16 L1230.06,321.82 L1230.39,330.69 L1230.73,339.73 L1231.07,348.88 L1231.40,358.09 L1231.74,367.32 L1232.08,376.53 L1232.41,385.69 L1232.75,394.76 L1233.08,403.72 L1233.42,412.55 L1233.76,421.22 L1234.09,429.72 L1234.43,438.04 L1234.77,446.16 L1235.10,454.09 L1235.44,461.80 L1235.77,469.31 L1236.11,476.61 L1236.45,483.69 L1236.78,490.56 L1237.12,497.22 L1237.45,503.68 L1237.79,509.93 L1238.13,515.99 L1238.46,521.85 L1238.80,527.52 L1239.14,533.02 L1239.47,538.33 L1239.81,543.47 L1240.14,548.45 L1240.48,553.27 L1240.82,557.93 L1241.15,562.45 L1241.49,566.82 L1241.83,571.06 L1242.16,575.16 L1242.50,579.15 L1242.83,583.01 L1243.17,586.76 L1243.51,590.40 L1243.84,593.93 L1244.18,597.37 L1244.52,600.71 L1244.85,603.96 L1245.19,607.12 L1245.52,610.20 L1245.86,613.20 L1246.20,616.13 L1246.53,618.99 L1246.87,621.79 L1247.20,624.52 L1247.54,627.19 L1247.88,629.80 L1248.21,632.36 L1248.55,634.87 L1248.89,637.34 L1249.22,639.76 L1249.56,642.14 L1249.89,644.47 L1250.23,646.78 L1250.57,649.05 L1250.90,651.29 L1251.24,653.50 L1251.58,655.68 L1251.91,657.84 L1252.25,659.98 L1252.58,662.10 L1252.92,664.21 L1253.26,666.29 L1253.59,668.37 L1253.93,670.43 L1254.26,672.49 L1254.60,674.54 L1254.94,676.58 L1255.27,678.63 L1255.61,680.67 L1255.95,682.71 L1256.28,684.76 L1256.62,686.81 L1256.95,688.87 L1257.29,690.94 L1257.63,693.03 L1257.96,695.12 L1258.30,697.24 L1258.64,699.37 L1258.97,701.52 L1259.31,703.70 L1259.64,705.90 L1259.98,708.13 L1260.32,710.39 L1260.65,712.68 L1260.99,715.00 L1261.33,717.37 L1261.66,719.77 L1262.00,722.22 L1262.33,724.71 L1262.67,727.25 L1263.01,729.85 L1263.34,732.50 L1263.68,735.20 L1264.01,737.97 L1264.35,740.81 L1264.69,743.71 L1265.02,746.69 L1265.36,749.74 L1265.70,752.87 L1266.03,756.09 L1266.37,759.40 L1266.70,762.80 L1267.04,766.30 L1267.38,769.90 L1267.71,773.60 L1268.05,777.42 L1268.39,781.36 L1268.72,785.42 L1269.06,789.61 L1269.39,793.93 L1269.73,798.40 L1270.07,803.01 L1270.40,807.77 L1270.74,812.68 L1271.08,817.76 L1271.41,823.02 L1271.75,828.44 L1272.08,834.05 L1272.42,839.84 L1272.76,845.82 L1273.09,852.00 L1273.43,858.39 L1273.76,864.97 L1274.10,871.77 L1274.44,878.77 L1274.77,885.99 L1275.11,893.42 L1275.45,901.06 L1275.78,908.91 L1276.12,916.96 L1276.45,925.21 L1276.79,933.64 L1277.13,942.25 L1277.46,951.02 L1277.80,959.94 L1278.14,968.97 L1278.47,978.10 L1278.81,987.30 L1279.14,996.53 L1279.48,1005.75 L1279.82,1014.93 L1280.15,1024.01 L1280.49,1032.95 L1280.82,1041.69 L1281.16,1050.18 L1281.50,1058.34 L1281.83,1066.13 L1282.17,1073.48 L1282.51,1080.33 L1282.84,1086.61 L1283.18,1092.27 L1283.51,1097.25 L1283.85,1101.50 L1284.19,1104.98 L1284.52,1107.65 L1284.86,1109.50 L1285.20,1110.49 L1285.53,1110.63 L1285.87,1109.92 L1286.20,1108.38 L1286.54,1106.02 L1286.88,1102.88 L1287.21,1099.00 L1287.55,1094.43 L1287.88,1089.22 L1288.22,1083.43 L1288.56,1077.12 L1288.89,1070.35 L1289.23,1063.20 L1289.57,1055.71 L1289.90,1047.95 L1290.24,1039.99 L1290.57,1031.87 L1290.91,1023.65 L1291.25,1015.38 L1291.58,1007.10 L1291.92,998.84 L1292.26,990.66 L1292.59,982.57 L1292.93,974.60 L1293.26,966.78 L1293.60,959.13 L1293.94,951.66 L1294.27,944.39 L1294.61,937.33 L1294.95,930.48 L1295.28,923.85 L1295.62,917.45 L1295.95,911.28 L1296.29,905.33 L1296.63,899.62 L1296.96,894.13 L1297.30,888.87 L1297.63,883.83 L1297.97,879.01 L1298.31,874.40 L1298.64,870.00 L1298.98,865.81 L1299.32,861.83 L1299.65,858.03 L1299.99,854.43 L1300.32,851.02 L1300.66,847.79 L1301.00,844.74 L1301.33,841.86 L1301.67,839.15 L1302.01,836.60 L1302.34,834.21 L1302.68,831.98 L1303.01,829.90 L1303.35,827.98 L1303.69,826.19 L1304.02,824.55 L1304.36,823.05 L1304.70,821.68 L1305.03,820.45 L1305.37,819.35 L1305.70,818.38 L1306.04,817.54 L1306.38,816.83 L1306.71,816.24 L1307.05,815.78 L1307.38,815.44 L1307.72,815.22 L1308.06,815.13 L1308.39,815.16 L1308.73,815.31 L1309.07,815.58 L1309.40,815.98 L1309.74,816.50 L1310.07,817.15 L1310.41,817.92 L1310.75,818.83 L1311.08,819.86 L1311.42,821.02 L1311.76,822.31 L1312.09,823.74 L1312.43,825.31 L1312.76,827.02 L1313.10,828.87 L1313.44,830.87 L1313.77,833.02 L1314.11,835.33 L1314.44,837.79 L1314.78,840.41 L1315.12,843.20 L1315.45,846.16 L1315.79,849.30 L1316.13,852.62 L1316.46,856.12 L1316.80,859.81 L1317.13,863.69 L1317.47,867.77 L1317.81,872.06 L1318.14,876.56 L1318.48,881.26 L1318.82,886.19 L1319.15,891.33 L1319.49,896.70 L1319.82,902.30 L1320.16,908.12 L1320.50,914.18 L1320.83,920.46 L1321.17,926.97 L1321.51,933.70 L1321.84,940.65 L1322.18,947.81 L1322.51,955.18 L1322.85,962.74 L1323.19,970.47 L1323.52,978.36 L1323.86,986.39 L1324.19,994.53 L1324.53,1002.75 L1324.87,1011.02 L1325.20,1019.30 L1325.54,1027.56 L1325.88,1035.74 L1326.21,1043.79 L1326.55,1051.66 L1326.88,1059.30 L1327.22,1066.63 L1327.56,1073.61 L1327.89,1080.17 L1328.23,1086.24 L1328.57,1091.76 L1328.90,1096.68 L1329.24,1100.93 L1329.57,1104.46 L1329.91,1107.23 L1330.25,1109.21 L1330.58,1110.36 L1330.92,1110.67 L1331.25,1110.13 L1331.59,1108.73 L1331.93,1106.49 L1332.26,1103.43 L1332.60,1099.58 L1332.94,1094.97 L1333.27,1089.67 L1333.61,1083.71 L1333.94,1077.15 L1334.28,1070.06 L1334.62,1062.49 L1334.95,1054.52 L1335.29,1046.19 L1335.63,1037.58 L1335.96,1028.73 L1336.30,1019.72 L1336.63,1010.59 L1336.97,1001.38 L1337.31,992.15 L1337.64,982.93 L1337.98,973.76 L1338.32,964.68 L1338.65,955.69 L1338.99,946.85 L1339.32,938.15 L1339.66,929.62 L1340.00,921.27 L1340.33,913.12 L1340.67,905.16 L1341.00,897.41 L1341.34,889.87 L1341.68,882.54 L1342.01,875.43 L1342.35,868.52 L1342.69,861.82 L1343.02,855.34 L1343.36,849.05 L1343.69,842.96 L1344.03,837.07 L1344.37,831.37 L1344.70,825.85 L1345.04,820.51 L1345.38,815.34 L1345.71,810.33 L1346.05,805.49 L1346.38,800.80 L1346.72,796.26 L1347.06,791.87 L1347.39,787.61 L1347.73,783.48 L1348.06,779.48 L1348.40,775.60 L1348.74,771.83 L1349.07,768.18 L1349.41,764.62 L1349.75,761.17 L1350.08,757.82 L1350.42,754.56 L1350.75,751.38 L1351.09,748.28 L1351.43,745.27 L1351.76,742.33 L1352.10,739.46 L1352.44,736.65 L1352.77,733.91 L1353.11,731.23 L1353.44,728.61 L1353.78,726.04 L1354.12,723.52 L1354.45,721.05 L1354.79,718.63 L1355.12,716.24 L1355.46,713.90 L1355.80,711.59 L1356.13,709.31 L1356.47,707.07 L1356.81,704.85 L1357.14,702.66 L1357.48,700.50 L1357.81,698.36 L1358.15,696.23 L1358.49,694.13 L1358.82,692.04 L1359.16,689.96 L1359.50,687.90 L1359.83,685.84 L1360.17,683.79 L1360.50,681.74 L1360.84,679.70 L1361.18,677.66 L1361.51,675.61 L1361.85,673.57 L1362.19,671.52 L1362.52,669.46 L1362.86,667.39 L1363.19,665.31 L1363.53,663.21 L1363.87,661.10 L1364.20,658.97 L1364.54,656.82 L1364.87,654.65 L1365.21,652.45 L1365.55,650.23 L1365.88,647.98 L1366.22,645.69 L1366.56,643.37 L1366.89,641.01 L1367.23,638.62 L1367.56,636.17 L1367.90,633.69 L1368.24,631.15 L1368.57,628.57 L1368.91,625.93 L1369.25,623.23 L1369.58,620.47 L1369.92,617.65 L1370.25,614.75 L1370.59,611.79 L1370.93,608.75 L1371.26,605.63 L1371.60,602.43 L1371.93,599.13 L1372.27,595.75 L1372.61,592.27 L1372.94,588.69 L1373.28,585.00 L1373.62,581.19 L1373.95,577.27 L1374.29,573.23 L1374.62,569.07 L1374.96,564.76 L1375.30,560.32 L1375.63,555.74 L1375.97,551.00 L1376.31,546.11 L1376.64,541.06 L1376.98,535.83 L1377.31,530.44 L1377.65,524.86 L1377.99,519.10 L1378.32,513.14 L1378.66,506.99 L1379.00,500.64 L1379.33,494.09 L1379.67,487.33 L1380.00,480.36 L1380.34,473.17 L1380.68,465.78 L1381.01,458.17 L1381.35,450.36 L1381.68,442.34 L1382.02,434.12 L1382.36,425.71 L1382.69,417.13 L1383.03,408.38 L1383.37,399.49 L1383.70,390.48 L1384.04,381.36 L1384.37,372.17 L1384.71,362.94 L1385.05,353.72 L1385.38,344.53 L1385.72,335.43 L1386.06,326.46 L1386.39,317.69 L1386.73,309.16 L1387.06,300.93 L1387.40,293.08 L1387.74,285.65 L1388.07,278.72 L1388.41,272.35 L1388.74,266.59 L1389.08,261.50 L1389.42,257.13 L1389.75,253.52 L1390.09,250.72 L1390.43,248.74 L1390.76,247.61 L1391.10,247.33 L1391.43,247.91 L1391.77,249.32 L1392.11,251.55 L1392.44,254.57 L1392.78,258.34 L1393.12,262.80 L1393.45,267.91 L1393.79,273.61 L1394.12,279.84 L1394.46,286.54 L1394.80,293.64 L1395.13,301.08 L1395.47,308.79 L1395.81,316.73 L1396.14,324.83 L1396.48,333.03 L1396.81,341.30 L1397.15,349.59 L1397.49,357.85 L1397.82,366.05 L1398.16,374.15 L1398.49,382.14 L1398.83,389.98 L1399.17,397.66 L1399.50,405.16 L1399.84,412.46 L1400.18,419.56 L1400.51,426.44 L1400.85,433.11 L1401.18,439.54 L1401.52,445.75 L1401.86,451.73 L1402.19,457.49 L1402.53,463.01 L1402.87,468.31 L1403.20,473.38 L1403.54,478.24 L1403.87,482.88 L1404.21,487.31 L1404.55,491.53 L1404.88,495.55 L1405.22,499.38 L1405.56,503.00 L1405.89,506.45 L1406.23,509.71 L1406.56,512.79 L1406.90,515.69 L1407.24,518.43 L1407.57,521.00 L1407.91,523.42 L1408.24,525.67 L1408.58,527.77 L1408.92,529.73 L1409.25,531.53 L1409.59,533.20 L1409.93,534.72 L1410.26,536.11 L1410.60,537.36 L1410.93,538.48 L1411.27,539.47 L1411.61,540.33 L1411.94,541.07 L1412.28,541.67 L1412.62,542.16 L1412.95,542.52 L1413.29,542.75 L1413.62,542.86 L1413.96,542.85 L1414.30,542.72 L1414.63,542.47 L1414.97,542.09 L1415.30,541.59 L1415.64,540.96 L1415.98,540.21 L1416.31,539.33 L1416.65,538.32 L1416.99,537.18 L1417.32,535.90 L1417.66,534.50 L1417.99,532.95 L1418.33,531.26 L1418.67,529.43 L1419.00,527.46 L1419.34,525.33 L1419.68,523.05 L1420.01,520.61 L1420.35,518.02 L1420.68,515.25 L1421.02,512.32 L1421.36,509.21 L1421.69,505.92 L1422.03,502.45 L1422.37,498.79 L1422.70,494.94 L1423.04,490.89 L1423.37,486.64 L1423.71,482.17 L1424.05,477.50 L1424.38,472.61 L1424.72,467.50 L1425.05,462.17 L1425.39,456.61 L1425.73,450.82 L1426.06,444.80 L1426.40,438.56 L1426.74,432.09 L1427.07,425.39 L1427.41,418.47 L1427.74,411.34 L1428.08,404.01 L1428.42,396.48 L1428.75,388.77 L1429.09,380.91 L1429.43,372.90 L1429.76,364.78 L1430.10,356.57 L1430.43,348.30 L1430.77,340.02 L1431.11,331.75 L1431.44,323.56 L1431.78,315.48 L1432.11,307.58 L1432.45,299.90 L1432.79,292.51 L1433.12,285.47 L1433.46,278.84 L1433.80,272.69 L1434.13,267.08 L1434.47,262.06 L1434.80,257.70 L1435.14,254.05 L1435.48,251.16 L1435.81,249.05 L1436.15,247.76 L1436.49,247.32 L1436.82,247.73 L1437.16,248.99 L1437.49,251.10 L1437.83,254.03 L1438.17,257.76 L1438.50,262.24 L1438.84,267.44 L1439.17,273.30 L1439.51,279.77 L1439.85,286.78 L1440.18,294.27 L1440.52,302.19 L1440.86,310.46 L1441.19,319.04 L1441.53,327.84 L1441.86,336.83 L1442.20,345.95 L1442.54,355.15 L1442.87,364.38 L1443.21,373.60 L1443.55,382.78 L1443.88,391.88 L1444.22,400.88 L1444.55,409.75 L1444.89,418.48 L1445.23,427.03 L1445.56,435.41 L1445.90,443.60 L1446.24,451.59 L1446.57,459.37 L1446.91,466.94 L1447.24,474.30 L1447.58,481.46 L1447.92,488.39 L1448.25,495.12 L1448.59,501.64 L1448.92,507.96 L1449.26,514.08 L1449.60,520.00 L1449.93,525.74 L1450.27,531.29 L1450.61,536.66 L1450.94,541.85 L1451.28,546.88 L1451.61,551.75 L1451.95,556.46 L1452.29,561.02 L1452.62,565.44 L1452.96,569.72 L1453.30,573.87 L1453.63,577.89 L1453.97,581.79 L1454.30,585.58 L1454.64,589.25 L1454.98,592.82 L1455.31,596.28 L1455.65,599.65 L1455.98,602.93 L1456.32,606.12 L1456.66,609.23 L1456.99,612.26 L1457.33,615.21 L1457.67,618.09 L1458.00,620.90 L1458.34,623.65 L1458.67,626.34 L1459.01,628.97 L1459.35,631.55 L1459.68,634.08 L1460.02,636.56 L1460.36,638.99 L1460.69,641.38 L1461.03,643.73 L1461.36,646.05 L1461.70,648.33 L1462.04,650.58 L1462.37,652.80 L1462.71,654.99 L1463.05,657.16 L1463.38,659.30 L1463.72,661.43 L1464.05,663.54 L1464.39,665.63 L1464.73,667.71 L1465.06,669.78 L1465.40,671.83 L1465.73,673.89 L1466.07,675.93 L1466.41,677.98 L1466.74,680.02 L1467.08,682.06 L1467.42,684.11 L1467.75,686.16 L1468.09,688.22 L1468.42,690.28 L1468.76,692.36 L1469.10,694.45 L1469.43,696.56 L1469.77,698.69 L1470.11,700.83 L1470.44,703.00 L1470.78,705.19 L1471.11,707.41 L1471.45,709.66 L1471.79,711.94 L1472.12,714.26 L1472.46,716.61 L1472.80,719.00 L1473.13,721.43 L1473.47,723.91 L1473.80,726.44 L1474.14,729.02 L1474.48,731.65 L1474.81,734.34 L1475.15,737.09 L1475.48,739.90 L1475.82,742.78 L1476.16,745.73 L1476.49,748.76 L1476.83,751.87 L1477.17,755.06 L1477.50,758.33 L1477.84,761.70 L1478.17,765.17 L1478.51,768.74 L1478.85,772.41 L1479.18,776.19 L1479.52,780.09 L1479.86,784.11 L1480.19,788.26 L1480.53,792.54 L1480.86,796.96 L1481.20,801.52 L1481.54,806.23 L1481.87,811.10 L1482.21,816.13 L1482.54,821.32 L1482.88,826.69 L1483.22,832.24 L1483.55,837.97 L1483.89,843.90 L1484.23,850.01 L1484.56,856.33 L1484.90,862.85 L1485.23,869.58 L1485.57,876.52 L1485.91,883.67 L1486.24,891.03 L1486.58,898.60 L1486.92,906.38 L1487.25,914.37 L1487.59,922.56 L1487.92,930.93 L1488.26,939.49 L1488.60,948.21 L1488.93,957.08 L1489.27,966.08 L1489.61,975.18 L1489.94,984.36 L1490.28,993.59 L1490.61,1002.82 L1490.95,1012.01 L1491.29,1021.13 L1491.62,1030.12 L1491.96,1038.93 L1492.29,1047.50 L1492.63,1055.78 L1492.97,1063.70 L1493.30,1071.19 L1493.64,1078.21 L1493.98,1084.68 L1494.31,1090.54 L1494.65,1095.74 L1494.98,1100.23 L1495.32,1103.95 L1495.66,1106.89 L1495.99,1109.00 L1496.33,1110.27 L1496.67,1110.68 L1497.00,1110.24 L1497.34,1108.96 L1497.67,1106.85 L1498.01,1103.96 L1498.35,1100.31 L1498.68,1095.95 L1499.02,1090.94 L1499.35,1085.33 L1499.69,1079.18 L1500.03,1072.55 L1500.36,1065.52 L1500.70,1058.13 L1501.04,1050.45 L1501.37,1042.55 L1501.71,1034.47 L1502.04,1026.28 L1502.38,1018.02 L1502.72,1009.73 L1503.05,1001.47 L1503.39,993.26 L1503.73,985.13 L1504.06,977.12 L1504.40,969.26 L1504.73,961.55 L1505.07,954.02 L1505.41,946.69 L1505.74,939.56 L1506.08,932.64 L1506.41,925.94 L1506.75,919.47 L1507.09,913.22 L1507.42,907.20 L1507.76,901.41 L1508.10,895.85 L1508.43,890.52 L1508.77,885.41 L1509.10,880.52 L1509.44,875.84 L1509.78,871.38 L1510.11,867.13 L1510.45,863.07 L1510.79,859.22 L1511.12,855.56 L1511.46,852.09 L1511.79,848.80 L1512.13,845.69 L1512.47,842.76 L1512.80,839.99 L1513.14,837.40 L1513.48,834.96 L1513.81,832.68 L1514.15,830.55 L1514.48,828.57 L1514.82,826.74 L1515.16,825.06 L1515.49,823.51 L1515.83,822.10 L1516.16,820.83 L1516.50,819.69 L1516.84,818.68 L1517.17,817.80 L1517.51,817.04 L1517.85,816.41 L1518.18,815.91 L1518.52,815.53 L1518.85,815.28 L1519.19,815.15 L1519.53,815.14 L1519.86,815.25 L1520.20,815.48 L1520.54,815.84 L1520.87,816.32 L1521.21,816.93 L1521.54,817.66 L1521.88,818.52 L1522.22,819.51 L1522.55,820.63 L1522.89,821.88 L1523.22,823.27 L1523.56,824.79 L1523.90,826.46 L1524.23,828.27 L1524.57,830.22 L1524.91,832.32 L1525.24,834.57 L1525.58,836.99 L1525.91,839.56 L1526.25,842.30 L1526.59,845.20 L1526.92,848.28 L1527.26,851.54 L1527.60,854.98 L1527.93,858.61 L1528.27,862.43 L1528.60,866.45 L1528.94,870.67 L1529.28,875.10 L1529.61,879.74 L1529.95,884.60 L1530.29,889.67 L1530.62,894.97 L1530.96,900.49 L1531.29,906.24 L1531.63,912.22 L1531.97,918.43 L1532.30,924.87 L1532.64,931.53 L1532.97,938.41 L1533.31,945.51 L1533.65,952.81 L1533.98,960.31 L1534.32,967.99 L1534.66,975.83 L1534.99,983.82 L1535.33,991.92 L1535.66,1000.12 L1536.00,1008.38 L1536.34,1016.67 L1536.67,1024.93 L1537.01,1033.14 L1537.35,1041.24 L1537.68,1049.18 L1538.02,1056.89 L1538.35,1064.33 L1538.69,1071.43 L1539.03,1078.13 L1539.36,1084.36 L1539.70,1090.07 L1540.04,1095.18 L1540.37,1099.65 L1540.71,1103.41 L1541.04,1106.44 L1541.38,1108.67 L1541.72,1110.09 L1542.05,1110.67 L1542.39,1110.39 L1542.72,1109.26 L1543.06,1107.29 L1543.40,1104.49 L1543.73,1100.89 L1544.07,1096.52 L1544.41,1091.43 L1544.74,1085.67 L1545.08,1079.30 L1545.41,1072.37 L1545.75,1064.95 L1546.09,1057.10 L1546.42,1048.88 L1546.76,1040.35 L1547.10,1031.57 L1547.43,1022.61 L1547.77,1013.51 L1548.10,1004.32 L1548.44,995.09 L1548.78,985.86 L1549.11,976.68 L1549.45,967.56 L1549.78,958.54 L1550.12,949.65 L1550.46,940.90 L1550.79,932.32 L1551.13,923.91 L1551.47,915.69 L1551.80,907.67 L1552.14,899.86 L1552.47,892.25 L1552.81,884.85 L1553.15,877.67 L1553.48,870.70 L1553.82,863.93 L1554.16,857.38 L1554.49,851.03 L1554.83,844.88 L1555.16,838.93 L1555.50,833.16 L1555.84,827.59 L1556.17,822.19 L1556.51,816.96 L1556.85,811.91 L1557.18,807.02 L1557.52,802.28 L1557.85,797.69 L1558.19,793.25 L1558.53,788.95 L1558.86,784.78 L1559.20,780.74 L1559.53,776.82 L1559.87,773.02 L1560.21,769.33 L1560.54,765.74 L1560.88,762.26 L1561.22,758.88 L1561.55,755.59 L1561.89,752.38 L1562.22,749.26 L1562.56,746.22 L1562.90,743.26 L1563.23,740.36 L1563.57,737.54 L1563.91,734.78 L1564.24,732.08 L1564.58,729.44 L1564.91,726.85 L1565.25,724.32 L1565.59,721.83 L1565.92,719.39 L1566.26,717.00 L1566.59,714.64 L1566.93,712.32 L1567.27,710.03 L1567.60,707.78 L1567.94,705.55 L1568.28,703.36 L1568.61,701.19 L1568.95,699.04 L1569.28,696.91 L1569.62,694.80 L1569.96,692.70 L1570.29,690.62 L1570.63,688.55 L1570.97,686.49 L1571.30,684.44 L1571.64,682.39 L1571.97,680.35 L1572.31,678.31 L1572.65,676.27 L1572.98,674.22 L1573.32,672.17 L1573.65,670.11 L1573.99,668.05 L1574.33,665.97 L1574.66,663.88 L1575.00,661.77 L1575.34,659.65 L1575.67,657.51 L1576.01,655.34 L1576.34,653.16 L1576.68,650.94 L1577.02,648.70 L1577.35,646.42 L1577.69,644.11 L1578.03,641.77 L1578.36,639.38 L1578.70,636.96 L1579.03,634.49 L1579.37,631.97 L1579.71,629.40 L1580.04,626.78 L1580.38,624.10 L1580.72,621.36 L1581.05,618.55 L1581.39,615.68 L1581.72,612.74 L1582.06,609.73 L1582.40,606.63 L1582.73,603.46 L1583.07,600.19 L1583.40,596.84 L1583.74,593.39 L1584.08,589.84 L1584.41,586.18 L1584.75,582.42 L1585.09,578.54 L1585.42,574.53 L1585.76,570.41 L1586.09,566.15 L1586.43,561.75 L1586.77,557.21 L1587.10,552.53 L1587.44,547.69 L1587.78,542.68 L1588.11,537.51 L1588.45,532.17 L1588.78,526.65 L1589.12,520.95 L1589.46,515.06 L1589.79,508.97 L1590.13,502.69 L1590.46,496.20 L1590.80,489.51 L1591.14,482.60 L1591.47,475.49 L1591.81,468.16 L1592.15,460.62 L1592.48,452.87 L1592.82,444.91 L1593.15,436.76 L1593.49,428.41 L1593.83,419.88 L1594.16,411.19 L1594.50,402.34 L1594.84,393.36 L1595.17,384.27 L1595.51,375.10 L1595.84,365.88 L1596.18,356.65 L1596.52,347.45 L1596.85,338.31 L1597.19,329.30 L1597.53,320.46 L1597.86,311.84 L1598.20,303.52 L1598.53,295.54 L1598.87,287.97 L1599.21,280.87 L1599.54,274.32 L1599.88,268.35 L1600.21,263.04 L1600.55,258.44 L1600.89,254.59 L1601.22,251.52 L1601.56,249.28 L1601.90,247.88 L1602.23,247.33 L1602.57,247.63 L1602.90,248.78 L1603.24,250.76 L1603.58,253.53 L1603.91,257.06 L1604.25,261.31 L1604.59,266.22 L1604.92,271.74 L1605.26,277.81 L1605.59,284.36 L1605.93,291.34 L1606.27,298.68 L1606.60,306.31 L1606.94,314.18 L1607.28,322.23 L1607.61,330.41 L1607.95,338.66 L1608.28,346.95 L1608.62,355.22 L1608.96,363.44 L1609.29,371.58 L1609.63,379.61 L1609.96,387.50 L1610.30,395.23 L1610.64,402.79 L1610.97,410.16 L1611.31,417.32 L1611.65,424.28 L1611.98,431.01 L1612.32,437.52 L1612.65,443.80 L1612.99,449.85 L1613.33,455.68 L1613.66,461.28 L1614.00,466.65 L1614.34,471.79 L1614.67,476.72 L1615.01,481.43 L1615.34,485.92 L1615.68,490.21 L1616.02,494.29 L1616.35,498.18 L1616.69,501.87 L1617.02,505.37 L1617.36,508.69 L1617.70,511.82 L1618.03,514.79 L1618.37,517.58 L1618.71,520.20 L1619.04,522.66 L1619.38,524.97 L1619.71,527.12 L1620.05,529.12 L1620.39,530.97 L1620.72,532.68 L1621.06,534.25 L1621.40,535.68 L1621.73,536.98 L1622.07,538.14 L1622.40,539.17 L1622.74,540.07 L1623.08,540.85 L1623.41,541.49 L1623.75,542.02 L1624.09,542.41 L1624.42,542.69 L1624.76,542.84 L1625.09,542.87 L1625.43,542.78 L1625.77,542.56 L1626.10,542.22 L1626.44,541.76 L1626.77,541.17 L1627.11,540.46 L1627.45,539.62 L1627.78,538.65 L1628.12,537.55 L1628.46,536.32 L1628.79,534.96 L1629.13,533.46 L1629.46,531.82 L1629.80,530.03 L1630.14,528.10 L1630.47,526.02 L1630.81,523.79 L1631.15,521.41 L1631.48,518.86 L1631.82,516.15 L1632.15,513.27 L1632.49,510.22 L1632.83,506.99 L1633.16,503.58 L1633.50,499.98 L1633.83,496.19 L1634.17,492.20 L1634.51,488.01 L1634.84,483.62 L1635.18,479.01 L1635.52,474.19 L1635.85,469.15 L1636.19,463.89 L1636.52,458.40 L1636.86,452.69 L1637.20,446.74 L1637.53,440.57 L1637.87,434.17 L1638.21,427.55 L1638.54,420.70 L1638.88,413.64 L1639.21,406.36 L1639.55,398.90 L1639.89,391.25 L1640.22,383.43 L1640.56,375.46 L1640.89,367.37 L1641.23,359.19 L1641.57,350.94 L1641.90,342.65 L1642.24,334.38 L1642.58,326.16 L1642.91,318.04 L1643.25,310.08 L1643.58,302.32 L1643.92,294.83 L1644.26,287.67 L1644.59,280.91 L1644.93,274.60 L1645.27,268.80 L1645.60,263.59 L1645.94,259.02 L1646.27,255.14 L1646.61,251.99 L1646.95,249.63 L1647.28,248.08 L1647.62,247.37 L1647.96,247.51 L1648.29,248.50 L1648.63,250.34 L1648.96,253.01 L1649.30,256.49 L1649.64,260.74 L1649.97,265.71 L1650.31,271.37 L1650.64,277.64 L1650.98,284.49 L1651.32,291.84 L1651.65,299.63 L1651.99,307.79 L1652.33,316.28 L1652.66,325.02 L1653.00,333.95 L1653.33,343.04 L1653.67,352.21 L1654.01,361.44 L1654.34,370.67 L1654.68,379.86 L1655.02,388.99 L1655.35,398.03 L1655.69,406.94 L1656.02,415.72 L1656.36,424.33 L1656.70,432.76 L1657.03,441.01 L1657.37,449.06 L1657.70,456.91 L1658.04,464.55 L1658.38,471.98 L1658.71,479.20 L1659.05,486.21 L1659.39,493.00 L1659.72,499.59 L1660.06,505.97 L1660.39,512.15 L1660.73,518.14 L1661.07,523.93 L1661.40,529.54 L1661.74,534.96 L1662.08,540.22 L1662.41,545.30 L1662.75,550.22 L1663.08,554.98 L1663.42,559.59 L1663.76,564.05 L1664.09,568.37 L1664.43,572.56 L1664.77,576.62 L1665.10,580.56 L1665.44,584.38 L1665.77,588.09 L1666.11,591.69 L1666.45,595.19 L1666.78,598.59 L1667.12,601.90 L1667.45,605.11 L1667.79,608.25 L1668.13,611.30 L1668.46,614.28 L1668.80,617.18 L1669.14,620.01 L1669.47,622.78 L1669.81,625.49 L1670.14,628.14 L1670.48,630.74 L1670.82,633.28 L1671.15,635.77 L1671.49,638.22 L1671.83,640.62 L1672.16,642.99 L1672.50,645.31 L1672.83,647.61 L1673.17,649.86 L1673.51,652.09 L1673.84,654.29 L1674.18,656.47 L1674.52,658.62 L1674.85,660.75 L1675.19,662.87 L1675.52,664.97 L1675.86,667.05 L1676.20,669.12 L1676.53,671.18 L1676.87,673.23 L1677.20,675.28 L1677.54,677.32 L1677.88,679.37 L1678.21,681.41 L1678.55,683.45 L1678.89,685.50 L1679.22,687.56 L1679.56,689.62 L1679.89,691.70 L1680.23,693.79 L1680.57,695.89 L1680.90,698.01 L1681.24,700.15 L1681.58,702.31 L1681.91,704.49 L1682.25,706.70 L1682.58,708.94 L1682.92,711.21 L1683.26,713.52 L1683.59,715.86 L1683.93,718.23 L1684.26,720.65 L1684.60,723.12 L1684.94,725.63 L1685.27,728.19 L1685.61,730.80 L1685.95,733.47 L1686.28,736.20 L1686.62,739.00 L1686.95,741.85 L1687.29,744.78 L1687.63,747.79 L1687.96,750.87 L1688.30,754.03 L1688.64,757.28 L1688.97,760.62 L1689.31,764.06 L1689.64,767.59 L1689.98,771.23 L1690.32,774.98 L1690.65,778.84 L1690.99,782.82 L1691.33,786.93 L1691.66,791.16 L1692.00,795.54 L1692.33,800.05 L1692.67,804.72 L1693.01,809.53 L1693.34,814.51 L1693.68,819.65 L1694.01,824.96 L1694.35,830.45 L1694.69,836.13 L1695.02,841.99 L1695.36,848.04 L1695.70,854.30 L1696.03,860.75 L1696.37,867.41 L1696.70,874.29 L1697.04,881.37 L1697.38,888.66 L1697.71,896.17 L1698.05,903.88 L1698.39,911.81 L1698.72,919.93 L1699.06,928.25 L1699.39,936.75 L1699.73,945.42 L1700.07,954.24 L1700.40,963.20 L1700.74,972.27 L1701.07,981.43 L1701.41,990.65 L1701.75,999.88 L1702.08,1009.09 L1702.42,1018.24 L1702.76,1027.27 L1703.09,1036.15 L1703.43,1044.80 L1703.76,1053.18 L1704.10,1061.22 L1704.44,1068.86 L1704.77,1076.03 L1705.11,1082.68 L1705.45,1088.74 L1705.78,1094.16 L1706.12,1098.88 L1706.45,1102.85 L1706.79,1106.04 L1707.13,1108.42 L1707.46,1109.96 L1707.80,1110.64 L1708.13,1110.47 L1708.47,1109.46 L1708.81,1107.61 L1709.14,1104.97 L1709.48,1101.55 L1709.82,1097.42 L1710.15,1092.61 L1710.49,1087.18 L1710.82,1081.19 L1711.16,1074.71 L1711.50,1067.80 L1711.83,1060.51 L1712.17,1052.92 L1712.51,1045.09 L1712.84,1037.06 L1713.18,1028.90 L1713.51,1020.65 L1713.85,1012.37 L1714.19,1004.10 L1714.52,995.86 L1714.86,987.71 L1715.20,979.66 L1715.53,971.75 L1715.87,963.99 L1716.20,956.40 L1716.54,949.00 L1716.88,941.80 L1717.21,934.82 L1717.55,928.05 L1717.88,921.50 L1718.22,915.18 L1718.56,909.09 L1718.89,903.23 L1719.23,897.60 L1719.57,892.19 L1719.90,887.01 L1720.24,882.05 L1720.57,877.31 L1720.91,872.78 L1721.25,868.46 L1721.58,864.34 L1721.92,860.43 L1722.26,856.71 L1722.59,853.17 L1722.93,849.83 L1723.26,846.66 L1723.60,843.67 L1723.94,840.86 L1724.27,838.21 L1724.61,835.72 L1724.94,833.39 L1725.28,831.21 L1725.62,829.19 L1725.95,827.31 L1726.29,825.58 L1726.63,823.99 L1726.96,822.54 L1727.30,821.22 L1727.63,820.04 L1727.97,818.98 L1728.31,818.06 L1728.64,817.27 L1728.98,816.60 L1729.32,816.06 L1729.65,815.64 L1729.99,815.35 L1730.32,815.17 L1730.66,815.13 L1731.00,815.20 L1731.33,815.40 L1731.67,815.71 L1732.01,816.16 L1732.34,816.72 L1732.68,817.42 L1733.01,818.24 L1733.35,819.18 L1733.69,820.26 L1734.02,821.47 L1734.36,822.81 L1734.69,824.29 L1735.03,825.91 L1735.37,827.67 L1735.70,829.58 L1736.04,831.63 L1736.38,833.84 L1736.71,836.20 L1737.05,838.72 L1737.38,841.41 L1737.72,844.26 L1738.06,847.28 L1738.39,850.48 L1738.73,853.87 L1739.07,857.43 L1739.40,861.19 L1739.74,865.15 L1740.07,869.31 L1740.41,873.67 L1740.75,878.24 L1741.08,883.03 L1741.42,888.03 L1741.76,893.26 L1742.09,898.71 L1742.43,904.39 L1742.76,910.29 L1743.10,916.43 L1743.44,922.79 L1743.77,929.38 L1744.11,936.20 L1744.44,943.23 L1744.78,950.46 L1745.12,957.90 L1745.45,965.52 L1745.79,973.32 L1746.13,981.26 L1746.46,989.33 L1746.80,997.50 L1747.13,1005.75 L1747.47,1014.03 L1747.81,1022.30 L1748.14,1030.54 L1748.48,1038.67 L1748.82,1046.67 L1749.15,1054.46 L1749.49,1062.00 L1749.82,1069.21 L1750.16,1076.04 L1750.50,1082.43 L1750.83,1088.31 L1751.17,1093.62 L1751.50,1098.30 L1751.84,1102.29 L1752.18,1105.56 L1752.51,1108.05 L1752.85,1109.73 L1753.19,1110.57 L1753.52,1110.57 L1753.86,1109.72 L1754.19,1108.01 L1754.53,1105.47 L1754.87,1102.12 L1755.20,1097.99 L1755.54,1093.13 L1755.88,1087.58 L1756.21,1081.39 L1756.55,1074.64 L1756.88,1067.37 L1757.22,1059.64 L1757.56,1051.53 L1757.89,1043.09 L1758.23,1034.39 L1758.57,1025.48 L1758.90,1016.42 L1759.24,1007.25 L1759.57,998.03 L1759.91,988.80 L1760.25,979.60 L1760.58,970.45 L1760.92,961.40 L1761.25,952.47 L1761.59,943.67 L1761.93,935.03 L1762.26,926.57 L1762.60,918.29 L1762.94,910.21 L1763.27,902.32 L1763.61,894.65 L1763.94,887.19 L1764.28,879.93 L1764.62,872.90 L1764.95,866.07 L1765.29,859.45 L1765.63,853.03 L1765.96,846.82 L1766.30,840.80 L1766.63,834.98 L1766.97,829.34 L1767.31,823.89 L1767.64,818.61 L1767.98,813.50 L1768.31,808.56 L1768.65,803.77 L1768.99,799.14 L1769.32,794.65 L1769.66,790.31 L1770.00,786.10 L1770.33,782.01 L1770.67,778.06 L1771.00,774.22 L1771.34,770.49 L1771.68,766.88 L1772.01,763.36 L1772.35,759.95 L1772.69,756.62 L1773.02,753.39 L1773.36,750.25 L1773.69,747.18 L1774.03,744.19 L1774.37,741.28 L1774.70,738.43 L1775.04,735.65 L1775.38,732.93 L1775.71,730.28 L1776.05,727.67 L1776.38,725.12 L1776.72,722.62 L1777.06,720.17 L1777.39,717.76 L1777.73,715.39 L1778.06,713.05 L1778.40,710.76 L1778.74,708.49 L1779.07,706.26 L1779.41,704.05 L1779.75,701.88 L1780.08,699.72 L1780.42,697.58 L1780.75,695.47 L1781.09,693.37 L1781.43,691.28 L1781.76,689.21 L1782.10,687.15 L1782.44,685.09 L1782.77,683.04 L1783.11,681.00 L1783.44,678.96 L1783.78,676.92 L1784.12,674.87 L1784.45,672.82 L1784.79,670.77 L1785.12,668.71 L1785.46,666.63 L1785.80,664.55 L1786.13,662.45 L1786.47,660.33 L1786.81,658.19 L1787.14,656.04 L1787.48,653.86 L1787.81,651.65 L1788.15,649.42 L1788.49,647.15 L1788.82,644.85 L1789.16,642.52 L1789.50,640.15 L1789.83,637.73 L1790.17,635.28 L1790.50,632.78 L1790.84,630.22 L1791.18,627.62 L1791.51,624.96 L1791.85,622.24 L1792.18,619.45 L1792.52,616.61 L1792.86,613.69 L1793.19,610.70 L1793.53,607.63 L1793.87,604.48 L1794.20,601.24 L1794.54,597.92 L1794.87,594.50 L1795.21,590.98 L1795.55,587.36 L1795.88,583.63 L1796.22,579.79 L1796.56,575.82 L1796.89,571.74 L1797.23,567.52 L1797.56,563.17 L1797.90,558.68 L1798.24,554.04 L1798.57,549.25 L1798.91,544.29 L1799.25,539.18 L1799.58,533.89 L1799.92,528.43 L1800.25,522.79 L1800.59,516.96 L1800.93,510.93 L1801.26,504.71 L1801.60,498.29 L1801.93,491.66 L1802.27,484.82 L1802.61,477.78 L1802.94,470.51 L1803.28,463.04 L1803.62,455.36 L1803.95,447.47 L1804.29,439.38 L1804.62,431.09 L1804.96,422.62 L1805.30,413.97 L1805.63,405.17 L1805.97,396.23 L1806.31,387.18 L1806.64,378.03 L1806.98,368.82 L1807.31,359.59 L1807.65,350.37 L1807.99,341.21 L1808.32,332.16 L1808.66,323.25 L1808.99,314.56 L1809.33,306.13 L1809.67,298.04 L1810.00,290.33 L1810.34,283.08 L1810.68,276.34 L1811.01,270.18 L1811.35,264.66 L1811.68,259.83 L1812.02,255.73 L1812.36,252.41 L1812.69,249.90 L1813.03,248.23 L1813.37,247.41 L1813.70,247.44 L1814.04,248.33 L1814.37,250.04 L1814.71,252.56 L1815.05,255.85 L1815.38,259.88 L1815.72,264.59 L1816.06,269.92 L1816.39,275.82 L1816.73,282.22 L1817.06,289.07 L1817.40,296.30 L1817.74,303.85 L1818.07,311.65 L1818.41,319.65 L1818.74,327.80 L1819.08,336.03 L1819.42,344.31 L1819.75,352.59 L1820.09,360.83 L1820.43,369.00 L1820.76,377.07 L1821.10,385.00 L1821.43,392.79 L1821.77,400.41 L1822.11,407.83 L1822.44,415.06 L1822.78,422.08 L1823.12,428.89 L1823.45,435.47 L1823.79,441.82 L1824.12,447.95 L1824.46,453.85 L1824.80,459.52 L1825.13,464.96 L1825.47,470.18 L1825.81,475.17 L1826.14,479.95 L1826.48,484.51 L1826.81,488.87 L1827.15,493.02 L1827.49,496.96 L1827.82,500.71 L1828.16,504.28 L1828.49,507.65 L1828.83,510.84 L1829.17,513.86 L1829.50,516.71 L1829.84,519.38 L1830.18,521.90 L1830.51,524.25 L1830.85,526.45 L1831.18,528.50 L1831.52,530.40 L1831.86,532.16 L1832.19,533.77 L1832.53,535.24 L1832.87,536.58 L1833.20,537.78 L1833.54,538.86 L1833.87,539.80 L1834.21,540.61 L1834.55,541.30 L1834.88,541.86 L1835.22,542.30 L1835.55,542.62 L1835.89,542.81 L1836.23,542.87 L1836.56,542.82 L1836.90,542.64 L1837.24,542.34 L1837.57,541.92 L1837.91,541.37 L1838.24,540.70 L1838.58,539.90 L1838.92,538.98 L1839.25,537.92 L1839.59,536.73 L1839.93,535.41 L1840.26,533.95 L1840.60,532.35 L1840.93,530.62 L1841.27,528.73 L1841.61,526.70 L1841.94,524.52 L1842.28,522.19 L1842.62,519.69 L1842.95,517.03 L1843.29,514.21 L1843.62,511.21 L1843.96,508.04 L1844.30,504.69 L1844.63,501.15 L1844.97,497.42 L1845.30,493.49 L1845.64,489.37 L1845.98,485.04 L1846.31,480.50 L1846.65,475.75 L1846.99,470.78 L1847.32,465.59 L1847.66,460.18 L1847.99,454.53 L1848.33,448.66 L1848.67,442.56 L1849.00,436.24 L1849.34,429.68 L1849.68,422.90 L1850.01,415.91 L1850.35,408.70 L1850.68,401.30 L1851.02,393.70 L1851.36,385.94 L1851.69,378.02 L1852.03,369.96 L1852.36,361.80 L1852.70,353.57 L1853.04,345.29 L1853.37,337.01 L1853.71,328.77 L1854.05,320.61 L1854.38,312.59 L1854.72,304.76 L1855.05,297.18 L1855.39,289.91 L1855.73,283.02 L1856.06,276.55 L1856.40,270.59 L1856.74,265.19 L1857.07,260.40 L1857.41,256.30 L1857.74,252.91 L1858.08,250.30 L1858.42,248.49 L1858.75,247.50 L1859.09,247.37 L1859.42,248.09 L1859.76,249.66 L1860.10,252.07 L1860.43,255.29 L1860.77,259.30 L1861.11,264.05 L1861.44,269.49 L1861.78,275.58 L1862.11,282.25 L1862.45,289.44 L1862.79,297.10 L1863.12,305.15 L1863.46,313.54 L1863.80,322.21 L1864.13,331.09 L1864.47,340.13 L1864.80,349.28 L1865.14,358.50 L1865.48,367.73 L1865.81,376.94 L1866.15,386.10 L1866.49,395.16 L1866.82,404.12 L1867.16,412.94 L1867.49,421.60 L1867.83,430.10 L1868.17,438.40 L1868.50,446.52 L1868.84,454.43 L1869.17,462.14 L1869.51,469.64 L1869.85,476.92 L1870.18,484.00 L1870.52,490.86 L1870.86,497.51 L1871.19,503.96 L1871.53,510.21 L1871.86,516.25 L1872.20,522.11 L1872.54,527.77 L1872.87,533.26 L1873.21,538.56 L1873.55,543.70 L1873.88,548.67 L1874.22,553.48 L1874.55,558.13 L1874.89,562.64 L1875.23,567.01 L1875.56,571.24 L1875.90,575.34 L1876.23,579.32 L1876.57,583.18 L1876.91,586.92 L1877.24,590.56 L1877.58,594.09 L1877.92,597.52 L1878.25,600.85 L1878.59,604.10 L1878.92,607.26 L1879.26,610.34 L1879.60,613.34 L1879.93,616.26 L1880.27,619.12 L1880.61,621.91 L1880.94,624.64 L1881.28,627.30 L1881.61,629.92 L1881.95,632.47 L1882.29,634.98 L1882.62,637.45 L1882.96,639.86 L1883.30,642.24 L1883.63,644.58 L1883.97,646.88 L1884.30,649.15 L1884.64,651.39 L1884.98,653.60 L1885.31,655.78 L1885.65,657.94 L1885.98,660.08 L1886.32,662.20 L1886.66,664.30 L1886.99,666.39 L1887.33,668.46 L1887.67,670.52 L1888.00,672.58 L1888.34,674.63 L1888.67,676.67 L1889.01,678.72 L1889.35,680.76 L1889.68,682.80 L1890.02,684.85 L1890.36,686.90 L1890.69,688.96 L1891.03,691.04 L1891.36,693.12 L1891.70,695.22 L1892.04,697.33 L1892.37,699.46 L1892.71,701.62 L1893.05,703.79 L1893.38,706.00 L1893.72,708.23 L1894.05,710.49 L1894.39,712.78 L1894.73,715.11 L1895.06,717.47 L1895.40,719.88 L1895.73,722.33 L1896.07,724.82 L1896.41,727.37 L1896.74,729.96 L1897.08,732.62 L1897.42,735.33 L1897.75,738.10 L1898.09,740.94 L1898.42,743.84 L1898.76,746.82 L1899.10,749.88 L1899.43,753.02 L1899.77,756.24 L1900.11,759.55 L1900.44,762.95 L1900.78,766.45 L1901.11,770.06 L1901.45,773.77 L1901.79,777.59 L1902.12,781.54 L1902.46,785.60 L1902.79,789.80 L1903.13,794.13 L1903.47,798.60 L1903.80,803.21 L1904.14,807.98 L1904.48,812.91 L1904.81,817.99 L1905.15,823.25 L1905.48,828.69 L1905.82,834.30 L1906.16,840.10 L1906.49,846.09 L1906.83,852.28 L1907.17,858.67 L1907.50,865.27 L1907.84,872.07 L1908.17,879.09 L1908.51,886.31 L1908.85,893.75 L1909.18,901.40 L1909.52,909.26 L1909.86,917.32 L1910.19,925.58 L1910.53,934.02 L1910.86,942.64 L1911.20,951.42 L1911.54,960.33 L1911.87,969.37 L1912.21,978.51 L1912.54,987.71 L1912.88,996.94 L1913.22,1006.16 L1913.55,1015.33 L1913.89,1024.41 L1914.23,1033.34 L1914.56,1042.07 L1914.90,1050.55 L1915.23,1058.70 L1915.57,1066.47 L1915.91,1073.80 L1916.24,1080.62 L1916.58,1086.88 L1916.92,1092.50 L1917.25,1097.45 L1917.59,1101.67 L1917.92,1105.11 L1918.26,1107.75 L1918.60,1109.56 L1918.93,1110.52 L1919.27,1110.62 L1919.60,1109.87 L1919.94,1108.29 L1920.28,1105.89 L1920.61,1102.72 L1920.95,1098.81 L1921.29,1094.21 L1921.62,1088.97 L1921.96,1083.16 L1922.29,1076.83 L1922.63,1070.04 L1922.97,1062.87 L1923.30,1055.37 L1923.64,1047.60 L1923.98,1039.63 L1924.31,1031.51 L1924.65,1023.29 L1924.98,1015.01 L1925.32,1006.73 L1925.66,998.48 L1925.99,990.30 L1926.33,982.21 L1926.66,974.25 L1927.00,966.44 L1927.34,958.80 L1927.67,951.34 L1928.01,944.07 L1928.35,937.02 L1928.68,930.18 L1929.02,923.56 L1929.35,917.17 L1929.69,911.01 L1930.03,905.08 L1930.36,899.37 L1930.70,893.89 L1931.04,888.64 L1931.37,883.61 L1931.71,878.80 L1932.04,874.20 L1932.38,869.81 L1932.72,865.63 L1933.05,861.65 L1933.39,857.87 L1933.73,854.28 L1934.06,850.87 L1934.40,847.65 L1934.73,844.61 L1935.07,841.74 L1935.41,839.03 L1935.74,836.49 L1936.08,834.11 L1936.41,831.89 L1936.75,829.82 L1937.09,827.89 L1937.42,826.11 L1937.76,824.48 L1938.10,822.98 L1938.43,821.62 L1938.77,820.40 L1939.10,819.31 L1939.44,818.34 L1939.78,817.51 L1940.11,816.80 L1940.45,816.22 L1940.79,815.76 L1941.12,815.43 L1941.46,815.22 L1941.79,815.13 L1942.13,815.16 L1942.47,815.32 L1942.80,815.60 L1943.14,816.00 L1943.47,816.53 L1943.81,817.18 L1944.15,817.96 L1944.48,818.87 L1944.82,819.90 L1945.16,821.07 L1945.49,822.37 L1945.83,823.81 L1946.16,825.38 L1946.50,827.10 L1946.84,828.96 L1947.17,830.96 L1947.51,833.12 L1947.85,835.43 L1948.18,837.90 L1948.52,840.53 L1948.85,843.33 L1949.19,846.30 L1949.53,849.44 L1949.86,852.77 L1950.20,856.28 L1950.54,859.97 L1950.87,863.87 L1951.21,867.96 L1951.54,872.26 L1951.88,876.76 L1952.22,881.48 L1952.55,886.41 L1952.89,891.57 L1953.22,896.95 L1953.56,902.55 L1953.90,908.39 L1954.23,914.45 L1954.57,920.74 L1954.91,927.26 L1955.24,934.00 L1955.58,940.96 L1955.91,948.14 L1956.25,955.51 L1956.59,963.08 L1956.92,970.82 L1957.26,978.71 L1957.60,986.75 L1957.93,994.89 L1958.27,1003.11 L1958.60,1011.39 L1958.94,1019.67 L1959.28,1027.92 L1959.61,1036.10 L1959.95,1044.14 L1960.29,1052.00 L1960.62,1059.63 L1960.96,1066.95 L1961.29,1073.91 L1961.63,1080.45 L1961.97,1086.50 L1962.30,1091.99 L1962.64,1096.88 L1962.97,1101.10 L1963.31,1104.60 L1963.65,1107.34 L1963.98,1109.28 L1964.32,1110.40 L1964.66,1110.67 L1964.99,1110.08 L1965.33,1108.64 L1965.66,1106.37 L1966.00,1103.27 L1966.34,1099.39 L1966.67,1094.75 L1967.01,1089.42 L1967.35,1083.43 L1967.68,1076.85 L1968.02,1069.73 L1968.35,1062.15 L1968.69,1054.15 L1969.03,1045.81 L1969.36,1037.19 L1969.70,1028.34 L1970.03,1019.32 L1970.37,1010.18 L1970.71,1000.97 L1971.04,991.74 L1971.38,982.52 L1971.72,973.36 L1972.05,964.27 L1972.39,955.30 L1972.72,946.46 L1973.06,937.77 L1973.40,929.25 L1973.73,920.91 L1974.07,912.76 L1974.41,904.81 L1974.74,897.07 L1975.08,889.54 L1975.41,882.22 L1975.75,875.11 L1976.09,868.22 L1976.42,861.53 L1976.76,855.05 L1977.10,848.78 L1977.43,842.70 L1977.77,836.81 L1978.10,831.12 L1978.44,825.61 L1978.78,820.27 L1979.11,815.11 L1979.45,810.11 L1979.78,805.28 L1980.12,800.60 L1980.46,796.07 L1980.79,791.68 L1981.13,787.42 L1981.47,783.30 L1981.80,779.30 L1982.14,775.43 L1982.47,771.67 L1982.81,768.02 L1983.15,764.47 L1983.48,761.02 L1983.82,757.67 L1984.16,754.41 L1984.49,751.24 L1984.83,748.15 L1985.16,745.14 L1985.50,742.20"/>
</g>
<g shape-rendering="crispEdges">
<rect x="918" y="625" width="379" height="209.5" fill="#fff" stroke="#262626" stroke-width="2"/>
<path d="M929,679.5 H953 M975,679.5 H1000" stroke="#00ff00" stroke-width="9" fill="none"/>
<path d="M929,779.5 H953 M975,779.5 H1000" stroke="#ff0000" stroke-width="9" fill="none"/>
</g>
<g font-size="78.6" fill="#000" filter="url(#bin)"><text x="1024.5" y="712">desired</text><text x="1025" y="812">actual</text></g>
</svg></body></html>
